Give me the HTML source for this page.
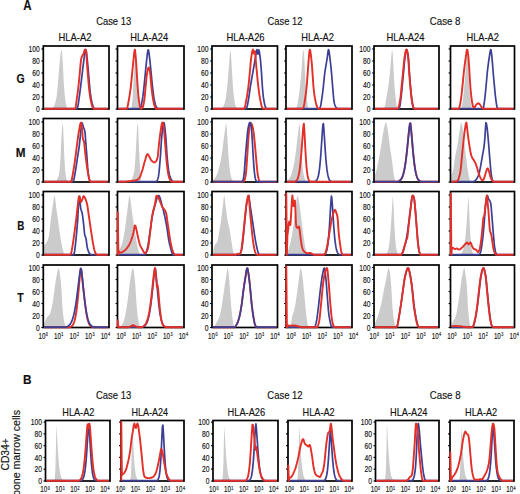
<!DOCTYPE html>
<html><head><meta charset="utf-8"><style>
html,body{margin:0;padding:0;background:#fff;}
svg{display:block;}
text{font-family:"Liberation Sans",sans-serif;fill:#111;stroke:#111;stroke-width:0.15px;}
</style></head><body>
<svg width="520" height="494" viewBox="0 0 520 494">
<rect width="520" height="494" fill="#fff"/>
<path d="M44.20,109.00 L44.20,109.00 L44.70,109.00 L45.20,109.00 L45.70,109.00 L46.20,109.00 L46.70,109.00 L47.20,109.00 L47.70,109.00 L48.20,109.00 L48.70,109.00 L49.20,109.00 L49.70,109.00 L50.20,109.00 L50.70,109.00 L51.20,109.00 L51.70,109.00 L52.20,109.00 L52.70,108.78 L53.20,108.03 L53.70,107.06 L54.20,105.91 L54.70,104.54 L55.20,102.90 L55.70,100.95 L56.20,98.64 L56.70,95.89 L57.20,91.63 L57.70,86.20 L58.20,80.44 L58.70,73.62 L59.20,67.08 L59.70,62.02 L60.20,57.03 L60.70,52.73 L61.20,50.01 L61.70,50.00 L62.20,54.70 L62.70,61.98 L63.20,70.50 L63.70,81.13 L64.20,88.66 L64.70,94.67 L65.20,98.89 L65.70,102.36 L66.20,105.08 L66.70,106.92 L67.20,108.25 L67.70,109.00 L68.20,109.00 L68.70,109.00 L69.20,109.00 L69.70,109.00 L70.20,109.00 L70.70,109.00 L71.20,109.00 L71.70,109.00 L72.20,109.00 L72.70,109.00 L73.20,109.00 L73.70,109.00 L74.20,109.00 L74.70,109.00 L75.20,109.00 L75.70,109.00 L76.20,109.00 L76.70,109.00 L77.20,109.00 L77.70,109.00 L78.20,109.00 L78.70,109.00 L79.20,109.00 L79.70,109.00 L80.20,109.00 L80.70,109.00 L81.20,109.00 L81.70,109.00 L82.20,109.00 L82.70,109.00 L83.20,109.00 L83.70,109.00 L84.20,109.00 L84.70,109.00 L85.20,109.00 L85.70,109.00 L86.20,109.00 L86.70,109.00 L87.20,109.00 L87.70,109.00 L88.20,109.00 L88.70,109.00 L89.20,109.00 L89.70,109.00 L90.20,109.00 L90.70,109.00 L91.20,109.00 L91.70,109.00 L92.20,109.00 L92.70,109.00 L93.20,109.00 L93.70,109.00 L94.20,109.00 L94.70,109.00 L95.20,109.00 L95.70,109.00 L96.20,109.00 L96.70,109.00 L97.20,109.00 L97.70,109.00 L98.20,109.00 L98.70,109.00 L99.20,109.00 L99.70,109.00 L100.20,109.00 L100.70,109.00 L101.20,109.00 L101.70,109.00 L102.20,109.00 L102.70,109.00 L103.20,109.00 L103.70,109.00 L104.20,109.00 L104.70,109.00 L105.20,109.00 L105.70,109.00 L106.20,109.00 L106.70,109.00 L107.20,109.00 L107.70,109.00 L107.70,109.00 Z" fill="#cbcbcb"/>
<rect x="43.3" y="46" width="65.70" height="63.00" fill="none" stroke="#000" stroke-width="1.7"/>
<line x1="41.40" y1="109.00" x2="43.3" y2="109.00" stroke="#000" stroke-width="1.2"/>
<line x1="41.40" y1="97.00" x2="43.3" y2="97.00" stroke="#000" stroke-width="1.2"/>
<line x1="41.40" y1="85.00" x2="43.3" y2="85.00" stroke="#000" stroke-width="1.2"/>
<line x1="41.40" y1="73.00" x2="43.3" y2="73.00" stroke="#000" stroke-width="1.2"/>
<line x1="41.40" y1="61.00" x2="43.3" y2="61.00" stroke="#000" stroke-width="1.2"/>
<line x1="41.40" y1="49.00" x2="43.3" y2="49.00" stroke="#000" stroke-width="1.2"/>
<path d="M44.2,108.7 L44.7,108.7 L45.2,108.7 L45.7,108.7 L46.2,108.7 L46.7,108.7 L47.2,108.7 L47.7,108.7 L48.2,108.7 L48.7,108.7 L49.2,108.7 L49.7,108.7 L50.2,108.7 L50.7,108.7 L51.2,108.7 L51.7,108.7 L52.2,108.7 L52.7,108.7 L53.2,108.7 L53.7,108.7 L54.2,108.7 L54.7,108.7 L55.2,108.7 L55.7,108.7 L56.2,108.7 L56.7,108.7 L57.2,108.7 L57.7,108.7 L58.2,108.7 L58.7,108.7 L59.2,108.7 L59.7,108.7 L60.2,108.7 L60.7,108.7 L61.2,108.7 L61.7,108.7 L62.2,108.7 L62.7,108.7 L63.2,108.7 L63.7,108.7 L64.2,108.7 L64.7,108.7 L65.2,108.7 L65.7,108.7 L66.2,108.7 L66.7,108.7 L67.2,108.7 L67.7,108.7 L68.2,108.7 L68.7,108.7 L69.2,108.7 L69.7,108.7 L70.2,108.7 L70.7,108.7 L71.2,108.7 L71.7,108.7 L72.2,108.7 L72.7,108.7 L73.2,108.7 L73.7,108.7 L74.2,108.7 L74.7,108.7 L75.2,108.7 L75.7,108.7 L76.2,108.7 L76.7,108.7 L77.2,108.1 L77.7,107.1 L78.2,104.6 L78.7,101.2 L79.2,97.5 L79.7,93.9 L80.2,90.1 L80.7,86.1 L81.2,81.9 L81.7,77.8 L82.2,73.6 L82.7,69.3 L83.2,65.1 L83.7,61.2 L84.2,57.5 L84.7,54.2 L85.2,51.4 L85.7,49.5 L86.2,50.9 L86.7,54.4 L87.2,59.1 L87.7,64.0 L88.2,69.3 L88.7,75.6 L89.2,81.6 L89.7,87.1 L90.2,92.1 L90.7,96.0 L91.2,98.9 L91.7,101.4 L92.2,103.4 L92.7,105.2 L93.2,106.6 L93.7,107.9 L94.2,108.7 L94.7,108.7 L95.2,108.7 L95.7,108.7 L96.2,108.7 L96.7,108.7 L97.2,108.7 L97.7,108.7 L98.2,108.7 L98.7,108.7 L99.2,108.7 L99.7,108.7 L100.2,108.7 L100.7,108.7 L101.2,108.7 L101.7,108.7 L102.2,108.7 L102.7,108.7 L103.2,108.7 L103.7,108.7 L104.2,108.7 L104.7,108.7 L105.2,108.7 L105.7,108.7 L106.2,108.7 L106.7,108.7 L107.2,108.7 L107.7,108.7" fill="none" stroke="#3c3f94" stroke-width="1.7" stroke-linejoin="round"/>
<path d="M44.2,108.7 L44.7,108.7 L45.2,108.7 L45.7,108.7 L46.2,108.7 L46.7,108.7 L47.2,108.7 L47.7,108.7 L48.2,108.7 L48.7,108.7 L49.2,108.7 L49.7,108.7 L50.2,108.7 L50.7,108.7 L51.2,108.7 L51.7,108.7 L52.2,108.7 L52.7,108.7 L53.2,108.7 L53.7,108.7 L54.2,108.7 L54.7,108.7 L55.2,108.7 L55.7,108.7 L56.2,108.7 L56.7,108.7 L57.2,108.7 L57.7,108.7 L58.2,108.7 L58.7,108.7 L59.2,108.7 L59.7,108.7 L60.2,108.7 L60.7,108.7 L61.2,108.7 L61.7,108.7 L62.2,108.7 L62.7,108.7 L63.2,108.7 L63.7,108.7 L64.2,108.7 L64.7,108.7 L65.2,108.7 L65.7,108.7 L66.2,108.7 L66.7,108.7 L67.2,108.7 L67.7,108.7 L68.2,108.7 L68.7,108.7 L69.2,108.7 L69.7,108.7 L70.2,108.7 L70.7,108.7 L71.2,108.7 L71.7,108.7 L72.2,108.7 L72.7,108.7 L73.2,108.7 L73.7,108.7 L74.2,108.7 L74.7,108.7 L75.2,108.7 L75.7,107.4 L76.2,103.6 L76.7,99.5 L77.2,95.9 L77.7,92.3 L78.2,88.3 L78.7,84.0 L79.2,79.0 L79.7,73.6 L80.2,68.1 L80.7,62.4 L81.2,59.0 L81.7,56.9 L82.2,55.8 L82.7,55.1 L83.2,54.4 L83.7,53.4 L84.2,51.6 L84.7,49.9 L85.2,49.5 L85.7,49.8 L86.2,51.2 L86.7,58.5 L87.2,66.3 L87.7,72.6 L88.2,78.7 L88.7,84.7 L89.2,90.0 L89.7,93.9 L90.2,97.3 L90.7,100.0 L91.2,102.4 L91.7,104.5 L92.2,106.3 L92.7,107.4 L93.2,108.3 L93.7,108.7 L94.2,108.7 L94.7,108.7 L95.2,108.7 L95.7,108.7 L96.2,108.7 L96.7,108.7 L97.2,108.7 L97.7,108.7 L98.2,108.7 L98.7,108.7 L99.2,108.7 L99.7,108.7 L100.2,108.7 L100.7,108.7 L101.2,108.7 L101.7,108.7 L102.2,108.7 L102.7,108.7 L103.2,108.7 L103.7,108.7 L104.2,108.7 L104.7,108.7 L105.2,108.7 L105.7,108.7 L106.2,108.7 L106.7,108.7 L107.2,108.7 L107.7,108.7" fill="none" stroke="#e22f27" stroke-width="1.9" stroke-linejoin="round"/>
<path d="M118.40,109.00 L118.40,109.00 L118.90,109.00 L119.40,109.00 L119.90,109.00 L120.40,109.00 L120.90,109.00 L121.40,109.00 L121.90,109.00 L122.40,109.00 L122.90,109.00 L123.40,109.00 L123.90,109.00 L124.40,109.00 L124.90,109.00 L125.40,109.00 L125.90,109.00 L126.40,109.00 L126.90,109.00 L127.40,109.00 L127.90,109.00 L128.40,109.00 L128.90,109.00 L129.40,109.00 L129.90,109.00 L130.40,109.00 L130.90,109.00 L131.40,108.13 L131.90,105.25 L132.40,101.07 L132.90,93.36 L133.40,84.60 L133.90,74.62 L134.40,65.71 L134.90,56.96 L135.40,51.48 L135.90,54.52 L136.40,63.64 L136.90,73.34 L137.40,84.45 L137.90,93.04 L138.40,100.09 L138.90,104.56 L139.40,107.71 L139.90,109.00 L140.40,109.00 L140.90,109.00 L141.40,109.00 L141.90,109.00 L142.40,109.00 L142.90,109.00 L143.40,109.00 L143.90,109.00 L144.40,109.00 L144.90,109.00 L145.40,109.00 L145.90,109.00 L146.40,109.00 L146.90,109.00 L147.40,109.00 L147.90,109.00 L148.40,109.00 L148.90,109.00 L149.40,109.00 L149.90,109.00 L150.40,109.00 L150.90,109.00 L151.40,109.00 L151.90,109.00 L152.40,109.00 L152.90,109.00 L153.40,109.00 L153.90,109.00 L154.40,109.00 L154.90,109.00 L155.40,109.00 L155.90,109.00 L156.40,109.00 L156.90,109.00 L157.40,109.00 L157.90,109.00 L158.40,109.00 L158.90,109.00 L159.40,109.00 L159.90,109.00 L160.40,109.00 L160.90,109.00 L161.40,109.00 L161.90,109.00 L162.40,109.00 L162.90,109.00 L163.40,109.00 L163.90,109.00 L164.40,109.00 L164.90,109.00 L165.40,109.00 L165.90,109.00 L166.40,109.00 L166.90,109.00 L167.40,109.00 L167.90,109.00 L168.40,109.00 L168.90,109.00 L169.40,109.00 L169.90,109.00 L170.40,109.00 L170.90,109.00 L171.40,109.00 L171.90,109.00 L172.40,109.00 L172.90,109.00 L173.40,109.00 L173.90,109.00 L174.40,109.00 L174.90,109.00 L175.40,109.00 L175.90,109.00 L176.40,109.00 L176.90,109.00 L177.40,109.00 L177.90,109.00 L178.40,109.00 L178.90,109.00 L179.40,109.00 L179.90,109.00 L180.40,109.00 L180.90,109.00 L181.40,109.00 L181.90,109.00 L182.40,109.00 L182.90,109.00 L182.90,109.00 Z" fill="#cbcbcb"/>
<rect x="117.5" y="46" width="66.50" height="63.00" fill="none" stroke="#000" stroke-width="1.7"/>
<line x1="115.60" y1="109.00" x2="117.5" y2="109.00" stroke="#000" stroke-width="1.2"/>
<line x1="115.60" y1="97.00" x2="117.5" y2="97.00" stroke="#000" stroke-width="1.2"/>
<line x1="115.60" y1="85.00" x2="117.5" y2="85.00" stroke="#000" stroke-width="1.2"/>
<line x1="115.60" y1="73.00" x2="117.5" y2="73.00" stroke="#000" stroke-width="1.2"/>
<line x1="115.60" y1="61.00" x2="117.5" y2="61.00" stroke="#000" stroke-width="1.2"/>
<line x1="115.60" y1="49.00" x2="117.5" y2="49.00" stroke="#000" stroke-width="1.2"/>
<path d="M118.4,108.7 L118.9,108.7 L119.4,108.7 L119.9,108.7 L120.4,108.7 L120.9,108.7 L121.4,108.7 L121.9,108.7 L122.4,108.7 L122.9,108.7 L123.4,108.7 L123.9,108.7 L124.4,108.7 L124.9,108.7 L125.4,108.7 L125.9,108.7 L126.4,108.7 L126.9,108.7 L127.4,108.7 L127.9,108.7 L128.4,108.7 L128.9,108.7 L129.4,108.7 L129.9,108.7 L130.4,108.7 L130.9,108.7 L131.4,108.7 L131.9,108.7 L132.4,108.7 L132.9,108.7 L133.4,108.7 L133.9,108.7 L134.4,108.7 L134.9,108.7 L135.4,108.7 L135.9,108.7 L136.4,108.7 L136.9,108.7 L137.4,108.7 L137.9,108.7 L138.4,108.7 L138.9,108.7 L139.4,108.7 L139.9,108.7 L140.4,108.2 L140.9,106.8 L141.4,104.7 L141.9,102.1 L142.4,99.5 L142.9,96.2 L143.4,92.1 L143.9,87.6 L144.4,82.9 L144.9,77.8 L145.4,72.5 L145.9,67.4 L146.4,62.3 L146.9,57.8 L147.4,53.6 L147.9,50.2 L148.4,49.8 L148.9,52.4 L149.4,56.3 L149.9,60.3 L150.4,65.3 L150.9,70.5 L151.4,75.7 L151.9,81.0 L152.4,85.8 L152.9,90.2 L153.4,94.3 L153.9,97.8 L154.4,100.4 L154.9,102.6 L155.4,104.5 L155.9,106.0 L156.4,107.1 L156.9,107.7 L157.4,108.3 L157.9,108.7 L158.4,108.7 L158.9,108.7 L159.4,108.7 L159.9,108.7 L160.4,108.7 L160.9,108.7 L161.4,108.7 L161.9,108.7 L162.4,108.7 L162.9,108.7 L163.4,108.7 L163.9,108.7 L164.4,108.7 L164.9,108.7 L165.4,108.7 L165.9,108.7 L166.4,108.7 L166.9,108.7 L167.4,108.7 L167.9,108.7 L168.4,108.7 L168.9,108.7 L169.4,108.7 L169.9,108.7 L170.4,108.7 L170.9,108.7 L171.4,108.7 L171.9,108.7 L172.4,108.7 L172.9,108.7 L173.4,108.7 L173.9,108.7 L174.4,108.7 L174.9,108.7 L175.4,108.7 L175.9,108.7 L176.4,108.7 L176.9,108.7 L177.4,108.7 L177.9,108.7 L178.4,108.7 L178.9,108.7 L179.4,108.7 L179.9,108.7 L180.4,108.7 L180.9,108.7 L181.4,108.7 L181.9,108.7 L182.4,108.7 L182.9,108.7" fill="none" stroke="#3c3f94" stroke-width="1.7" stroke-linejoin="round"/>
<path d="M118.4,108.7 L118.9,108.7 L119.4,108.7 L119.9,108.7 L120.4,108.7 L120.9,108.7 L121.4,108.7 L121.9,108.7 L122.4,108.7 L122.9,108.7 L123.4,108.7 L123.9,108.7 L124.4,108.7 L124.9,108.7 L125.4,108.7 L125.9,108.7 L126.4,108.7 L126.9,108.6 L127.4,107.4 L127.9,105.1 L128.4,102.3 L128.9,99.5 L129.4,96.6 L129.9,93.4 L130.4,89.8 L130.9,85.8 L131.4,81.1 L131.9,75.7 L132.4,70.5 L132.9,65.4 L133.4,60.5 L133.9,56.0 L134.4,51.2 L134.9,49.6 L135.4,53.3 L135.9,59.0 L136.4,66.6 L136.9,74.7 L137.4,82.9 L137.9,89.8 L138.4,95.9 L138.9,100.2 L139.4,103.6 L139.9,106.4 L140.4,108.1 L140.9,108.6 L141.4,108.7 L141.9,108.5 L142.4,107.9 L142.9,106.9 L143.4,105.1 L143.9,102.5 L144.4,99.5 L144.9,94.9 L145.4,89.0 L145.9,83.8 L146.4,78.6 L146.9,74.0 L147.4,71.1 L147.9,69.0 L148.4,67.6 L148.9,67.5 L149.4,69.1 L149.9,71.5 L150.4,75.7 L150.9,81.6 L151.4,86.7 L151.9,91.0 L152.4,94.9 L152.9,98.3 L153.4,101.1 L153.9,103.5 L154.4,105.6 L154.9,107.0 L155.4,107.9 L155.9,108.6 L156.4,108.7 L156.9,108.7 L157.4,108.7 L157.9,108.7 L158.4,108.7 L158.9,108.7 L159.4,108.7 L159.9,108.7 L160.4,108.7 L160.9,108.7 L161.4,108.7 L161.9,108.7 L162.4,108.7 L162.9,108.7 L163.4,108.7 L163.9,108.7 L164.4,108.7 L164.9,108.7 L165.4,108.7 L165.9,108.7 L166.4,108.7 L166.9,108.7 L167.4,108.7 L167.9,108.7 L168.4,108.7 L168.9,108.7 L169.4,108.7 L169.9,108.7 L170.4,108.7 L170.9,108.7 L171.4,108.7 L171.9,108.7 L172.4,108.7 L172.9,108.7 L173.4,108.7 L173.9,108.7 L174.4,108.7 L174.9,108.7 L175.4,108.7 L175.9,108.7 L176.4,108.7 L176.9,108.7 L177.4,108.7 L177.9,108.7 L178.4,108.7 L178.9,108.7 L179.4,108.7 L179.9,108.7 L180.4,108.7 L180.9,108.7 L181.4,108.7 L181.9,108.7 L182.4,108.7 L182.9,108.7" fill="none" stroke="#e22f27" stroke-width="1.9" stroke-linejoin="round"/>
<path d="M212.90,109.00 L212.90,109.00 L213.40,109.00 L213.90,109.00 L214.40,109.00 L214.90,109.00 L215.40,109.00 L215.90,108.99 L216.40,108.99 L216.90,108.98 L217.40,108.97 L217.90,108.96 L218.40,108.94 L218.90,108.91 L219.40,108.86 L219.90,108.79 L220.40,108.69 L220.90,108.54 L221.40,108.33 L221.90,108.04 L222.40,107.63 L222.90,107.07 L223.40,106.31 L223.90,105.29 L224.40,103.94 L224.90,102.19 L225.40,99.96 L225.90,97.15 L226.40,93.70 L226.90,89.54 L227.40,84.64 L227.90,79.03 L228.40,72.83 L228.90,66.27 L229.40,59.73 L229.90,53.86 L230.40,49.81 L230.90,53.19 L231.40,61.08 L231.90,69.90 L232.40,78.36 L232.90,85.81 L233.40,91.98 L233.90,96.85 L234.40,100.55 L234.90,103.26 L235.40,105.19 L235.90,106.53 L236.40,107.42 L236.90,108.02 L237.40,108.40 L237.90,108.64 L238.40,108.79 L238.90,108.88 L239.40,108.93 L239.90,108.96 L240.40,108.98 L240.90,108.99 L241.40,108.99 L241.90,109.00 L242.40,109.00 L242.90,109.00 L243.40,109.00 L243.90,109.00 L244.40,109.00 L244.90,109.00 L245.40,109.00 L245.90,109.00 L246.40,109.00 L246.90,109.00 L247.40,109.00 L247.90,109.00 L248.40,109.00 L248.90,109.00 L249.40,109.00 L249.90,109.00 L250.40,109.00 L250.90,109.00 L251.40,109.00 L251.90,109.00 L252.40,109.00 L252.90,109.00 L253.40,109.00 L253.90,109.00 L254.40,109.00 L254.90,109.00 L255.40,109.00 L255.90,109.00 L256.40,109.00 L256.90,109.00 L257.40,109.00 L257.90,109.00 L258.40,109.00 L258.90,109.00 L259.40,109.00 L259.90,109.00 L260.40,109.00 L260.90,109.00 L261.40,109.00 L261.90,109.00 L262.40,109.00 L262.90,109.00 L263.40,109.00 L263.90,109.00 L264.40,109.00 L264.90,109.00 L265.40,109.00 L265.90,109.00 L266.40,109.00 L266.90,109.00 L267.40,109.00 L267.90,109.00 L268.40,109.00 L268.90,109.00 L269.40,109.00 L269.90,109.00 L270.40,109.00 L270.90,109.00 L271.40,109.00 L271.90,109.00 L272.40,109.00 L272.90,109.00 L273.40,109.00 L273.90,109.00 L274.40,109.00 L274.90,109.00 L275.40,109.00 L275.90,109.00 L276.40,109.00 L276.40,109.00 Z" fill="#cbcbcb"/>
<rect x="212" y="46" width="65.50" height="63.00" fill="none" stroke="#000" stroke-width="1.7"/>
<line x1="210.10" y1="109.00" x2="212" y2="109.00" stroke="#000" stroke-width="1.2"/>
<line x1="210.10" y1="97.00" x2="212" y2="97.00" stroke="#000" stroke-width="1.2"/>
<line x1="210.10" y1="85.00" x2="212" y2="85.00" stroke="#000" stroke-width="1.2"/>
<line x1="210.10" y1="73.00" x2="212" y2="73.00" stroke="#000" stroke-width="1.2"/>
<line x1="210.10" y1="61.00" x2="212" y2="61.00" stroke="#000" stroke-width="1.2"/>
<line x1="210.10" y1="49.00" x2="212" y2="49.00" stroke="#000" stroke-width="1.2"/>
<path d="M212.9,108.7 L213.4,108.7 L213.9,108.7 L214.4,108.7 L214.9,108.7 L215.4,108.7 L215.9,108.7 L216.4,108.7 L216.9,108.7 L217.4,108.7 L217.9,108.7 L218.4,108.7 L218.9,108.7 L219.4,108.7 L219.9,108.7 L220.4,108.7 L220.9,108.7 L221.4,108.7 L221.9,108.7 L222.4,108.7 L222.9,108.7 L223.4,108.7 L223.9,108.7 L224.4,108.7 L224.9,108.7 L225.4,108.7 L225.9,108.7 L226.4,108.7 L226.9,108.7 L227.4,108.7 L227.9,108.7 L228.4,108.7 L228.9,108.7 L229.4,108.7 L229.9,108.7 L230.4,108.7 L230.9,108.7 L231.4,108.7 L231.9,108.7 L232.4,108.7 L232.9,108.7 L233.4,108.7 L233.9,108.7 L234.4,108.7 L234.9,108.7 L235.4,108.7 L235.9,108.7 L236.4,108.7 L236.9,108.7 L237.4,108.7 L237.9,108.7 L238.4,108.7 L238.9,108.7 L239.4,108.7 L239.9,108.7 L240.4,108.7 L240.9,108.7 L241.4,108.7 L241.9,108.7 L242.4,108.7 L242.9,108.7 L243.4,108.7 L243.9,108.7 L244.4,108.7 L244.9,108.7 L245.4,108.7 L245.9,108.7 L246.4,108.4 L246.9,107.4 L247.4,105.4 L247.9,102.8 L248.4,100.0 L248.9,97.1 L249.4,93.6 L249.9,89.9 L250.4,86.4 L250.9,83.4 L251.4,80.5 L251.9,77.7 L252.4,74.9 L252.9,72.1 L253.4,69.2 L253.9,66.4 L254.4,63.6 L254.9,60.7 L255.4,57.8 L255.9,54.2 L256.4,50.7 L256.9,49.6 L257.4,52.6 L257.9,54.1 L258.4,50.2 L258.9,49.9 L259.4,52.2 L259.9,55.6 L260.4,59.5 L260.9,65.0 L261.4,71.5 L261.9,79.6 L262.4,87.0 L262.9,92.7 L263.4,97.4 L263.9,100.6 L264.4,103.2 L264.9,105.4 L265.4,107.0 L265.9,108.0 L266.4,108.6 L266.9,108.7 L267.4,108.7 L267.9,108.7 L268.4,108.7 L268.9,108.7 L269.4,108.7 L269.9,108.7 L270.4,108.7 L270.9,108.7 L271.4,108.7 L271.9,108.7 L272.4,108.7 L272.9,108.7 L273.4,108.7 L273.9,108.7 L274.4,108.7 L274.9,108.7 L275.4,108.7 L275.9,108.7 L276.4,108.7" fill="none" stroke="#3c3f94" stroke-width="1.7" stroke-linejoin="round"/>
<path d="M212.9,108.7 L213.4,108.7 L213.9,108.7 L214.4,108.7 L214.9,108.7 L215.4,108.7 L215.9,108.7 L216.4,108.7 L216.9,108.7 L217.4,108.7 L217.9,108.7 L218.4,108.7 L218.9,108.7 L219.4,108.7 L219.9,108.7 L220.4,108.7 L220.9,108.7 L221.4,108.7 L221.9,108.7 L222.4,108.7 L222.9,108.7 L223.4,108.7 L223.9,108.7 L224.4,108.7 L224.9,108.7 L225.4,108.7 L225.9,108.7 L226.4,108.7 L226.9,108.7 L227.4,108.7 L227.9,108.7 L228.4,108.7 L228.9,108.7 L229.4,108.7 L229.9,108.7 L230.4,108.7 L230.9,108.7 L231.4,108.7 L231.9,108.7 L232.4,108.7 L232.9,108.7 L233.4,108.7 L233.9,108.7 L234.4,108.7 L234.9,108.7 L235.4,108.7 L235.9,108.7 L236.4,108.7 L236.9,108.7 L237.4,108.7 L237.9,108.7 L238.4,108.7 L238.9,108.7 L239.4,108.7 L239.9,108.7 L240.4,108.7 L240.9,108.7 L241.4,108.7 L241.9,108.7 L242.4,108.7 L242.9,108.7 L243.4,108.7 L243.9,108.6 L244.4,108.3 L244.9,107.1 L245.4,104.9 L245.9,102.2 L246.4,99.5 L246.9,96.8 L247.4,93.7 L247.9,90.3 L248.4,86.6 L248.9,82.2 L249.4,76.9 L249.9,71.5 L250.4,65.8 L250.9,60.3 L251.4,56.5 L251.9,53.3 L252.4,50.8 L252.9,49.5 L253.4,51.6 L253.9,53.5 L254.4,51.2 L254.9,51.6 L255.4,55.4 L255.9,61.8 L256.4,67.5 L256.9,72.5 L257.4,77.9 L257.9,83.1 L258.4,87.4 L258.9,91.3 L259.4,94.8 L259.9,97.9 L260.4,100.5 L260.9,103.0 L261.4,105.3 L261.9,107.0 L262.4,107.9 L262.9,108.4 L263.4,108.7 L263.9,108.7 L264.4,108.7 L264.9,108.7 L265.4,108.7 L265.9,108.7 L266.4,108.7 L266.9,108.7 L267.4,108.7 L267.9,108.7 L268.4,108.7 L268.9,108.7 L269.4,108.7 L269.9,108.7 L270.4,108.7 L270.9,108.7 L271.4,108.7 L271.9,108.7 L272.4,108.7 L272.9,108.7 L273.4,108.7 L273.9,108.7 L274.4,108.7 L274.9,108.7 L275.4,108.7 L275.9,108.7 L276.4,108.7" fill="none" stroke="#e22f27" stroke-width="1.9" stroke-linejoin="round"/>
<path d="M286.90,109.00 L286.90,109.00 L287.40,109.00 L287.90,109.00 L288.40,109.00 L288.90,109.00 L289.40,109.00 L289.90,109.00 L290.40,109.00 L290.90,109.00 L291.40,109.00 L291.90,109.00 L292.40,109.00 L292.90,109.00 L293.40,109.00 L293.90,109.00 L294.40,109.00 L294.90,109.00 L295.40,108.89 L295.90,108.50 L296.40,107.89 L296.90,107.03 L297.40,105.05 L297.90,102.15 L298.40,98.81 L298.90,95.41 L299.40,91.39 L299.90,86.98 L300.40,82.60 L300.90,78.03 L301.40,72.70 L301.90,65.16 L302.40,58.22 L302.90,52.37 L303.40,49.50 L303.90,52.67 L304.40,59.38 L304.90,70.58 L305.40,79.92 L305.90,87.47 L306.40,93.70 L306.90,98.73 L307.40,103.44 L307.90,106.81 L308.40,107.99 L308.90,108.67 L309.40,108.99 L309.90,109.00 L310.40,109.00 L310.90,109.00 L311.40,109.00 L311.90,109.00 L312.40,109.00 L312.90,109.00 L313.40,109.00 L313.90,109.00 L314.40,109.00 L314.90,109.00 L315.40,109.00 L315.90,109.00 L316.40,109.00 L316.90,109.00 L317.40,109.00 L317.90,109.00 L318.40,109.00 L318.90,109.00 L319.40,109.00 L319.90,109.00 L320.40,109.00 L320.90,109.00 L321.40,109.00 L321.90,109.00 L322.40,109.00 L322.90,109.00 L323.40,109.00 L323.90,109.00 L324.40,109.00 L324.90,109.00 L325.40,109.00 L325.90,109.00 L326.40,109.00 L326.90,109.00 L327.40,109.00 L327.90,109.00 L328.40,109.00 L328.90,109.00 L329.40,109.00 L329.90,109.00 L330.40,109.00 L330.90,109.00 L331.40,109.00 L331.90,109.00 L332.40,109.00 L332.90,109.00 L333.40,109.00 L333.90,109.00 L334.40,109.00 L334.90,109.00 L335.40,109.00 L335.90,109.00 L336.40,109.00 L336.90,109.00 L337.40,109.00 L337.90,109.00 L338.40,109.00 L338.90,109.00 L339.40,109.00 L339.90,109.00 L340.40,109.00 L340.90,109.00 L341.40,109.00 L341.90,109.00 L342.40,109.00 L342.90,109.00 L343.40,109.00 L343.90,109.00 L344.40,109.00 L344.90,109.00 L345.40,109.00 L345.90,109.00 L346.40,109.00 L346.90,109.00 L347.40,109.00 L347.90,109.00 L348.40,109.00 L348.90,109.00 L349.40,109.00 L349.90,109.00 L350.40,109.00 L350.90,109.00 L350.90,109.00 Z" fill="#cbcbcb"/>
<rect x="286" y="46" width="66.00" height="63.00" fill="none" stroke="#000" stroke-width="1.7"/>
<line x1="284.10" y1="109.00" x2="286" y2="109.00" stroke="#000" stroke-width="1.2"/>
<line x1="284.10" y1="97.00" x2="286" y2="97.00" stroke="#000" stroke-width="1.2"/>
<line x1="284.10" y1="85.00" x2="286" y2="85.00" stroke="#000" stroke-width="1.2"/>
<line x1="284.10" y1="73.00" x2="286" y2="73.00" stroke="#000" stroke-width="1.2"/>
<line x1="284.10" y1="61.00" x2="286" y2="61.00" stroke="#000" stroke-width="1.2"/>
<line x1="284.10" y1="49.00" x2="286" y2="49.00" stroke="#000" stroke-width="1.2"/>
<path d="M286.9,108.7 L287.4,108.7 L287.9,108.7 L288.4,108.7 L288.9,108.7 L289.4,108.7 L289.9,108.7 L290.4,108.7 L290.9,108.7 L291.4,108.7 L291.9,108.7 L292.4,108.7 L292.9,108.7 L293.4,108.7 L293.9,108.7 L294.4,108.7 L294.9,108.7 L295.4,108.7 L295.9,108.7 L296.4,108.7 L296.9,108.7 L297.4,108.7 L297.9,108.7 L298.4,108.7 L298.9,108.7 L299.4,108.7 L299.9,108.7 L300.4,108.7 L300.9,108.7 L301.4,108.7 L301.9,108.7 L302.4,108.7 L302.9,108.7 L303.4,108.7 L303.9,108.7 L304.4,108.7 L304.9,108.7 L305.4,108.7 L305.9,108.7 L306.4,108.7 L306.9,108.7 L307.4,108.7 L307.9,108.7 L308.4,108.7 L308.9,108.7 L309.4,108.7 L309.9,108.7 L310.4,108.7 L310.9,108.7 L311.4,108.7 L311.9,108.7 L312.4,108.7 L312.9,108.7 L313.4,108.7 L313.9,108.7 L314.4,108.7 L314.9,108.7 L315.4,108.7 L315.9,108.7 L316.4,108.7 L316.9,108.7 L317.4,108.7 L317.9,108.7 L318.4,108.7 L318.9,108.7 L319.4,108.3 L319.9,107.7 L320.4,106.8 L320.9,104.6 L321.4,101.5 L321.9,98.1 L322.4,94.7 L322.9,90.5 L323.4,86.1 L323.9,81.2 L324.4,76.2 L324.9,72.0 L325.4,68.8 L325.9,65.9 L326.4,62.9 L326.9,59.8 L327.4,56.6 L327.9,52.6 L328.4,49.6 L328.9,50.5 L329.4,53.7 L329.9,57.8 L330.4,61.8 L330.9,66.5 L331.4,71.6 L331.9,77.4 L332.4,83.9 L332.9,89.9 L333.4,96.0 L333.9,101.0 L334.4,103.4 L334.9,105.0 L335.4,106.3 L335.9,107.2 L336.4,107.8 L336.9,108.4 L337.4,108.7 L337.9,108.7 L338.4,108.7 L338.9,108.7 L339.4,108.7 L339.9,108.7 L340.4,108.7 L340.9,108.7 L341.4,108.7 L341.9,108.7 L342.4,108.7 L342.9,108.7 L343.4,108.7 L343.9,108.7 L344.4,108.7 L344.9,108.7 L345.4,108.7 L345.9,108.7 L346.4,108.7 L346.9,108.7 L347.4,108.7 L347.9,108.7 L348.4,108.7 L348.9,108.7 L349.4,108.7 L349.9,108.7 L350.4,108.7 L350.9,108.7" fill="none" stroke="#3c3f94" stroke-width="1.7" stroke-linejoin="round"/>
<path d="M286.9,108.7 L287.4,108.7 L287.9,108.7 L288.4,108.7 L288.9,108.7 L289.4,108.7 L289.9,108.7 L290.4,108.7 L290.9,108.7 L291.4,108.7 L291.9,108.7 L292.4,108.7 L292.9,108.7 L293.4,108.7 L293.9,108.7 L294.4,108.7 L294.9,108.7 L295.4,108.7 L295.9,108.7 L296.4,108.7 L296.9,108.7 L297.4,108.7 L297.9,108.7 L298.4,108.7 L298.9,108.7 L299.4,108.7 L299.9,108.7 L300.4,108.7 L300.9,108.7 L301.4,108.7 L301.9,108.7 L302.4,108.6 L302.9,108.1 L303.4,107.5 L303.9,106.0 L304.4,103.4 L304.9,100.2 L305.4,96.8 L305.9,93.2 L306.4,89.0 L306.9,83.8 L307.4,76.9 L307.9,70.0 L308.4,63.0 L308.9,57.1 L309.4,51.5 L309.9,49.6 L310.4,51.5 L310.9,55.1 L311.4,59.4 L311.9,64.7 L312.4,71.4 L312.9,78.9 L313.4,86.1 L313.9,91.0 L314.4,94.9 L314.9,97.9 L315.4,100.5 L315.9,102.9 L316.4,104.9 L316.9,106.4 L317.4,107.5 L317.9,108.2 L318.4,108.7 L318.9,108.7 L319.4,108.7 L319.9,108.7 L320.4,108.7 L320.9,108.7 L321.4,108.7 L321.9,108.7 L322.4,108.7 L322.9,108.7 L323.4,108.7 L323.9,108.7 L324.4,108.7 L324.9,108.7 L325.4,108.7 L325.9,108.7 L326.4,108.7 L326.9,108.7 L327.4,108.7 L327.9,108.7 L328.4,108.7 L328.9,108.7 L329.4,108.7 L329.9,108.7 L330.4,108.7 L330.9,108.7 L331.4,108.7 L331.9,108.7 L332.4,108.7 L332.9,108.7 L333.4,108.7 L333.9,108.7 L334.4,108.7 L334.9,108.7 L335.4,108.7 L335.9,108.7 L336.4,108.7 L336.9,108.7 L337.4,108.7 L337.9,108.7 L338.4,108.7 L338.9,108.7 L339.4,108.7 L339.9,108.7 L340.4,108.7 L340.9,108.7 L341.4,108.7 L341.9,108.7 L342.4,108.7 L342.9,108.7 L343.4,108.7 L343.9,108.7 L344.4,108.7 L344.9,108.7 L345.4,108.7 L345.9,108.7 L346.4,108.7 L346.9,108.7 L347.4,108.7 L347.9,108.7 L348.4,108.7 L348.9,108.7 L349.4,108.7 L349.9,108.7 L350.4,108.7 L350.9,108.7" fill="none" stroke="#e22f27" stroke-width="1.9" stroke-linejoin="round"/>
<path d="M374.90,109.00 L374.90,109.00 L375.40,109.00 L375.90,109.00 L376.40,109.00 L376.90,109.00 L377.40,109.00 L377.90,109.00 L378.40,109.00 L378.90,109.00 L379.40,109.00 L379.90,109.00 L380.40,109.00 L380.90,109.00 L381.40,109.00 L381.90,109.00 L382.40,109.00 L382.90,109.00 L383.40,108.83 L383.90,108.25 L384.40,107.40 L384.90,105.99 L385.40,103.51 L385.90,100.58 L386.40,97.82 L386.90,95.13 L387.40,92.32 L387.90,89.29 L388.40,85.92 L388.90,82.02 L389.40,77.48 L389.90,72.53 L390.40,67.06 L390.90,61.11 L391.40,55.55 L391.90,50.20 L392.40,50.81 L392.90,56.54 L393.40,65.15 L393.90,75.67 L394.40,85.20 L394.90,91.06 L395.40,95.63 L395.90,99.71 L396.40,103.84 L396.90,106.88 L397.40,108.25 L397.90,108.98 L398.40,109.00 L398.90,109.00 L399.40,109.00 L399.90,109.00 L400.40,109.00 L400.90,109.00 L401.40,109.00 L401.90,109.00 L402.40,109.00 L402.90,109.00 L403.40,109.00 L403.90,109.00 L404.40,109.00 L404.90,109.00 L405.40,109.00 L405.90,109.00 L406.40,109.00 L406.90,109.00 L407.40,109.00 L407.90,109.00 L408.40,109.00 L408.90,109.00 L409.40,109.00 L409.90,109.00 L410.40,109.00 L410.90,109.00 L411.40,109.00 L411.90,109.00 L412.40,109.00 L412.90,109.00 L413.40,109.00 L413.90,109.00 L414.40,109.00 L414.90,109.00 L415.40,109.00 L415.90,109.00 L416.40,109.00 L416.90,109.00 L417.40,109.00 L417.90,109.00 L418.40,109.00 L418.90,109.00 L419.40,109.00 L419.90,109.00 L420.40,109.00 L420.90,109.00 L421.40,109.00 L421.90,109.00 L422.40,109.00 L422.90,109.00 L423.40,109.00 L423.90,109.00 L424.40,109.00 L424.90,109.00 L425.40,109.00 L425.90,109.00 L426.40,109.00 L426.90,109.00 L427.40,109.00 L427.90,109.00 L428.40,109.00 L428.90,109.00 L429.40,109.00 L429.90,109.00 L430.40,109.00 L430.90,109.00 L431.40,109.00 L431.90,109.00 L432.40,109.00 L432.90,109.00 L433.40,109.00 L433.90,109.00 L434.40,109.00 L434.90,109.00 L435.40,109.00 L435.90,109.00 L436.40,109.00 L436.90,109.00 L437.40,109.00 L437.90,109.00 L437.90,109.00 Z" fill="#cbcbcb"/>
<rect x="374" y="46" width="65.00" height="63.00" fill="none" stroke="#000" stroke-width="1.7"/>
<line x1="372.10" y1="109.00" x2="374" y2="109.00" stroke="#000" stroke-width="1.2"/>
<line x1="372.10" y1="97.00" x2="374" y2="97.00" stroke="#000" stroke-width="1.2"/>
<line x1="372.10" y1="85.00" x2="374" y2="85.00" stroke="#000" stroke-width="1.2"/>
<line x1="372.10" y1="73.00" x2="374" y2="73.00" stroke="#000" stroke-width="1.2"/>
<line x1="372.10" y1="61.00" x2="374" y2="61.00" stroke="#000" stroke-width="1.2"/>
<line x1="372.10" y1="49.00" x2="374" y2="49.00" stroke="#000" stroke-width="1.2"/>
<path d="M374.9,108.7 L375.4,108.7 L375.9,108.7 L376.4,108.7 L376.9,108.7 L377.4,108.7 L377.9,108.7 L378.4,108.7 L378.9,108.7 L379.4,108.7 L379.9,108.7 L380.4,108.7 L380.9,108.7 L381.4,108.7 L381.9,108.7 L382.4,108.7 L382.9,108.7 L383.4,108.7 L383.9,108.7 L384.4,108.7 L384.9,108.7 L385.4,108.7 L385.9,108.7 L386.4,108.7 L386.9,108.7 L387.4,108.7 L387.9,108.7 L388.4,108.7 L388.9,108.7 L389.4,108.7 L389.9,108.7 L390.4,108.7 L390.9,108.7 L391.4,108.7 L391.9,108.7 L392.4,108.7 L392.9,108.7 L393.4,108.7 L393.9,108.7 L394.4,108.7 L394.9,108.7 L395.4,108.7 L395.9,108.7 L396.4,108.7 L396.9,108.7 L397.4,108.7 L397.9,108.7 L398.4,108.7 L398.9,108.6 L399.4,108.1 L399.9,105.9 L400.4,102.6 L400.9,98.9 L401.4,94.6 L401.9,89.4 L402.4,84.2 L402.9,79.0 L403.4,73.6 L403.9,68.2 L404.4,62.4 L404.9,57.8 L405.4,54.4 L405.9,51.4 L406.4,49.7 L406.9,49.8 L407.4,51.5 L407.9,54.3 L408.4,57.8 L408.9,64.9 L409.4,72.9 L409.9,79.4 L410.4,85.2 L410.9,90.7 L411.4,95.6 L411.9,99.6 L412.4,103.0 L412.9,105.6 L413.4,107.1 L413.9,108.1 L414.4,108.6 L414.9,108.7 L415.4,108.7 L415.9,108.7 L416.4,108.7 L416.9,108.7 L417.4,108.7 L417.9,108.7 L418.4,108.7 L418.9,108.7 L419.4,108.7 L419.9,108.7 L420.4,108.7 L420.9,108.7 L421.4,108.7 L421.9,108.7 L422.4,108.7 L422.9,108.7 L423.4,108.7 L423.9,108.7 L424.4,108.7 L424.9,108.7 L425.4,108.7 L425.9,108.7 L426.4,108.7 L426.9,108.7 L427.4,108.7 L427.9,108.7 L428.4,108.7 L428.9,108.7 L429.4,108.7 L429.9,108.7 L430.4,108.7 L430.9,108.7 L431.4,108.7 L431.9,108.7 L432.4,108.7 L432.9,108.7 L433.4,108.7 L433.9,108.7 L434.4,108.7 L434.9,108.7 L435.4,108.7 L435.9,108.7 L436.4,108.7 L436.9,108.7 L437.4,108.7 L437.9,108.7" fill="none" stroke="#3c3f94" stroke-width="1.7" stroke-linejoin="round"/>
<path d="M374.9,108.7 L375.4,108.7 L375.9,108.7 L376.4,108.7 L376.9,108.7 L377.4,108.7 L377.9,108.7 L378.4,108.7 L378.9,108.7 L379.4,108.7 L379.9,108.7 L380.4,108.7 L380.9,108.7 L381.4,108.7 L381.9,108.7 L382.4,108.7 L382.9,108.7 L383.4,108.7 L383.9,108.7 L384.4,108.7 L384.9,108.7 L385.4,108.7 L385.9,108.7 L386.4,108.7 L386.9,108.7 L387.4,108.7 L387.9,108.7 L388.4,108.7 L388.9,108.7 L389.4,108.7 L389.9,108.7 L390.4,108.7 L390.9,108.7 L391.4,108.7 L391.9,108.7 L392.4,108.7 L392.9,108.7 L393.4,108.7 L393.9,108.7 L394.4,108.7 L394.9,108.7 L395.4,108.7 L395.9,108.7 L396.4,108.7 L396.9,108.7 L397.4,108.7 L397.9,108.4 L398.4,107.6 L398.9,106.0 L399.4,103.8 L399.9,101.2 L400.4,98.2 L400.9,93.8 L401.4,88.3 L401.9,83.2 L402.4,78.4 L402.9,73.5 L403.4,68.4 L403.9,63.0 L404.4,58.5 L404.9,55.3 L405.4,52.5 L405.9,50.3 L406.4,49.5 L406.9,50.3 L407.4,52.5 L407.9,55.6 L408.4,60.0 L408.9,68.4 L409.4,75.5 L409.9,81.8 L410.4,87.4 L410.9,92.7 L411.4,97.4 L411.9,101.0 L412.4,104.1 L412.9,106.3 L413.4,107.5 L413.9,108.4 L414.4,108.7 L414.9,108.7 L415.4,108.7 L415.9,108.7 L416.4,108.7 L416.9,108.7 L417.4,108.7 L417.9,108.7 L418.4,108.7 L418.9,108.7 L419.4,108.7 L419.9,108.7 L420.4,108.7 L420.9,108.7 L421.4,108.7 L421.9,108.7 L422.4,108.7 L422.9,108.7 L423.4,108.7 L423.9,108.7 L424.4,108.7 L424.9,108.7 L425.4,108.7 L425.9,108.7 L426.4,108.7 L426.9,108.7 L427.4,108.7 L427.9,108.7 L428.4,108.7 L428.9,108.7 L429.4,108.7 L429.9,108.7 L430.4,108.7 L430.9,108.7 L431.4,108.7 L431.9,108.7 L432.4,108.7 L432.9,108.7 L433.4,108.7 L433.9,108.7 L434.4,108.7 L434.9,108.7 L435.4,108.7 L435.9,108.7 L436.4,108.7 L436.9,108.7 L437.4,108.7 L437.9,108.7" fill="none" stroke="#e22f27" stroke-width="1.9" stroke-linejoin="round"/>
<path d="M451.40,109.00 L451.40,109.00 L451.90,109.00 L452.40,109.00 L452.90,109.00 L453.40,109.00 L453.90,109.00 L454.40,109.00 L454.90,109.00 L455.40,109.00 L455.90,109.00 L456.40,109.00 L456.90,109.00 L457.40,109.00 L457.90,109.00 L458.40,109.00 L458.90,109.00 L459.40,109.00 L459.90,109.00 L460.40,109.00 L460.90,109.00 L461.40,107.79 L461.90,105.56 L462.40,102.72 L462.90,99.48 L463.40,95.33 L463.90,90.15 L464.40,84.72 L464.90,79.17 L465.40,72.91 L465.90,64.36 L466.40,56.70 L466.90,51.89 L467.40,52.22 L467.90,56.70 L468.40,66.40 L468.90,79.25 L469.40,88.65 L469.90,94.32 L470.40,98.68 L470.90,102.80 L471.40,106.52 L471.90,108.41 L472.40,108.81 L472.90,108.99 L473.40,109.00 L473.90,109.00 L474.40,109.00 L474.90,109.00 L475.40,109.00 L475.90,109.00 L476.40,109.00 L476.90,109.00 L477.40,109.00 L477.90,109.00 L478.40,109.00 L478.90,109.00 L479.40,109.00 L479.90,109.00 L480.40,109.00 L480.90,109.00 L481.40,109.00 L481.90,109.00 L482.40,109.00 L482.90,109.00 L483.40,109.00 L483.90,109.00 L484.40,109.00 L484.90,109.00 L485.40,109.00 L485.90,109.00 L486.40,109.00 L486.90,109.00 L487.40,109.00 L487.90,109.00 L488.40,109.00 L488.90,109.00 L489.40,109.00 L489.90,109.00 L490.40,109.00 L490.90,109.00 L491.40,109.00 L491.90,109.00 L492.40,109.00 L492.90,109.00 L493.40,109.00 L493.90,109.00 L494.40,109.00 L494.90,109.00 L495.40,109.00 L495.90,109.00 L496.40,109.00 L496.90,109.00 L497.40,109.00 L497.90,109.00 L498.40,109.00 L498.90,109.00 L499.40,109.00 L499.90,109.00 L500.40,109.00 L500.90,109.00 L501.40,109.00 L501.90,109.00 L502.40,109.00 L502.90,109.00 L503.40,109.00 L503.90,109.00 L504.40,109.00 L504.90,109.00 L505.40,109.00 L505.90,109.00 L506.40,109.00 L506.90,109.00 L507.40,109.00 L507.90,109.00 L508.40,109.00 L508.90,109.00 L509.40,109.00 L509.90,109.00 L510.40,109.00 L510.90,109.00 L511.40,109.00 L511.90,109.00 L512.40,109.00 L512.90,109.00 L513.40,109.00 L513.40,109.00 Z" fill="#cbcbcb"/>
<rect x="450.5" y="46" width="64.00" height="63.00" fill="none" stroke="#000" stroke-width="1.7"/>
<line x1="448.60" y1="109.00" x2="450.5" y2="109.00" stroke="#000" stroke-width="1.2"/>
<line x1="448.60" y1="97.00" x2="450.5" y2="97.00" stroke="#000" stroke-width="1.2"/>
<line x1="448.60" y1="85.00" x2="450.5" y2="85.00" stroke="#000" stroke-width="1.2"/>
<line x1="448.60" y1="73.00" x2="450.5" y2="73.00" stroke="#000" stroke-width="1.2"/>
<line x1="448.60" y1="61.00" x2="450.5" y2="61.00" stroke="#000" stroke-width="1.2"/>
<line x1="448.60" y1="49.00" x2="450.5" y2="49.00" stroke="#000" stroke-width="1.2"/>
<path d="M451.4,108.7 L451.9,108.7 L452.4,108.7 L452.9,108.7 L453.4,108.7 L453.9,108.7 L454.4,108.7 L454.9,108.7 L455.4,108.7 L455.9,108.7 L456.4,108.7 L456.9,108.7 L457.4,108.7 L457.9,108.7 L458.4,108.7 L458.9,108.7 L459.4,108.7 L459.9,108.7 L460.4,108.7 L460.9,108.7 L461.4,108.7 L461.9,108.7 L462.4,108.7 L462.9,108.7 L463.4,108.7 L463.9,108.7 L464.4,108.7 L464.9,108.7 L465.4,108.7 L465.9,108.7 L466.4,108.7 L466.9,108.7 L467.4,108.7 L467.9,108.7 L468.4,108.7 L468.9,108.7 L469.4,108.7 L469.9,108.7 L470.4,108.7 L470.9,108.7 L471.4,108.7 L471.9,108.7 L472.4,108.7 L472.9,108.7 L473.4,108.7 L473.9,108.7 L474.4,108.7 L474.9,108.7 L475.4,108.7 L475.9,108.7 L476.4,108.7 L476.9,108.7 L477.4,108.7 L477.9,108.7 L478.4,108.7 L478.9,108.7 L479.4,108.7 L479.9,108.7 L480.4,108.7 L480.9,108.7 L481.4,108.7 L481.9,108.7 L482.4,108.7 L482.9,108.7 L483.4,107.8 L483.9,105.2 L484.4,101.7 L484.9,97.9 L485.4,93.2 L485.9,87.9 L486.4,82.5 L486.9,76.7 L487.4,71.5 L487.9,67.2 L488.4,63.3 L488.9,59.7 L489.4,56.5 L489.9,53.1 L490.4,50.3 L490.9,49.6 L491.4,52.3 L491.9,56.9 L492.4,62.3 L492.9,69.0 L493.4,75.0 L493.9,80.5 L494.4,85.8 L494.9,91.1 L495.4,96.2 L495.9,100.2 L496.4,103.6 L496.9,106.5 L497.4,108.3 L497.9,108.7 L498.4,108.7 L498.9,108.7 L499.4,108.7 L499.9,108.7 L500.4,108.7 L500.9,108.7 L501.4,108.7 L501.9,108.7 L502.4,108.7 L502.9,108.7 L503.4,108.7 L503.9,108.7 L504.4,108.7 L504.9,108.7 L505.4,108.7 L505.9,108.7 L506.4,108.7 L506.9,108.7 L507.4,108.7 L507.9,108.7 L508.4,108.7 L508.9,108.7 L509.4,108.7 L509.9,108.7 L510.4,108.7 L510.9,108.7 L511.4,108.7 L511.9,108.7 L512.4,108.7 L512.9,108.7 L513.4,108.7" fill="none" stroke="#3c3f94" stroke-width="1.7" stroke-linejoin="round"/>
<path d="M451.4,108.7 L451.9,108.7 L452.4,108.7 L452.9,108.7 L453.4,108.7 L453.9,108.7 L454.4,108.7 L454.9,108.7 L455.4,108.7 L455.9,108.7 L456.4,108.7 L456.9,108.7 L457.4,108.7 L457.9,108.7 L458.4,108.7 L458.9,108.6 L459.4,107.5 L459.9,105.3 L460.4,102.5 L460.9,99.5 L461.4,95.9 L461.9,91.5 L462.4,86.7 L462.9,81.8 L463.4,76.4 L463.9,71.5 L464.4,67.3 L464.9,63.4 L465.4,59.9 L465.9,56.4 L466.4,52.5 L466.9,49.8 L467.4,50.0 L467.9,52.8 L468.4,56.9 L468.9,63.1 L469.4,71.5 L469.9,79.9 L470.4,87.0 L470.9,92.6 L471.4,97.3 L471.9,100.8 L472.4,103.8 L472.9,106.2 L473.4,107.1 L473.9,107.4 L474.4,107.5 L474.9,107.0 L475.4,106.0 L475.9,105.1 L476.4,104.6 L476.9,104.1 L477.4,103.7 L477.9,103.5 L478.4,103.3 L478.9,103.4 L479.4,103.8 L479.9,104.5 L480.4,105.3 L480.9,106.0 L481.4,106.7 L481.9,107.5 L482.4,108.2 L482.9,108.7 L483.4,108.7 L483.9,108.7 L484.4,108.7 L484.9,108.7 L485.4,108.7 L485.9,108.7 L486.4,108.7 L486.9,108.7 L487.4,108.7 L487.9,108.7 L488.4,108.7 L488.9,108.7 L489.4,108.7 L489.9,108.7 L490.4,108.7 L490.9,108.7 L491.4,108.7 L491.9,108.7 L492.4,108.7 L492.9,108.7 L493.4,108.7 L493.9,108.7 L494.4,108.7 L494.9,108.7 L495.4,108.7 L495.9,108.7 L496.4,108.7 L496.9,108.7 L497.4,108.7 L497.9,108.7 L498.4,108.7 L498.9,108.7 L499.4,108.7 L499.9,108.7 L500.4,108.7 L500.9,108.7 L501.4,108.7 L501.9,108.7 L502.4,108.7 L502.9,108.7 L503.4,108.7 L503.9,108.7 L504.4,108.7 L504.9,108.7 L505.4,108.7 L505.9,108.7 L506.4,108.7 L506.9,108.7 L507.4,108.7 L507.9,108.7 L508.4,108.7 L508.9,108.7 L509.4,108.7 L509.9,108.7 L510.4,108.7 L510.9,108.7 L511.4,108.7 L511.9,108.7 L512.4,108.7 L512.9,108.7 L513.4,108.7" fill="none" stroke="#e22f27" stroke-width="1.9" stroke-linejoin="round"/>
<path d="M44.20,182.00 L44.20,182.00 L44.70,182.00 L45.20,182.00 L45.70,182.00 L46.20,182.00 L46.70,182.00 L47.20,182.00 L47.70,182.00 L48.20,182.00 L48.70,182.00 L49.20,182.00 L49.70,182.00 L50.20,182.00 L50.70,182.00 L51.20,182.00 L51.70,182.00 L52.20,182.00 L52.70,182.00 L53.20,182.00 L53.70,182.00 L54.20,182.00 L54.70,182.00 L55.20,182.00 L55.70,181.95 L56.20,181.52 L56.70,180.67 L57.20,179.30 L57.70,177.98 L58.20,176.66 L58.70,175.08 L59.20,172.95 L59.70,169.49 L60.20,163.04 L60.70,153.89 L61.20,141.94 L61.70,133.12 L62.20,125.88 L62.70,122.73 L63.20,128.62 L63.70,141.12 L64.20,153.96 L64.70,163.71 L65.20,170.95 L65.70,174.77 L66.20,177.40 L66.70,179.41 L67.20,181.07 L67.70,181.66 L68.20,181.95 L68.70,182.00 L69.20,182.00 L69.70,182.00 L70.20,182.00 L70.70,182.00 L71.20,182.00 L71.70,182.00 L72.20,182.00 L72.70,182.00 L73.20,182.00 L73.70,182.00 L74.20,182.00 L74.70,182.00 L75.20,182.00 L75.70,182.00 L76.20,182.00 L76.70,182.00 L77.20,182.00 L77.70,182.00 L78.20,182.00 L78.70,182.00 L79.20,182.00 L79.70,182.00 L80.20,182.00 L80.70,182.00 L81.20,182.00 L81.70,182.00 L82.20,182.00 L82.70,182.00 L83.20,182.00 L83.70,182.00 L84.20,182.00 L84.70,182.00 L85.20,182.00 L85.70,182.00 L86.20,182.00 L86.70,182.00 L87.20,182.00 L87.70,182.00 L88.20,182.00 L88.70,182.00 L89.20,182.00 L89.70,182.00 L90.20,182.00 L90.70,182.00 L91.20,182.00 L91.70,182.00 L92.20,182.00 L92.70,182.00 L93.20,182.00 L93.70,182.00 L94.20,182.00 L94.70,182.00 L95.20,182.00 L95.70,182.00 L96.20,182.00 L96.70,182.00 L97.20,182.00 L97.70,182.00 L98.20,182.00 L98.70,182.00 L99.20,182.00 L99.70,182.00 L100.20,182.00 L100.70,182.00 L101.20,182.00 L101.70,182.00 L102.20,182.00 L102.70,182.00 L103.20,182.00 L103.70,182.00 L104.20,182.00 L104.70,182.00 L105.20,182.00 L105.70,182.00 L106.20,182.00 L106.70,182.00 L107.20,182.00 L107.70,182.00 L107.70,182.00 Z" fill="#cbcbcb"/>
<rect x="43.3" y="118.5" width="65.70" height="63.50" fill="none" stroke="#000" stroke-width="1.7"/>
<line x1="41.40" y1="182.00" x2="43.3" y2="182.00" stroke="#000" stroke-width="1.2"/>
<line x1="41.40" y1="170.00" x2="43.3" y2="170.00" stroke="#000" stroke-width="1.2"/>
<line x1="41.40" y1="158.00" x2="43.3" y2="158.00" stroke="#000" stroke-width="1.2"/>
<line x1="41.40" y1="146.00" x2="43.3" y2="146.00" stroke="#000" stroke-width="1.2"/>
<line x1="41.40" y1="134.00" x2="43.3" y2="134.00" stroke="#000" stroke-width="1.2"/>
<line x1="41.40" y1="122.00" x2="43.3" y2="122.00" stroke="#000" stroke-width="1.2"/>
<path d="M44.2,181.7 L44.7,181.7 L45.2,181.7 L45.7,181.7 L46.2,181.7 L46.7,181.7 L47.2,181.7 L47.7,181.7 L48.2,181.7 L48.7,181.7 L49.2,181.7 L49.7,181.7 L50.2,181.7 L50.7,181.7 L51.2,181.7 L51.7,181.7 L52.2,181.7 L52.7,181.7 L53.2,181.7 L53.7,181.7 L54.2,181.7 L54.7,181.7 L55.2,181.7 L55.7,181.7 L56.2,181.7 L56.7,181.7 L57.2,181.7 L57.7,181.7 L58.2,181.7 L58.7,181.7 L59.2,181.7 L59.7,181.7 L60.2,181.7 L60.7,181.7 L61.2,181.7 L61.7,181.7 L62.2,181.7 L62.7,181.7 L63.2,181.7 L63.7,181.7 L64.2,181.7 L64.7,181.7 L65.2,181.7 L65.7,181.7 L66.2,181.7 L66.7,181.7 L67.2,181.7 L67.7,181.7 L68.2,181.7 L68.7,181.7 L69.2,181.7 L69.7,181.7 L70.2,181.7 L70.7,181.7 L71.2,181.7 L71.7,181.7 L72.2,181.7 L72.7,181.7 L73.2,181.4 L73.7,180.3 L74.2,178.1 L74.7,175.3 L75.2,172.4 L75.7,169.6 L76.2,166.4 L76.7,163.0 L77.2,159.5 L77.7,156.2 L78.2,153.1 L78.7,149.8 L79.2,146.3 L79.7,142.2 L80.2,137.3 L80.7,132.1 L81.2,127.0 L81.7,122.7 L82.2,123.1 L82.7,124.8 L83.2,126.7 L83.7,127.9 L84.2,129.0 L84.7,130.6 L85.2,133.9 L85.7,141.5 L86.2,147.8 L86.7,153.9 L87.2,161.0 L87.7,167.9 L88.2,172.6 L88.7,176.6 L89.2,179.0 L89.7,180.4 L90.2,181.3 L90.7,181.7 L91.2,181.7 L91.7,181.7 L92.2,181.7 L92.7,181.7 L93.2,181.7 L93.7,181.7 L94.2,181.7 L94.7,181.7 L95.2,181.7 L95.7,181.7 L96.2,181.7 L96.7,181.7 L97.2,181.7 L97.7,181.7 L98.2,181.7 L98.7,181.7 L99.2,181.7 L99.7,181.7 L100.2,181.7 L100.7,181.7 L101.2,181.7 L101.7,181.7 L102.2,181.7 L102.7,181.7 L103.2,181.7 L103.7,181.7 L104.2,181.7 L104.7,181.7 L105.2,181.7 L105.7,181.7 L106.2,181.7 L106.7,181.7 L107.2,181.7 L107.7,181.7" fill="none" stroke="#3c3f94" stroke-width="1.7" stroke-linejoin="round"/>
<path d="M44.2,181.7 L44.7,181.7 L45.2,181.7 L45.7,181.7 L46.2,181.7 L46.7,181.7 L47.2,181.7 L47.7,181.7 L48.2,181.7 L48.7,181.7 L49.2,181.7 L49.7,181.7 L50.2,181.7 L50.7,181.7 L51.2,181.7 L51.7,181.7 L52.2,181.7 L52.7,181.7 L53.2,181.7 L53.7,181.7 L54.2,181.7 L54.7,181.7 L55.2,181.7 L55.7,181.7 L56.2,181.7 L56.7,181.7 L57.2,181.7 L57.7,181.7 L58.2,181.7 L58.7,181.7 L59.2,181.7 L59.7,181.7 L60.2,181.7 L60.7,181.7 L61.2,181.7 L61.7,181.7 L62.2,181.7 L62.7,181.7 L63.2,181.7 L63.7,181.7 L64.2,181.7 L64.7,181.7 L65.2,181.7 L65.7,181.7 L66.2,181.7 L66.7,181.7 L67.2,181.7 L67.7,181.7 L68.2,181.7 L68.7,181.7 L69.2,181.7 L69.7,181.7 L70.2,181.7 L70.7,181.7 L71.2,181.4 L71.7,180.2 L72.2,177.8 L72.7,174.8 L73.2,171.9 L73.7,169.0 L74.2,165.8 L74.7,162.4 L75.2,158.9 L75.7,155.2 L76.2,151.1 L76.7,147.0 L77.2,143.2 L77.7,139.5 L78.2,135.8 L78.7,132.5 L79.2,129.7 L79.7,126.8 L80.2,124.2 L80.7,122.7 L81.2,123.1 L81.7,126.1 L82.2,130.2 L82.7,137.3 L83.2,140.0 L83.7,140.8 L84.2,142.7 L84.7,147.9 L85.2,152.8 L85.7,157.0 L86.2,160.9 L86.7,164.6 L87.2,168.1 L87.7,171.3 L88.2,174.2 L88.7,176.9 L89.2,179.0 L89.7,180.7 L90.2,181.5 L90.7,181.7 L91.2,181.7 L91.7,181.7 L92.2,181.7 L92.7,181.7 L93.2,181.7 L93.7,181.7 L94.2,181.7 L94.7,181.7 L95.2,181.7 L95.7,181.7 L96.2,181.7 L96.7,181.7 L97.2,181.7 L97.7,181.7 L98.2,181.7 L98.7,181.7 L99.2,181.7 L99.7,181.7 L100.2,181.7 L100.7,181.7 L101.2,181.7 L101.7,181.7 L102.2,181.7 L102.7,181.7 L103.2,181.7 L103.7,181.7 L104.2,181.7 L104.7,181.7 L105.2,181.7 L105.7,181.7 L106.2,181.7 L106.7,181.7 L107.2,181.7 L107.7,181.7" fill="none" stroke="#e22f27" stroke-width="1.9" stroke-linejoin="round"/>
<path d="M118.40,182.00 L118.40,182.00 L118.90,182.00 L119.40,182.00 L119.90,182.00 L120.40,182.00 L120.90,182.00 L121.40,182.00 L121.90,182.00 L122.40,182.00 L122.90,182.00 L123.40,182.00 L123.90,182.00 L124.40,182.00 L124.90,182.00 L125.40,182.00 L125.90,182.00 L126.40,182.00 L126.90,182.00 L127.40,182.00 L127.90,182.00 L128.40,182.00 L128.90,182.00 L129.40,182.00 L129.90,182.00 L130.40,182.00 L130.90,181.20 L131.40,180.09 L131.90,178.85 L132.40,177.60 L132.90,176.33 L133.40,174.82 L133.90,172.85 L134.40,169.82 L134.90,164.53 L135.40,158.02 L135.90,149.81 L136.40,140.17 L136.90,130.35 L137.40,123.47 L137.90,124.39 L138.40,132.47 L138.90,146.45 L139.40,156.09 L139.90,166.08 L140.40,175.97 L140.90,180.51 L141.40,181.95 L141.90,182.00 L142.40,182.00 L142.90,182.00 L143.40,182.00 L143.90,182.00 L144.40,182.00 L144.90,182.00 L145.40,182.00 L145.90,182.00 L146.40,182.00 L146.90,182.00 L147.40,182.00 L147.90,182.00 L148.40,182.00 L148.90,182.00 L149.40,182.00 L149.90,182.00 L150.40,182.00 L150.90,182.00 L151.40,182.00 L151.90,182.00 L152.40,182.00 L152.90,182.00 L153.40,182.00 L153.90,182.00 L154.40,182.00 L154.90,182.00 L155.40,182.00 L155.90,182.00 L156.40,182.00 L156.90,182.00 L157.40,182.00 L157.90,182.00 L158.40,182.00 L158.90,182.00 L159.40,182.00 L159.90,182.00 L160.40,182.00 L160.90,182.00 L161.40,182.00 L161.90,182.00 L162.40,182.00 L162.90,182.00 L163.40,182.00 L163.90,182.00 L164.40,182.00 L164.90,182.00 L165.40,182.00 L165.90,182.00 L166.40,182.00 L166.90,182.00 L167.40,182.00 L167.90,182.00 L168.40,182.00 L168.90,182.00 L169.40,182.00 L169.90,182.00 L170.40,182.00 L170.90,182.00 L171.40,182.00 L171.90,182.00 L172.40,182.00 L172.90,182.00 L173.40,182.00 L173.90,182.00 L174.40,182.00 L174.90,182.00 L175.40,182.00 L175.90,182.00 L176.40,182.00 L176.90,182.00 L177.40,182.00 L177.90,182.00 L178.40,182.00 L178.90,182.00 L179.40,182.00 L179.90,182.00 L180.40,182.00 L180.90,182.00 L181.40,182.00 L181.90,182.00 L182.40,182.00 L182.90,182.00 L182.90,182.00 Z" fill="#cbcbcb"/>
<rect x="117.5" y="118.5" width="66.50" height="63.50" fill="none" stroke="#000" stroke-width="1.7"/>
<line x1="115.60" y1="182.00" x2="117.5" y2="182.00" stroke="#000" stroke-width="1.2"/>
<line x1="115.60" y1="170.00" x2="117.5" y2="170.00" stroke="#000" stroke-width="1.2"/>
<line x1="115.60" y1="158.00" x2="117.5" y2="158.00" stroke="#000" stroke-width="1.2"/>
<line x1="115.60" y1="146.00" x2="117.5" y2="146.00" stroke="#000" stroke-width="1.2"/>
<line x1="115.60" y1="134.00" x2="117.5" y2="134.00" stroke="#000" stroke-width="1.2"/>
<line x1="115.60" y1="122.00" x2="117.5" y2="122.00" stroke="#000" stroke-width="1.2"/>
<path d="M118.4,181.7 L118.9,181.7 L119.4,181.7 L119.9,181.7 L120.4,181.7 L120.9,181.7 L121.4,181.7 L121.9,181.7 L122.4,181.7 L122.9,181.7 L123.4,181.7 L123.9,181.7 L124.4,181.7 L124.9,181.7 L125.4,181.7 L125.9,181.7 L126.4,181.7 L126.9,181.7 L127.4,181.7 L127.9,181.7 L128.4,181.7 L128.9,181.7 L129.4,181.7 L129.9,181.7 L130.4,181.7 L130.9,181.7 L131.4,181.7 L131.9,181.7 L132.4,181.7 L132.9,181.7 L133.4,181.7 L133.9,181.7 L134.4,181.7 L134.9,181.7 L135.4,181.7 L135.9,181.7 L136.4,181.7 L136.9,181.7 L137.4,181.7 L137.9,181.7 L138.4,181.7 L138.9,181.7 L139.4,181.7 L139.9,181.7 L140.4,181.7 L140.9,181.7 L141.4,181.7 L141.9,181.7 L142.4,181.7 L142.9,181.7 L143.4,181.7 L143.9,181.7 L144.4,181.7 L144.9,181.7 L145.4,181.7 L145.9,181.7 L146.4,181.7 L146.9,181.7 L147.4,181.7 L147.9,181.7 L148.4,181.7 L148.9,181.7 L149.4,181.7 L149.9,181.7 L150.4,181.7 L150.9,181.7 L151.4,181.7 L151.9,181.7 L152.4,181.7 L152.9,181.7 L153.4,181.7 L153.9,181.7 L154.4,181.7 L154.9,181.7 L155.4,181.7 L155.9,181.7 L156.4,181.7 L156.9,181.1 L157.4,180.0 L157.9,178.5 L158.4,176.7 L158.9,173.4 L159.4,168.5 L159.9,162.6 L160.4,156.6 L160.9,148.8 L161.4,140.8 L161.9,135.2 L162.4,130.3 L162.9,126.1 L163.4,123.3 L163.9,122.6 L164.4,124.4 L164.9,128.2 L165.4,133.1 L165.9,138.2 L166.4,145.7 L166.9,154.0 L167.4,159.9 L167.9,164.8 L168.4,169.1 L168.9,172.5 L169.4,174.7 L169.9,176.4 L170.4,177.8 L170.9,178.9 L171.4,179.8 L171.9,180.5 L172.4,181.0 L172.9,181.5 L173.4,181.7 L173.9,181.7 L174.4,181.7 L174.9,181.7 L175.4,181.7 L175.9,181.7 L176.4,181.7 L176.9,181.7 L177.4,181.7 L177.9,181.7 L178.4,181.7 L178.9,181.7 L179.4,181.7 L179.9,181.7 L180.4,181.7 L180.9,181.7 L181.4,181.7 L181.9,181.7 L182.4,181.7 L182.9,181.7" fill="none" stroke="#3c3f94" stroke-width="1.7" stroke-linejoin="round"/>
<path d="M118.4,181.7 L118.9,181.7 L119.4,181.7 L119.9,181.7 L120.4,181.7 L120.9,181.7 L121.4,181.7 L121.9,181.7 L122.4,181.7 L122.9,181.7 L123.4,181.7 L123.9,181.7 L124.4,181.7 L124.9,181.7 L125.4,181.7 L125.9,181.6 L126.4,181.5 L126.9,181.5 L127.4,181.4 L127.9,181.4 L128.4,181.3 L128.9,181.2 L129.4,181.2 L129.9,181.1 L130.4,181.1 L130.9,181.0 L131.4,180.9 L131.9,180.9 L132.4,180.8 L132.9,180.8 L133.4,180.7 L133.9,180.6 L134.4,180.6 L134.9,180.5 L135.4,180.4 L135.9,180.2 L136.4,180.1 L136.9,179.9 L137.4,179.6 L137.9,179.3 L138.4,179.0 L138.9,178.5 L139.4,177.9 L139.9,177.0 L140.4,175.8 L140.9,174.5 L141.4,173.0 L141.9,171.6 L142.4,170.1 L142.9,168.3 L143.4,166.4 L143.9,164.4 L144.4,162.6 L144.9,160.9 L145.4,159.3 L145.9,157.5 L146.4,155.9 L146.9,154.7 L147.4,154.1 L147.9,154.2 L148.4,154.9 L148.9,155.9 L149.4,156.8 L149.9,157.7 L150.4,158.8 L150.9,159.7 L151.4,160.5 L151.9,160.9 L152.4,161.4 L152.9,161.8 L153.4,162.1 L153.9,162.3 L154.4,162.4 L154.9,162.3 L155.4,161.9 L155.9,161.4 L156.4,160.7 L156.9,159.8 L157.4,158.4 L157.9,155.7 L158.4,150.4 L158.9,144.9 L159.4,140.3 L159.9,136.1 L160.4,132.6 L160.9,129.1 L161.4,125.9 L161.9,123.5 L162.4,122.5 L162.9,123.5 L163.4,126.0 L163.9,129.1 L164.4,134.0 L164.9,140.2 L165.4,146.3 L165.9,152.7 L166.4,159.1 L166.9,164.5 L167.4,168.4 L167.9,171.9 L168.4,174.8 L168.9,176.9 L169.4,178.4 L169.9,179.7 L170.4,180.7 L170.9,181.3 L171.4,181.6 L171.9,181.7 L172.4,181.7 L172.9,181.7 L173.4,181.7 L173.9,181.7 L174.4,181.7 L174.9,181.7 L175.4,181.7 L175.9,181.7 L176.4,181.7 L176.9,181.7 L177.4,181.7 L177.9,181.7 L178.4,181.7 L178.9,181.7 L179.4,181.7 L179.9,181.7 L180.4,181.7 L180.9,181.7 L181.4,181.7 L181.9,181.7 L182.4,181.7 L182.9,181.7" fill="none" stroke="#e22f27" stroke-width="1.9" stroke-linejoin="round"/>
<path d="M212.90,182.00 L212.90,180.02 L213.40,179.64 L213.90,179.19 L214.40,178.67 L214.90,178.06 L215.40,177.35 L215.90,176.53 L216.40,175.59 L216.90,174.51 L217.40,173.27 L217.90,171.87 L218.40,170.28 L218.90,168.49 L219.40,166.48 L219.90,164.25 L220.40,161.78 L220.90,159.07 L221.40,156.12 L221.90,152.92 L222.40,149.50 L222.90,145.88 L223.40,142.09 L223.90,138.20 L224.40,134.30 L224.90,130.48 L225.40,126.94 L225.90,123.97 L226.40,123.14 L226.90,129.93 L227.40,138.44 L227.90,146.87 L228.40,154.48 L228.90,160.96 L229.40,166.26 L229.90,170.45 L230.40,173.68 L230.90,176.10 L231.40,177.88 L231.90,179.16 L232.40,180.07 L232.90,180.71 L233.40,181.15 L233.90,181.44 L234.40,181.64 L234.90,181.77 L235.40,181.85 L235.90,181.91 L236.40,181.94 L236.90,181.96 L237.40,181.98 L237.90,181.99 L238.40,181.99 L238.90,182.00 L239.40,182.00 L239.90,182.00 L240.40,182.00 L240.90,182.00 L241.40,182.00 L241.90,182.00 L242.40,182.00 L242.90,182.00 L243.40,182.00 L243.90,182.00 L244.40,182.00 L244.90,182.00 L245.40,182.00 L245.90,182.00 L246.40,182.00 L246.90,182.00 L247.40,182.00 L247.90,182.00 L248.40,182.00 L248.90,182.00 L249.40,182.00 L249.90,182.00 L250.40,182.00 L250.90,182.00 L251.40,182.00 L251.90,182.00 L252.40,182.00 L252.90,182.00 L253.40,182.00 L253.90,182.00 L254.40,182.00 L254.90,182.00 L255.40,182.00 L255.90,182.00 L256.40,182.00 L256.90,182.00 L257.40,182.00 L257.90,182.00 L258.40,182.00 L258.90,182.00 L259.40,182.00 L259.90,182.00 L260.40,182.00 L260.90,182.00 L261.40,182.00 L261.90,182.00 L262.40,182.00 L262.90,182.00 L263.40,182.00 L263.90,182.00 L264.40,182.00 L264.90,182.00 L265.40,182.00 L265.90,182.00 L266.40,182.00 L266.90,182.00 L267.40,182.00 L267.90,182.00 L268.40,182.00 L268.90,182.00 L269.40,182.00 L269.90,182.00 L270.40,182.00 L270.90,182.00 L271.40,182.00 L271.90,182.00 L272.40,182.00 L272.90,182.00 L273.40,182.00 L273.90,182.00 L274.40,182.00 L274.90,182.00 L275.40,182.00 L275.90,182.00 L276.40,182.00 L276.40,182.00 Z" fill="#cbcbcb"/>
<rect x="212" y="118.5" width="65.50" height="63.50" fill="none" stroke="#000" stroke-width="1.7"/>
<line x1="210.10" y1="182.00" x2="212" y2="182.00" stroke="#000" stroke-width="1.2"/>
<line x1="210.10" y1="170.00" x2="212" y2="170.00" stroke="#000" stroke-width="1.2"/>
<line x1="210.10" y1="158.00" x2="212" y2="158.00" stroke="#000" stroke-width="1.2"/>
<line x1="210.10" y1="146.00" x2="212" y2="146.00" stroke="#000" stroke-width="1.2"/>
<line x1="210.10" y1="134.00" x2="212" y2="134.00" stroke="#000" stroke-width="1.2"/>
<line x1="210.10" y1="122.00" x2="212" y2="122.00" stroke="#000" stroke-width="1.2"/>
<path d="M212.9,181.7 L213.4,181.7 L213.9,181.7 L214.4,181.7 L214.9,181.7 L215.4,181.7 L215.9,181.7 L216.4,181.7 L216.9,181.7 L217.4,181.7 L217.9,181.7 L218.4,181.7 L218.9,181.7 L219.4,181.7 L219.9,181.7 L220.4,181.7 L220.9,181.7 L221.4,181.7 L221.9,181.7 L222.4,181.7 L222.9,181.7 L223.4,181.7 L223.9,181.7 L224.4,181.7 L224.9,181.7 L225.4,181.7 L225.9,181.7 L226.4,181.7 L226.9,181.7 L227.4,181.7 L227.9,181.7 L228.4,181.7 L228.9,181.7 L229.4,181.7 L229.9,181.7 L230.4,181.7 L230.9,181.7 L231.4,181.7 L231.9,181.7 L232.4,181.7 L232.9,181.7 L233.4,181.7 L233.9,181.7 L234.4,181.7 L234.9,181.7 L235.4,181.7 L235.9,181.7 L236.4,181.7 L236.9,181.7 L237.4,181.7 L237.9,181.7 L238.4,181.7 L238.9,181.7 L239.4,181.7 L239.9,181.7 L240.4,181.7 L240.9,181.7 L241.4,181.7 L241.9,181.7 L242.4,181.7 L242.9,181.7 L243.4,181.7 L243.9,181.3 L244.4,180.4 L244.9,179.1 L245.4,176.9 L245.9,173.8 L246.4,168.7 L246.9,161.2 L247.4,153.7 L247.9,145.7 L248.4,138.5 L248.9,132.8 L249.4,127.8 L249.9,124.9 L250.4,123.7 L250.9,123.1 L251.4,123.5 L251.9,124.6 L252.4,126.1 L252.9,128.1 L253.4,130.8 L253.9,134.7 L254.4,139.4 L254.9,144.5 L255.4,150.2 L255.9,156.0 L256.4,161.6 L256.9,167.2 L257.4,171.8 L257.9,175.6 L258.4,178.1 L258.9,180.1 L259.4,181.3 L259.9,181.7 L260.4,181.7 L260.9,181.7 L261.4,181.7 L261.9,181.7 L262.4,181.7 L262.9,181.7 L263.4,181.7 L263.9,181.7 L264.4,181.7 L264.9,181.7 L265.4,181.7 L265.9,181.7 L266.4,181.7 L266.9,181.7 L267.4,181.7 L267.9,181.7 L268.4,181.7 L268.9,181.7 L269.4,181.7 L269.9,181.7 L270.4,181.7 L270.9,181.7 L271.4,181.7 L271.9,181.7 L272.4,181.7 L272.9,181.7 L273.4,181.7 L273.9,181.7 L274.4,181.7 L274.9,181.7 L275.4,181.7 L275.9,181.7 L276.4,181.7" fill="none" stroke="#e22f27" stroke-width="1.9" stroke-linejoin="round"/>
<path d="M212.9,181.7 L213.4,181.7 L213.9,181.7 L214.4,181.7 L214.9,181.7 L215.4,181.7 L215.9,181.7 L216.4,181.7 L216.9,181.7 L217.4,181.7 L217.9,181.7 L218.4,181.7 L218.9,181.7 L219.4,181.7 L219.9,181.7 L220.4,181.7 L220.9,181.7 L221.4,181.7 L221.9,181.7 L222.4,181.7 L222.9,181.7 L223.4,181.7 L223.9,181.7 L224.4,181.7 L224.9,181.7 L225.4,181.7 L225.9,181.7 L226.4,181.7 L226.9,181.7 L227.4,181.7 L227.9,181.7 L228.4,181.7 L228.9,181.7 L229.4,181.7 L229.9,181.7 L230.4,181.7 L230.9,181.7 L231.4,181.7 L231.9,181.7 L232.4,181.7 L232.9,181.7 L233.4,181.7 L233.9,181.7 L234.4,181.7 L234.9,181.7 L235.4,181.7 L235.9,181.7 L236.4,181.7 L236.9,181.7 L237.4,181.7 L237.9,181.7 L238.4,181.7 L238.9,181.7 L239.4,181.7 L239.9,181.7 L240.4,181.7 L240.9,181.7 L241.4,181.7 L241.9,181.7 L242.4,181.3 L242.9,180.4 L243.4,178.7 L243.9,175.5 L244.4,171.0 L244.9,164.0 L245.4,156.9 L245.9,150.6 L246.4,144.7 L246.9,139.3 L247.4,134.2 L247.9,129.7 L248.4,126.8 L248.9,124.7 L249.4,123.1 L249.9,122.5 L250.4,123.2 L250.9,125.2 L251.4,127.9 L251.9,134.1 L252.4,141.9 L252.9,151.2 L253.4,159.7 L253.9,166.6 L254.4,172.2 L254.9,176.1 L255.4,178.9 L255.9,180.4 L256.4,181.5 L256.9,181.7 L257.4,181.7 L257.9,181.7 L258.4,181.7 L258.9,181.7 L259.4,181.7 L259.9,181.7 L260.4,181.7 L260.9,181.7 L261.4,181.7 L261.9,181.7 L262.4,181.7 L262.9,181.7 L263.4,181.7 L263.9,181.7 L264.4,181.7 L264.9,181.7 L265.4,181.7 L265.9,181.7 L266.4,181.7 L266.9,181.7 L267.4,181.7 L267.9,181.7 L268.4,181.7 L268.9,181.7 L269.4,181.7 L269.9,181.7 L270.4,181.7 L270.9,181.7 L271.4,181.7 L271.9,181.7 L272.4,181.7 L272.9,181.7 L273.4,181.7 L273.9,181.7 L274.4,181.7 L274.9,181.7 L275.4,181.7 L275.9,181.7 L276.4,181.7" fill="none" stroke="#3c3f94" stroke-width="1.7" stroke-linejoin="round"/>
<path d="M286.90,182.00 L286.90,180.59 L287.40,180.28 L287.90,179.89 L288.40,179.43 L288.90,178.88 L289.40,178.22 L289.90,177.44 L290.40,176.52 L290.90,175.44 L291.40,174.19 L291.90,172.73 L292.40,171.05 L292.90,169.12 L293.40,166.92 L293.90,164.44 L294.40,161.65 L294.90,158.56 L295.40,155.15 L295.90,151.44 L296.40,147.46 L296.90,143.24 L297.40,138.87 L297.90,134.46 L298.40,130.16 L298.90,126.23 L299.40,123.16 L299.90,125.69 L300.40,134.14 L300.90,143.27 L301.40,151.77 L301.90,159.09 L302.40,165.07 L302.90,169.77 L303.40,173.34 L303.90,175.99 L304.40,177.89 L304.90,179.24 L305.40,180.17 L305.90,180.81 L306.40,181.23 L306.90,181.51 L307.40,181.70 L307.90,181.81 L308.40,181.88 L308.90,181.93 L309.40,181.96 L309.90,181.98 L310.40,181.99 L310.90,181.99 L311.40,182.00 L311.90,182.00 L312.40,182.00 L312.90,182.00 L313.40,182.00 L313.90,182.00 L314.40,182.00 L314.90,182.00 L315.40,182.00 L315.90,182.00 L316.40,182.00 L316.90,182.00 L317.40,182.00 L317.90,182.00 L318.40,182.00 L318.90,182.00 L319.40,182.00 L319.90,182.00 L320.40,182.00 L320.90,182.00 L321.40,182.00 L321.90,182.00 L322.40,182.00 L322.90,182.00 L323.40,182.00 L323.90,182.00 L324.40,182.00 L324.90,182.00 L325.40,182.00 L325.90,182.00 L326.40,182.00 L326.90,182.00 L327.40,182.00 L327.90,182.00 L328.40,182.00 L328.90,182.00 L329.40,182.00 L329.90,182.00 L330.40,182.00 L330.90,182.00 L331.40,182.00 L331.90,182.00 L332.40,182.00 L332.90,182.00 L333.40,182.00 L333.90,182.00 L334.40,182.00 L334.90,182.00 L335.40,182.00 L335.90,182.00 L336.40,182.00 L336.90,182.00 L337.40,182.00 L337.90,182.00 L338.40,182.00 L338.90,182.00 L339.40,182.00 L339.90,182.00 L340.40,182.00 L340.90,182.00 L341.40,182.00 L341.90,182.00 L342.40,182.00 L342.90,182.00 L343.40,182.00 L343.90,182.00 L344.40,182.00 L344.90,182.00 L345.40,182.00 L345.90,182.00 L346.40,182.00 L346.90,182.00 L347.40,182.00 L347.90,182.00 L348.40,182.00 L348.90,182.00 L349.40,182.00 L349.90,182.00 L350.40,182.00 L350.90,182.00 L350.90,182.00 Z" fill="#cbcbcb"/>
<rect x="286" y="118.5" width="66.00" height="63.50" fill="none" stroke="#000" stroke-width="1.7"/>
<line x1="284.10" y1="182.00" x2="286" y2="182.00" stroke="#000" stroke-width="1.2"/>
<line x1="284.10" y1="170.00" x2="286" y2="170.00" stroke="#000" stroke-width="1.2"/>
<line x1="284.10" y1="158.00" x2="286" y2="158.00" stroke="#000" stroke-width="1.2"/>
<line x1="284.10" y1="146.00" x2="286" y2="146.00" stroke="#000" stroke-width="1.2"/>
<line x1="284.10" y1="134.00" x2="286" y2="134.00" stroke="#000" stroke-width="1.2"/>
<line x1="284.10" y1="122.00" x2="286" y2="122.00" stroke="#000" stroke-width="1.2"/>
<path d="M286.9,181.7 L287.4,181.7 L287.9,181.7 L288.4,181.7 L288.9,181.7 L289.4,181.7 L289.9,181.7 L290.4,181.7 L290.9,181.7 L291.4,181.7 L291.9,181.7 L292.4,181.7 L292.9,181.7 L293.4,181.7 L293.9,181.7 L294.4,181.7 L294.9,181.7 L295.4,181.7 L295.9,181.7 L296.4,181.7 L296.9,181.7 L297.4,181.7 L297.9,181.7 L298.4,181.7 L298.9,181.7 L299.4,181.7 L299.9,181.7 L300.4,181.7 L300.9,181.7 L301.4,181.7 L301.9,181.7 L302.4,181.7 L302.9,181.7 L303.4,181.7 L303.9,181.7 L304.4,181.7 L304.9,181.7 L305.4,181.7 L305.9,181.7 L306.4,181.7 L306.9,181.7 L307.4,181.7 L307.9,181.7 L308.4,181.7 L308.9,181.7 L309.4,181.7 L309.9,181.7 L310.4,181.7 L310.9,181.7 L311.4,181.7 L311.9,181.7 L312.4,181.7 L312.9,181.7 L313.4,181.7 L313.9,181.7 L314.4,181.7 L314.9,181.6 L315.4,181.4 L315.9,181.1 L316.4,180.6 L316.9,179.9 L317.4,178.9 L317.9,177.5 L318.4,175.5 L318.9,173.0 L319.4,169.6 L319.9,165.2 L320.4,159.9 L320.9,153.5 L321.4,146.3 L321.9,138.5 L322.4,130.8 L322.9,124.5 L323.4,123.6 L323.9,129.6 L324.4,137.2 L324.9,145.1 L325.4,152.6 L325.9,159.2 L326.4,164.7 L326.9,169.2 L327.4,172.7 L327.9,175.4 L328.4,177.4 L328.9,178.8 L329.4,179.9 L329.9,180.6 L330.4,181.1 L330.9,181.4 L331.4,181.6 L331.9,181.7 L332.4,181.7 L332.9,181.7 L333.4,181.7 L333.9,181.7 L334.4,181.7 L334.9,181.7 L335.4,181.7 L335.9,181.7 L336.4,181.7 L336.9,181.7 L337.4,181.7 L337.9,181.7 L338.4,181.7 L338.9,181.7 L339.4,181.7 L339.9,181.7 L340.4,181.7 L340.9,181.7 L341.4,181.7 L341.9,181.7 L342.4,181.7 L342.9,181.7 L343.4,181.7 L343.9,181.7 L344.4,181.7 L344.9,181.7 L345.4,181.7 L345.9,181.7 L346.4,181.7 L346.9,181.7 L347.4,181.7 L347.9,181.7 L348.4,181.7 L348.9,181.7 L349.4,181.7 L349.9,181.7 L350.4,181.7 L350.9,181.7" fill="none" stroke="#3c3f94" stroke-width="1.7" stroke-linejoin="round"/>
<path d="M286.9,181.7 L287.4,181.7 L287.9,181.7 L288.4,181.7 L288.9,181.7 L289.4,181.7 L289.9,181.7 L290.4,181.7 L290.9,181.7 L291.4,181.7 L291.9,181.7 L292.4,181.7 L292.9,181.7 L293.4,181.7 L293.9,181.7 L294.4,181.7 L294.9,181.6 L295.4,181.4 L295.9,181.1 L296.4,180.6 L296.9,180.0 L297.4,179.1 L297.9,177.9 L298.4,176.3 L298.9,174.2 L299.4,171.5 L299.9,168.0 L300.4,163.7 L300.9,158.6 L301.4,152.6 L301.9,145.9 L302.4,138.8 L302.9,131.8 L303.4,125.8 L303.9,123.7 L304.4,130.8 L304.9,140.5 L305.4,150.1 L305.9,158.6 L306.4,165.5 L306.9,170.7 L307.4,174.6 L307.9,177.3 L308.4,179.0 L308.9,180.2 L309.4,180.9 L309.9,181.4 L310.4,181.7 L310.9,181.7 L311.4,181.7 L311.9,181.7 L312.4,181.7 L312.9,181.7 L313.4,181.7 L313.9,181.7 L314.4,181.7 L314.9,181.7 L315.4,181.7 L315.9,181.7 L316.4,181.7 L316.9,181.7 L317.4,181.7 L317.9,181.7 L318.4,181.7 L318.9,181.7 L319.4,181.7 L319.9,181.7 L320.4,181.7 L320.9,181.7 L321.4,181.7 L321.9,181.7 L322.4,181.7 L322.9,181.7 L323.4,181.7 L323.9,181.7 L324.4,181.7 L324.9,181.7 L325.4,181.7 L325.9,181.7 L326.4,181.7 L326.9,181.7 L327.4,181.7 L327.9,181.7 L328.4,181.7 L328.9,181.7 L329.4,181.7 L329.9,181.7 L330.4,181.7 L330.9,181.7 L331.4,181.7 L331.9,181.7 L332.4,181.7 L332.9,181.7 L333.4,181.7 L333.9,181.7 L334.4,181.7 L334.9,181.7 L335.4,181.7 L335.9,181.7 L336.4,181.7 L336.9,181.7 L337.4,181.7 L337.9,181.7 L338.4,181.7 L338.9,181.7 L339.4,181.7 L339.9,181.7 L340.4,181.7 L340.9,181.7 L341.4,181.7 L341.9,181.7 L342.4,181.7 L342.9,181.7 L343.4,181.7 L343.9,181.7 L344.4,181.7 L344.9,181.7 L345.4,181.7 L345.9,181.7 L346.4,181.7 L346.9,181.7 L347.4,181.7 L347.9,181.7 L348.4,181.7 L348.9,181.7 L349.4,181.7 L349.9,181.7 L350.4,181.7 L350.9,181.7" fill="none" stroke="#e22f27" stroke-width="1.9" stroke-linejoin="round"/>
<path d="M374.90,182.00 L374.90,175.17 L375.40,173.81 L375.90,172.23 L376.40,170.47 L376.90,168.44 L377.40,166.03 L377.90,163.47 L378.40,160.92 L378.90,158.29 L379.40,155.59 L379.90,152.81 L380.40,149.95 L380.90,146.98 L381.40,143.96 L381.90,140.95 L382.40,137.86 L382.90,134.61 L383.40,131.51 L383.90,128.89 L384.40,126.68 L384.90,124.52 L385.40,122.96 L385.90,122.53 L386.40,123.55 L386.90,125.56 L387.40,127.97 L387.90,130.76 L388.40,134.45 L388.90,138.40 L389.40,142.34 L389.90,146.50 L390.40,150.37 L390.90,153.49 L391.40,156.33 L391.90,159.81 L392.40,163.90 L392.90,167.91 L393.40,172.06 L393.90,175.55 L394.40,177.72 L394.90,179.42 L395.40,180.63 L395.90,181.43 L396.40,181.95 L396.90,182.00 L397.40,182.00 L397.90,182.00 L398.40,182.00 L398.90,182.00 L399.40,182.00 L399.90,182.00 L400.40,182.00 L400.90,182.00 L401.40,182.00 L401.90,182.00 L402.40,182.00 L402.90,182.00 L403.40,182.00 L403.90,182.00 L404.40,182.00 L404.90,182.00 L405.40,182.00 L405.90,182.00 L406.40,182.00 L406.90,182.00 L407.40,182.00 L407.90,182.00 L408.40,182.00 L408.90,182.00 L409.40,182.00 L409.90,182.00 L410.40,182.00 L410.90,182.00 L411.40,182.00 L411.90,182.00 L412.40,182.00 L412.90,182.00 L413.40,182.00 L413.90,182.00 L414.40,182.00 L414.90,182.00 L415.40,182.00 L415.90,182.00 L416.40,182.00 L416.90,182.00 L417.40,182.00 L417.90,182.00 L418.40,182.00 L418.90,182.00 L419.40,182.00 L419.90,182.00 L420.40,182.00 L420.90,182.00 L421.40,182.00 L421.90,182.00 L422.40,182.00 L422.90,182.00 L423.40,182.00 L423.90,182.00 L424.40,182.00 L424.90,182.00 L425.40,182.00 L425.90,182.00 L426.40,182.00 L426.90,182.00 L427.40,182.00 L427.90,182.00 L428.40,182.00 L428.90,182.00 L429.40,182.00 L429.90,182.00 L430.40,182.00 L430.90,182.00 L431.40,182.00 L431.90,182.00 L432.40,182.00 L432.90,182.00 L433.40,182.00 L433.90,182.00 L434.40,182.00 L434.90,182.00 L435.40,182.00 L435.90,182.00 L436.40,182.00 L436.90,182.00 L437.40,182.00 L437.90,182.00 L437.90,182.00 Z" fill="#cbcbcb"/>
<rect x="374" y="118.5" width="65.00" height="63.50" fill="none" stroke="#000" stroke-width="1.7"/>
<line x1="372.10" y1="182.00" x2="374" y2="182.00" stroke="#000" stroke-width="1.2"/>
<line x1="372.10" y1="170.00" x2="374" y2="170.00" stroke="#000" stroke-width="1.2"/>
<line x1="372.10" y1="158.00" x2="374" y2="158.00" stroke="#000" stroke-width="1.2"/>
<line x1="372.10" y1="146.00" x2="374" y2="146.00" stroke="#000" stroke-width="1.2"/>
<line x1="372.10" y1="134.00" x2="374" y2="134.00" stroke="#000" stroke-width="1.2"/>
<line x1="372.10" y1="122.00" x2="374" y2="122.00" stroke="#000" stroke-width="1.2"/>
<path d="M374.9,181.7 L375.4,181.7 L375.9,181.7 L376.4,181.7 L376.9,181.7 L377.4,181.7 L377.9,181.7 L378.4,181.7 L378.9,181.7 L379.4,181.7 L379.9,181.7 L380.4,181.7 L380.9,181.7 L381.4,181.7 L381.9,181.7 L382.4,181.7 L382.9,181.7 L383.4,181.7 L383.9,181.7 L384.4,181.7 L384.9,181.7 L385.4,181.7 L385.9,181.7 L386.4,181.7 L386.9,181.7 L387.4,181.7 L387.9,181.7 L388.4,181.7 L388.9,181.7 L389.4,181.7 L389.9,181.7 L390.4,181.7 L390.9,181.7 L391.4,181.7 L391.9,181.7 L392.4,181.7 L392.9,181.7 L393.4,181.7 L393.9,181.7 L394.4,181.7 L394.9,181.7 L395.4,181.7 L395.9,181.7 L396.4,181.7 L396.9,181.7 L397.4,181.6 L397.9,181.5 L398.4,181.3 L398.9,181.1 L399.4,180.8 L399.9,180.4 L400.4,180.0 L400.9,179.4 L401.4,178.7 L401.9,177.7 L402.4,176.6 L402.9,175.2 L403.4,173.6 L403.9,171.6 L404.4,169.2 L404.9,166.5 L405.4,163.3 L405.9,159.7 L406.4,155.7 L406.9,151.3 L407.4,146.5 L407.9,141.5 L408.4,136.4 L408.9,131.5 L409.4,127.0 L409.9,123.6 L410.4,123.2 L410.9,127.1 L411.4,132.4 L411.9,138.2 L412.4,144.1 L412.9,149.7 L413.4,155.0 L413.9,159.7 L414.4,163.8 L414.9,167.4 L415.4,170.4 L415.9,172.9 L416.4,174.9 L416.9,176.6 L417.4,177.9 L417.9,178.9 L418.4,179.7 L418.9,180.3 L419.4,180.7 L419.9,181.1 L420.4,181.3 L420.9,181.5 L421.4,181.7 L421.9,181.7 L422.4,181.7 L422.9,181.7 L423.4,181.7 L423.9,181.7 L424.4,181.7 L424.9,181.7 L425.4,181.7 L425.9,181.7 L426.4,181.7 L426.9,181.7 L427.4,181.7 L427.9,181.7 L428.4,181.7 L428.9,181.7 L429.4,181.7 L429.9,181.7 L430.4,181.7 L430.9,181.7 L431.4,181.7 L431.9,181.7 L432.4,181.7 L432.9,181.7 L433.4,181.7 L433.9,181.7 L434.4,181.7 L434.9,181.7 L435.4,181.7 L435.9,181.7 L436.4,181.7 L436.9,181.7 L437.4,181.7 L437.9,181.7" fill="none" stroke="#e22f27" stroke-width="1.9" stroke-linejoin="round"/>
<path d="M374.9,181.7 L375.4,181.7 L375.9,181.7 L376.4,181.7 L376.9,181.7 L377.4,181.7 L377.9,181.7 L378.4,181.7 L378.9,181.7 L379.4,181.7 L379.9,181.7 L380.4,181.7 L380.9,181.7 L381.4,181.7 L381.9,181.7 L382.4,181.7 L382.9,181.7 L383.4,181.7 L383.9,181.7 L384.4,181.7 L384.9,181.7 L385.4,181.7 L385.9,181.7 L386.4,181.7 L386.9,181.7 L387.4,181.7 L387.9,181.7 L388.4,181.7 L388.9,181.7 L389.4,181.7 L389.9,181.7 L390.4,181.7 L390.9,181.7 L391.4,181.7 L391.9,181.7 L392.4,181.7 L392.9,181.7 L393.4,181.7 L393.9,181.7 L394.4,181.7 L394.9,181.7 L395.4,181.7 L395.9,181.7 L396.4,181.7 L396.9,181.7 L397.4,181.7 L397.9,181.6 L398.4,181.4 L398.9,181.2 L399.4,180.9 L399.9,180.6 L400.4,180.2 L400.9,179.6 L401.4,178.9 L401.9,178.0 L402.4,177.0 L402.9,175.6 L403.4,174.0 L403.9,172.1 L404.4,169.8 L404.9,167.1 L405.4,163.9 L405.9,160.3 L406.4,156.3 L406.9,151.8 L407.4,147.0 L407.9,141.9 L408.4,136.7 L408.9,131.7 L409.4,127.1 L409.9,123.6 L410.4,123.3 L410.9,127.3 L411.4,132.7 L411.9,138.6 L412.4,144.6 L412.9,150.4 L413.4,155.7 L413.9,160.4 L414.4,164.5 L414.9,168.1 L415.4,171.0 L415.9,173.4 L416.4,175.4 L416.9,177.0 L417.4,178.2 L417.9,179.2 L418.4,179.9 L418.9,180.5 L419.4,180.9 L419.9,181.2 L420.4,181.4 L420.9,181.6 L421.4,181.7 L421.9,181.7 L422.4,181.7 L422.9,181.7 L423.4,181.7 L423.9,181.7 L424.4,181.7 L424.9,181.7 L425.4,181.7 L425.9,181.7 L426.4,181.7 L426.9,181.7 L427.4,181.7 L427.9,181.7 L428.4,181.7 L428.9,181.7 L429.4,181.7 L429.9,181.7 L430.4,181.7 L430.9,181.7 L431.4,181.7 L431.9,181.7 L432.4,181.7 L432.9,181.7 L433.4,181.7 L433.9,181.7 L434.4,181.7 L434.9,181.7 L435.4,181.7 L435.9,181.7 L436.4,181.7 L436.9,181.7 L437.4,181.7 L437.9,181.7" fill="none" stroke="#3c3f94" stroke-width="1.7" stroke-linejoin="round"/>
<path d="M451.40,182.00 L451.40,175.18 L451.90,174.11 L452.40,172.77 L452.90,171.25 L453.40,168.65 L453.90,165.06 L454.40,161.21 L454.90,157.84 L455.40,155.12 L455.90,152.62 L456.40,150.22 L456.90,147.78 L457.40,145.17 L457.90,142.23 L458.40,138.93 L458.90,135.50 L459.40,132.16 L459.90,128.98 L460.40,125.35 L460.90,122.79 L461.40,122.84 L461.90,124.61 L462.40,127.31 L462.90,130.29 L463.40,133.95 L463.90,138.55 L464.40,143.18 L464.90,147.36 L465.40,151.45 L465.90,155.47 L466.40,159.44 L466.90,163.49 L467.40,167.43 L467.90,170.96 L468.40,174.04 L468.90,176.79 L469.40,178.75 L469.90,180.27 L470.40,181.37 L470.90,181.82 L471.40,181.99 L471.90,182.00 L472.40,182.00 L472.90,182.00 L473.40,182.00 L473.90,182.00 L474.40,182.00 L474.90,182.00 L475.40,182.00 L475.90,182.00 L476.40,182.00 L476.90,182.00 L477.40,182.00 L477.90,182.00 L478.40,182.00 L478.90,182.00 L479.40,182.00 L479.90,182.00 L480.40,182.00 L480.90,182.00 L481.40,182.00 L481.90,182.00 L482.40,182.00 L482.90,182.00 L483.40,182.00 L483.90,182.00 L484.40,182.00 L484.90,182.00 L485.40,182.00 L485.90,182.00 L486.40,182.00 L486.90,182.00 L487.40,182.00 L487.90,182.00 L488.40,182.00 L488.90,182.00 L489.40,182.00 L489.90,182.00 L490.40,182.00 L490.90,182.00 L491.40,182.00 L491.90,182.00 L492.40,182.00 L492.90,182.00 L493.40,182.00 L493.90,182.00 L494.40,182.00 L494.90,182.00 L495.40,182.00 L495.90,182.00 L496.40,182.00 L496.90,182.00 L497.40,182.00 L497.90,182.00 L498.40,182.00 L498.90,182.00 L499.40,182.00 L499.90,182.00 L500.40,182.00 L500.90,182.00 L501.40,182.00 L501.90,182.00 L502.40,182.00 L502.90,182.00 L503.40,182.00 L503.90,182.00 L504.40,182.00 L504.90,182.00 L505.40,182.00 L505.90,182.00 L506.40,182.00 L506.90,182.00 L507.40,182.00 L507.90,182.00 L508.40,182.00 L508.90,182.00 L509.40,182.00 L509.90,182.00 L510.40,182.00 L510.90,182.00 L511.40,182.00 L511.90,182.00 L512.40,182.00 L512.90,182.00 L513.40,182.00 L513.40,182.00 Z" fill="#cbcbcb"/>
<rect x="450.5" y="118.5" width="64.00" height="63.50" fill="none" stroke="#000" stroke-width="1.7"/>
<line x1="448.60" y1="182.00" x2="450.5" y2="182.00" stroke="#000" stroke-width="1.2"/>
<line x1="448.60" y1="170.00" x2="450.5" y2="170.00" stroke="#000" stroke-width="1.2"/>
<line x1="448.60" y1="158.00" x2="450.5" y2="158.00" stroke="#000" stroke-width="1.2"/>
<line x1="448.60" y1="146.00" x2="450.5" y2="146.00" stroke="#000" stroke-width="1.2"/>
<line x1="448.60" y1="134.00" x2="450.5" y2="134.00" stroke="#000" stroke-width="1.2"/>
<line x1="448.60" y1="122.00" x2="450.5" y2="122.00" stroke="#000" stroke-width="1.2"/>
<path d="M451.4,181.7 L451.9,181.7 L452.4,181.7 L452.9,181.7 L453.4,181.7 L453.9,181.7 L454.4,181.7 L454.9,181.7 L455.4,181.7 L455.9,181.7 L456.4,181.7 L456.9,181.7 L457.4,181.7 L457.9,181.7 L458.4,181.7 L458.9,181.7 L459.4,181.7 L459.9,181.7 L460.4,181.7 L460.9,181.7 L461.4,181.7 L461.9,181.7 L462.4,181.7 L462.9,181.7 L463.4,181.7 L463.9,181.7 L464.4,181.7 L464.9,181.7 L465.4,181.7 L465.9,181.7 L466.4,181.7 L466.9,181.7 L467.4,181.7 L467.9,181.7 L468.4,181.7 L468.9,181.7 L469.4,181.7 L469.9,181.7 L470.4,181.7 L470.9,181.7 L471.4,181.7 L471.9,181.7 L472.4,181.7 L472.9,181.7 L473.4,181.7 L473.9,181.6 L474.4,181.3 L474.9,180.9 L475.4,180.5 L475.9,179.9 L476.4,179.3 L476.9,178.6 L477.4,177.7 L477.9,176.7 L478.4,175.4 L478.9,174.0 L479.4,172.2 L479.9,169.9 L480.4,167.4 L480.9,164.7 L481.4,161.9 L481.9,158.8 L482.4,155.8 L482.9,153.1 L483.4,150.5 L483.9,147.3 L484.4,143.1 L484.9,137.9 L485.4,129.2 L485.9,122.7 L486.4,123.5 L486.9,126.6 L487.4,130.4 L487.9,135.5 L488.4,141.5 L488.9,147.5 L489.4,153.9 L489.9,160.0 L490.4,165.9 L490.9,171.5 L491.4,175.5 L491.9,178.2 L492.4,180.0 L492.9,180.9 L493.4,181.6 L493.9,181.7 L494.4,181.7 L494.9,181.7 L495.4,181.7 L495.9,181.7 L496.4,181.7 L496.9,181.7 L497.4,181.7 L497.9,181.7 L498.4,181.7 L498.9,181.7 L499.4,181.7 L499.9,181.7 L500.4,181.7 L500.9,181.7 L501.4,181.7 L501.9,181.7 L502.4,181.7 L502.9,181.7 L503.4,181.7 L503.9,181.7 L504.4,181.7 L504.9,181.7 L505.4,181.7 L505.9,181.7 L506.4,181.7 L506.9,181.7 L507.4,181.7 L507.9,181.7 L508.4,181.7 L508.9,181.7 L509.4,181.7 L509.9,181.7 L510.4,181.7 L510.9,181.7 L511.4,181.7 L511.9,181.7 L512.4,181.7 L512.9,181.7 L513.4,181.7" fill="none" stroke="#3c3f94" stroke-width="1.7" stroke-linejoin="round"/>
<path d="M451.4,181.7 L451.9,181.7 L452.4,181.7 L452.9,181.7 L453.4,181.7 L453.9,181.7 L454.4,181.7 L454.9,181.6 L455.4,181.6 L455.9,181.5 L456.4,181.4 L456.9,181.3 L457.4,181.0 L457.9,180.4 L458.4,179.1 L458.9,177.6 L459.4,175.9 L459.9,174.1 L460.4,171.6 L460.9,167.5 L461.4,162.1 L461.9,156.9 L462.4,151.8 L462.9,146.9 L463.4,142.2 L463.9,137.5 L464.4,133.2 L464.9,129.6 L465.4,126.2 L465.9,123.4 L466.4,122.6 L466.9,125.6 L467.4,130.7 L467.9,135.1 L468.4,138.8 L468.9,142.3 L469.4,145.6 L469.9,148.7 L470.4,151.6 L470.9,154.1 L471.4,155.8 L471.9,157.0 L472.4,158.0 L472.9,158.9 L473.4,159.6 L473.9,160.4 L474.4,161.3 L474.9,162.2 L475.4,163.2 L475.9,164.3 L476.4,165.6 L476.9,167.3 L477.4,169.1 L477.9,170.9 L478.4,172.5 L478.9,174.0 L479.4,175.4 L479.9,176.6 L480.4,177.6 L480.9,178.6 L481.4,179.5 L481.9,180.0 L482.4,180.2 L482.9,180.0 L483.4,179.7 L483.9,178.9 L484.4,177.4 L484.9,175.7 L485.4,174.0 L485.9,172.2 L486.4,170.7 L486.9,169.3 L487.4,168.4 L487.9,168.5 L488.4,169.6 L488.9,171.0 L489.4,172.7 L489.9,175.0 L490.4,177.0 L490.9,178.2 L491.4,179.3 L491.9,180.1 L492.4,180.7 L492.9,181.1 L493.4,181.4 L493.9,181.7 L494.4,181.7 L494.9,181.7 L495.4,181.7 L495.9,181.7 L496.4,181.7 L496.9,181.7 L497.4,181.7 L497.9,181.7 L498.4,181.7 L498.9,181.7 L499.4,181.7 L499.9,181.7 L500.4,181.7 L500.9,181.7 L501.4,181.7 L501.9,181.7 L502.4,181.7 L502.9,181.7 L503.4,181.7 L503.9,181.7 L504.4,181.7 L504.9,181.7 L505.4,181.7 L505.9,181.7 L506.4,181.7 L506.9,181.7 L507.4,181.7 L507.9,181.7 L508.4,181.7 L508.9,181.7 L509.4,181.7 L509.9,181.7 L510.4,181.7 L510.9,181.7 L511.4,181.7 L511.9,181.7 L512.4,181.7 L512.9,181.7 L513.4,181.7" fill="none" stroke="#e22f27" stroke-width="1.9" stroke-linejoin="round"/>
<path d="M44.20,255.00 L44.20,245.20 L44.70,244.74 L45.20,244.17 L45.70,243.52 L46.20,242.81 L46.70,242.03 L47.20,241.13 L47.70,240.04 L48.20,238.69 L48.70,236.92 L49.20,233.76 L49.70,229.50 L50.20,224.76 L50.70,220.13 L51.20,216.21 L51.70,212.76 L52.20,209.48 L52.70,206.30 L53.20,203.05 L53.70,199.17 L54.20,196.13 L54.70,195.77 L55.20,198.41 L55.70,202.74 L56.20,207.40 L56.70,211.17 L57.20,214.59 L57.70,217.98 L58.20,221.39 L58.70,224.89 L59.20,228.59 L59.70,232.31 L60.20,235.83 L60.70,238.94 L61.20,241.75 L61.70,244.33 L62.20,246.72 L62.70,249.05 L63.20,251.08 L63.70,252.55 L64.20,253.74 L64.70,254.65 L65.20,255.00 L65.70,255.00 L66.20,255.00 L66.70,255.00 L67.20,255.00 L67.70,255.00 L68.20,255.00 L68.70,255.00 L69.20,255.00 L69.70,255.00 L70.20,255.00 L70.70,255.00 L71.20,255.00 L71.70,255.00 L72.20,255.00 L72.70,255.00 L73.20,255.00 L73.70,255.00 L74.20,255.00 L74.70,255.00 L75.20,255.00 L75.70,255.00 L76.20,255.00 L76.70,255.00 L77.20,255.00 L77.70,255.00 L78.20,255.00 L78.70,255.00 L79.20,255.00 L79.70,255.00 L80.20,255.00 L80.70,255.00 L81.20,255.00 L81.70,255.00 L82.20,255.00 L82.70,255.00 L83.20,255.00 L83.70,255.00 L84.20,255.00 L84.70,255.00 L85.20,255.00 L85.70,255.00 L86.20,255.00 L86.70,255.00 L87.20,255.00 L87.70,255.00 L88.20,255.00 L88.70,255.00 L89.20,255.00 L89.70,255.00 L90.20,255.00 L90.70,255.00 L91.20,255.00 L91.70,255.00 L92.20,255.00 L92.70,255.00 L93.20,255.00 L93.70,255.00 L94.20,255.00 L94.70,255.00 L95.20,255.00 L95.70,255.00 L96.20,255.00 L96.70,255.00 L97.20,255.00 L97.70,255.00 L98.20,255.00 L98.70,255.00 L99.20,255.00 L99.70,255.00 L100.20,255.00 L100.70,255.00 L101.20,255.00 L101.70,255.00 L102.20,255.00 L102.70,255.00 L103.20,255.00 L103.70,255.00 L104.20,255.00 L104.70,255.00 L105.20,255.00 L105.70,255.00 L106.20,255.00 L106.70,255.00 L107.20,255.00 L107.70,255.00 L107.70,255.00 Z" fill="#cbcbcb"/>
<rect x="43.3" y="191.5" width="65.70" height="63.50" fill="none" stroke="#000" stroke-width="1.7"/>
<line x1="41.40" y1="255.00" x2="43.3" y2="255.00" stroke="#000" stroke-width="1.2"/>
<line x1="41.40" y1="243.00" x2="43.3" y2="243.00" stroke="#000" stroke-width="1.2"/>
<line x1="41.40" y1="231.00" x2="43.3" y2="231.00" stroke="#000" stroke-width="1.2"/>
<line x1="41.40" y1="219.00" x2="43.3" y2="219.00" stroke="#000" stroke-width="1.2"/>
<line x1="41.40" y1="207.00" x2="43.3" y2="207.00" stroke="#000" stroke-width="1.2"/>
<line x1="41.40" y1="195.00" x2="43.3" y2="195.00" stroke="#000" stroke-width="1.2"/>
<path d="M44.2,254.7 L44.7,254.7 L45.2,254.7 L45.7,254.7 L46.2,254.7 L46.7,254.7 L47.2,254.7 L47.7,254.7 L48.2,254.7 L48.7,254.7 L49.2,254.7 L49.7,254.7 L50.2,254.7 L50.7,254.7 L51.2,254.7 L51.7,254.7 L52.2,254.7 L52.7,254.7 L53.2,254.7 L53.7,254.7 L54.2,254.7 L54.7,254.7 L55.2,254.7 L55.7,254.7 L56.2,254.7 L56.7,254.7 L57.2,254.7 L57.7,254.7 L58.2,254.7 L58.7,254.7 L59.2,254.7 L59.7,254.7 L60.2,254.7 L60.7,254.7 L61.2,254.7 L61.7,254.7 L62.2,254.7 L62.7,254.7 L63.2,254.7 L63.7,254.7 L64.2,254.7 L64.7,254.7 L65.2,254.7 L65.7,254.7 L66.2,254.7 L66.7,254.7 L67.2,254.7 L67.7,254.7 L68.2,254.7 L68.7,254.7 L69.2,254.7 L69.7,254.7 L70.2,254.7 L70.7,254.7 L71.2,254.7 L71.7,254.7 L72.2,254.7 L72.7,254.7 L73.2,254.7 L73.7,254.7 L74.2,253.3 L74.7,250.9 L75.2,246.7 L75.7,242.1 L76.2,237.1 L76.7,231.7 L77.2,226.2 L77.7,220.0 L78.2,210.1 L78.7,201.4 L79.2,196.5 L79.7,196.4 L80.2,203.4 L80.7,208.5 L81.2,210.3 L81.7,211.6 L82.2,213.3 L82.7,216.5 L83.2,220.6 L83.7,225.0 L84.2,230.5 L84.7,234.8 L85.2,236.4 L85.7,237.5 L86.2,239.7 L86.7,244.0 L87.2,247.0 L87.7,249.0 L88.2,250.7 L88.7,252.0 L89.2,253.0 L89.7,253.7 L90.2,254.2 L90.7,254.6 L91.2,254.7 L91.7,254.7 L92.2,254.7 L92.7,254.7 L93.2,254.7 L93.7,254.7 L94.2,254.7 L94.7,254.7 L95.2,254.7 L95.7,254.7 L96.2,254.7 L96.7,254.7 L97.2,254.7 L97.7,254.7 L98.2,254.7 L98.7,254.7 L99.2,254.7 L99.7,254.7 L100.2,254.7 L100.7,254.7 L101.2,254.7 L101.7,254.7 L102.2,254.7 L102.7,254.7 L103.2,254.7 L103.7,254.7 L104.2,254.7 L104.7,254.7 L105.2,254.7 L105.7,254.7 L106.2,254.7 L106.7,254.7 L107.2,254.7 L107.7,254.7" fill="none" stroke="#3c3f94" stroke-width="1.7" stroke-linejoin="round"/>
<path d="M44.2,254.7 L44.7,254.7 L45.2,254.7 L45.7,254.7 L46.2,254.7 L46.7,254.7 L47.2,254.7 L47.7,254.7 L48.2,254.7 L48.7,254.7 L49.2,254.7 L49.7,254.7 L50.2,254.7 L50.7,254.7 L51.2,254.7 L51.7,254.7 L52.2,254.7 L52.7,254.7 L53.2,254.7 L53.7,254.7 L54.2,254.7 L54.7,254.7 L55.2,254.7 L55.7,254.7 L56.2,254.7 L56.7,254.7 L57.2,254.7 L57.7,254.7 L58.2,254.7 L58.7,254.7 L59.2,254.7 L59.7,254.7 L60.2,254.7 L60.7,254.7 L61.2,254.7 L61.7,254.7 L62.2,254.7 L62.7,254.7 L63.2,254.7 L63.7,254.7 L64.2,254.7 L64.7,254.7 L65.2,254.7 L65.7,254.7 L66.2,254.7 L66.7,254.7 L67.2,254.7 L67.7,254.7 L68.2,254.7 L68.7,254.7 L69.2,254.7 L69.7,254.7 L70.2,254.7 L70.7,254.4 L71.2,253.2 L71.7,250.9 L72.2,247.9 L72.7,244.9 L73.2,241.7 L73.7,238.2 L74.2,234.4 L74.7,230.6 L75.2,226.9 L75.7,223.3 L76.2,219.4 L76.7,215.1 L77.2,210.2 L77.7,205.4 L78.2,201.5 L78.7,197.8 L79.2,196.1 L79.7,197.5 L80.2,200.2 L80.7,202.0 L81.2,201.7 L81.7,200.8 L82.2,199.7 L82.7,198.2 L83.2,196.6 L83.7,196.1 L84.2,196.6 L84.7,197.5 L85.2,198.5 L85.7,199.6 L86.2,201.0 L86.7,202.7 L87.2,204.7 L87.7,207.7 L88.2,211.2 L88.7,214.8 L89.2,218.3 L89.7,221.7 L90.2,225.2 L90.7,228.6 L91.2,231.9 L91.7,235.2 L92.2,238.5 L92.7,241.6 L93.2,244.4 L93.7,246.9 L94.2,249.2 L94.7,251.1 L95.2,252.5 L95.7,253.6 L96.2,254.4 L96.7,254.7 L97.2,254.7 L97.7,254.7 L98.2,254.7 L98.7,254.7 L99.2,254.7 L99.7,254.7 L100.2,254.7 L100.7,254.7 L101.2,254.7 L101.7,254.7 L102.2,254.7 L102.7,254.7 L103.2,254.7 L103.7,254.7 L104.2,254.7 L104.7,254.7 L105.2,254.7 L105.7,254.7 L106.2,254.7 L106.7,254.7 L107.2,254.7 L107.7,254.7" fill="none" stroke="#e22f27" stroke-width="1.9" stroke-linejoin="round"/>
<path d="M118.40,255.00 L118.40,255.00 L118.90,249.99 L119.40,249.45 L119.90,248.72 L120.40,247.84 L120.90,246.87 L121.40,245.74 L121.90,244.28 L122.40,242.53 L122.90,240.54 L123.40,238.23 L123.90,235.39 L124.40,232.21 L124.90,228.89 L125.40,225.43 L125.90,221.66 L126.40,217.79 L126.90,214.06 L127.40,210.25 L127.90,205.91 L128.40,201.65 L128.90,198.10 L129.40,195.90 L129.90,195.88 L130.40,199.24 L130.90,203.67 L131.40,207.35 L131.90,211.14 L132.40,214.94 L132.90,218.60 L133.40,222.04 L133.90,225.37 L134.40,228.61 L134.90,231.77 L135.40,234.91 L135.90,238.07 L136.40,241.09 L136.90,243.80 L137.40,246.21 L137.90,248.49 L138.40,250.48 L138.90,252.03 L139.40,253.22 L139.90,254.22 L140.40,254.91 L140.90,255.00 L141.40,255.00 L141.90,255.00 L142.40,255.00 L142.90,255.00 L143.40,255.00 L143.90,255.00 L144.40,255.00 L144.90,255.00 L145.40,255.00 L145.90,255.00 L146.40,255.00 L146.90,255.00 L147.40,255.00 L147.90,255.00 L148.40,255.00 L148.90,255.00 L149.40,255.00 L149.90,255.00 L150.40,255.00 L150.90,255.00 L151.40,255.00 L151.90,255.00 L152.40,255.00 L152.90,255.00 L153.40,255.00 L153.90,255.00 L154.40,255.00 L154.90,255.00 L155.40,255.00 L155.90,255.00 L156.40,255.00 L156.90,255.00 L157.40,255.00 L157.90,255.00 L158.40,255.00 L158.90,255.00 L159.40,255.00 L159.90,255.00 L160.40,255.00 L160.90,255.00 L161.40,255.00 L161.90,255.00 L162.40,255.00 L162.90,255.00 L163.40,255.00 L163.90,255.00 L164.40,255.00 L164.90,255.00 L165.40,255.00 L165.90,255.00 L166.40,255.00 L166.90,255.00 L167.40,255.00 L167.90,255.00 L168.40,255.00 L168.90,255.00 L169.40,255.00 L169.90,255.00 L170.40,255.00 L170.90,255.00 L171.40,255.00 L171.90,255.00 L172.40,255.00 L172.90,255.00 L173.40,255.00 L173.90,255.00 L174.40,255.00 L174.90,255.00 L175.40,255.00 L175.90,255.00 L176.40,255.00 L176.90,255.00 L177.40,255.00 L177.90,255.00 L178.40,255.00 L178.90,255.00 L179.40,255.00 L179.90,255.00 L180.40,255.00 L180.90,255.00 L181.40,255.00 L181.90,255.00 L182.40,255.00 L182.90,255.00 L182.90,255.00 Z" fill="#cbcbcb"/>
<rect x="117.5" y="191.5" width="66.50" height="63.50" fill="none" stroke="#000" stroke-width="1.7"/>
<line x1="115.60" y1="255.00" x2="117.5" y2="255.00" stroke="#000" stroke-width="1.2"/>
<line x1="115.60" y1="243.00" x2="117.5" y2="243.00" stroke="#000" stroke-width="1.2"/>
<line x1="115.60" y1="231.00" x2="117.5" y2="231.00" stroke="#000" stroke-width="1.2"/>
<line x1="115.60" y1="219.00" x2="117.5" y2="219.00" stroke="#000" stroke-width="1.2"/>
<line x1="115.60" y1="207.00" x2="117.5" y2="207.00" stroke="#000" stroke-width="1.2"/>
<line x1="115.60" y1="195.00" x2="117.5" y2="195.00" stroke="#000" stroke-width="1.2"/>
<path d="M118.4,254.7 L118.9,254.7 L119.4,254.7 L119.9,254.7 L120.4,254.7 L120.9,254.7 L121.4,254.7 L121.9,254.7 L122.4,254.7 L122.9,254.7 L123.4,254.7 L123.9,254.7 L124.4,254.7 L124.9,254.7 L125.4,254.7 L125.9,254.7 L126.4,254.7 L126.9,254.7 L127.4,254.7 L127.9,254.7 L128.4,254.7 L128.9,254.7 L129.4,254.7 L129.9,254.7 L130.4,254.7 L130.9,254.7 L131.4,254.7 L131.9,254.7 L132.4,254.7 L132.9,254.7 L133.4,254.7 L133.9,254.7 L134.4,254.7 L134.9,254.7 L135.4,254.7 L135.9,254.7 L136.4,254.7 L136.9,254.7 L137.4,254.7 L137.9,254.7 L138.4,254.7 L138.9,254.7 L139.4,254.7 L139.9,254.7 L140.4,254.7 L140.9,254.7 L141.4,254.7 L141.9,254.7 L142.4,254.7 L142.9,254.7 L143.4,254.7 L143.9,254.7 L144.4,254.7 L144.9,254.7 L145.4,254.3 L145.9,253.2 L146.4,251.7 L146.9,250.1 L147.4,248.2 L147.9,246.0 L148.4,243.0 L148.9,239.6 L149.4,236.1 L149.9,232.8 L150.4,229.2 L150.9,225.5 L151.4,221.9 L151.9,218.6 L152.4,215.7 L152.9,213.3 L153.4,211.1 L153.9,209.0 L154.4,207.1 L154.9,205.4 L155.4,203.8 L155.9,202.0 L156.4,200.3 L156.9,198.6 L157.4,197.2 L157.9,196.1 L158.4,195.6 L158.9,195.6 L159.4,196.4 L159.9,197.6 L160.4,199.3 L160.9,201.1 L161.4,203.0 L161.9,204.9 L162.4,206.7 L162.9,208.5 L163.4,210.4 L163.9,212.5 L164.4,214.7 L164.9,216.9 L165.4,219.3 L165.9,222.0 L166.4,224.7 L166.9,227.6 L167.4,230.8 L167.9,234.4 L168.4,237.8 L168.9,240.8 L169.4,243.2 L169.9,245.2 L170.4,247.1 L170.9,248.9 L171.4,250.8 L171.9,252.9 L172.4,254.3 L172.9,254.7 L173.4,254.7 L173.9,254.7 L174.4,254.7 L174.9,254.7 L175.4,254.7 L175.9,254.7 L176.4,254.7 L176.9,254.7 L177.4,254.7 L177.9,254.7 L178.4,254.7 L178.9,254.7 L179.4,254.7 L179.9,254.7 L180.4,254.7 L180.9,254.7 L181.4,254.7 L181.9,254.7 L182.4,254.7 L182.9,254.7" fill="none" stroke="#3c3f94" stroke-width="1.7" stroke-linejoin="round"/>
<path d="M117.8,254.7 L117.8,212.2 L118.4,254.7 L118.9,251.2 L119.4,252.1 L119.9,252.6 L120.4,252.6 L120.9,252.5 L121.4,252.3 L121.9,252.1 L122.4,251.9 L122.9,251.6 L123.4,251.3 L123.9,251.0 L124.4,250.7 L124.9,250.3 L125.4,249.9 L125.9,249.4 L126.4,248.8 L126.9,248.2 L127.4,247.5 L127.9,246.8 L128.4,246.0 L128.9,245.2 L129.4,244.3 L129.9,243.3 L130.4,242.2 L130.9,241.0 L131.4,239.6 L131.9,238.1 L132.4,236.5 L132.9,234.7 L133.4,232.8 L133.9,230.4 L134.4,227.5 L134.9,225.5 L135.4,225.6 L135.9,227.4 L136.4,229.6 L136.9,231.8 L137.4,234.3 L137.9,236.7 L138.4,238.9 L138.9,241.0 L139.4,243.0 L139.9,244.6 L140.4,245.8 L140.9,246.9 L141.4,247.8 L141.9,248.6 L142.4,249.5 L142.9,250.4 L143.4,251.4 L143.9,252.4 L144.4,253.0 L144.9,253.2 L145.4,253.0 L145.9,252.6 L146.4,252.0 L146.9,251.3 L147.4,250.1 L147.9,248.4 L148.4,246.2 L148.9,242.9 L149.4,238.7 L149.9,234.4 L150.4,230.2 L150.9,225.8 L151.4,221.5 L151.9,217.6 L152.4,214.6 L152.9,212.3 L153.4,210.2 L153.9,208.3 L154.4,206.4 L154.9,204.3 L155.4,201.5 L155.9,198.1 L156.4,195.8 L156.9,195.6 L157.4,196.1 L157.9,196.9 L158.4,197.7 L158.9,198.6 L159.4,199.8 L159.9,201.1 L160.4,202.4 L160.9,203.6 L161.4,205.0 L161.9,206.2 L162.4,207.2 L162.9,208.0 L163.4,208.5 L163.9,209.0 L164.4,209.6 L164.9,210.4 L165.4,211.3 L165.9,212.5 L166.4,214.2 L166.9,217.6 L167.4,221.6 L167.9,225.0 L168.4,228.4 L168.9,231.7 L169.4,235.1 L169.9,238.4 L170.4,241.4 L170.9,243.9 L171.4,246.2 L171.9,248.3 L172.4,250.0 L172.9,251.3 L173.4,252.6 L173.9,253.6 L174.4,254.3 L174.9,254.6 L175.4,254.7 L175.9,254.7 L176.4,254.7 L176.9,254.7 L177.4,254.7 L177.9,254.7 L178.4,254.7 L178.9,254.7 L179.4,254.7 L179.9,254.7 L180.4,254.7 L180.9,254.7 L181.4,254.7 L181.9,254.7 L182.4,254.7 L182.9,254.7" fill="none" stroke="#e22f27" stroke-width="1.9" stroke-linejoin="round"/>
<path d="M212.90,255.00 L212.90,255.00 L213.40,249.75 L213.90,247.83 L214.40,246.18 L214.90,244.87 L215.40,243.99 L215.90,243.44 L216.40,243.03 L216.90,242.52 L217.40,241.69 L217.90,239.82 L218.40,237.00 L218.90,233.76 L219.40,230.60 L219.90,227.59 L220.40,224.45 L220.90,221.13 L221.40,217.64 L221.90,213.84 L222.40,209.71 L222.90,205.62 L223.40,200.78 L223.90,196.45 L224.40,195.87 L224.90,199.22 L225.40,203.93 L225.90,208.05 L226.40,212.36 L226.90,216.27 L227.40,219.24 L227.90,221.74 L228.40,223.99 L228.90,226.17 L229.40,228.50 L229.90,231.18 L230.40,234.28 L230.90,237.64 L231.40,241.04 L231.90,244.29 L232.40,247.64 L232.90,250.75 L233.40,252.65 L233.90,254.04 L234.40,254.89 L234.90,255.00 L235.40,255.00 L235.90,255.00 L236.40,255.00 L236.90,255.00 L237.40,255.00 L237.90,255.00 L238.40,255.00 L238.90,255.00 L239.40,255.00 L239.90,255.00 L240.40,255.00 L240.90,255.00 L241.40,255.00 L241.90,255.00 L242.40,255.00 L242.90,255.00 L243.40,255.00 L243.90,255.00 L244.40,255.00 L244.90,255.00 L245.40,255.00 L245.90,255.00 L246.40,255.00 L246.90,255.00 L247.40,255.00 L247.90,255.00 L248.40,255.00 L248.90,255.00 L249.40,255.00 L249.90,255.00 L250.40,255.00 L250.90,255.00 L251.40,255.00 L251.90,255.00 L252.40,255.00 L252.90,255.00 L253.40,255.00 L253.90,255.00 L254.40,255.00 L254.90,255.00 L255.40,255.00 L255.90,255.00 L256.40,255.00 L256.90,255.00 L257.40,255.00 L257.90,255.00 L258.40,255.00 L258.90,255.00 L259.40,255.00 L259.90,255.00 L260.40,255.00 L260.90,255.00 L261.40,255.00 L261.90,255.00 L262.40,255.00 L262.90,255.00 L263.40,255.00 L263.90,255.00 L264.40,255.00 L264.90,255.00 L265.40,255.00 L265.90,255.00 L266.40,255.00 L266.90,255.00 L267.40,255.00 L267.90,255.00 L268.40,255.00 L268.90,255.00 L269.40,255.00 L269.90,255.00 L270.40,255.00 L270.90,255.00 L271.40,255.00 L271.90,255.00 L272.40,255.00 L272.90,255.00 L273.40,255.00 L273.90,255.00 L274.40,255.00 L274.90,255.00 L275.40,255.00 L275.90,255.00 L276.40,255.00 L276.40,255.00 Z" fill="#cbcbcb"/>
<rect x="212" y="191.5" width="65.50" height="63.50" fill="none" stroke="#000" stroke-width="1.7"/>
<line x1="210.10" y1="255.00" x2="212" y2="255.00" stroke="#000" stroke-width="1.2"/>
<line x1="210.10" y1="243.00" x2="212" y2="243.00" stroke="#000" stroke-width="1.2"/>
<line x1="210.10" y1="231.00" x2="212" y2="231.00" stroke="#000" stroke-width="1.2"/>
<line x1="210.10" y1="219.00" x2="212" y2="219.00" stroke="#000" stroke-width="1.2"/>
<line x1="210.10" y1="207.00" x2="212" y2="207.00" stroke="#000" stroke-width="1.2"/>
<line x1="210.10" y1="195.00" x2="212" y2="195.00" stroke="#000" stroke-width="1.2"/>
<path d="M212.9,254.7 L213.4,254.7 L213.9,254.7 L214.4,254.7 L214.9,254.7 L215.4,254.7 L215.9,254.7 L216.4,254.7 L216.9,254.7 L217.4,254.7 L217.9,254.7 L218.4,254.7 L218.9,254.7 L219.4,254.7 L219.9,254.7 L220.4,254.7 L220.9,254.7 L221.4,254.7 L221.9,254.7 L222.4,254.7 L222.9,254.7 L223.4,254.7 L223.9,254.7 L224.4,254.7 L224.9,254.7 L225.4,254.7 L225.9,254.7 L226.4,254.7 L226.9,254.7 L227.4,254.7 L227.9,254.7 L228.4,254.7 L228.9,254.7 L229.4,254.7 L229.9,254.7 L230.4,254.7 L230.9,254.7 L231.4,254.7 L231.9,254.7 L232.4,254.7 L232.9,254.7 L233.4,254.7 L233.9,254.7 L234.4,254.7 L234.9,254.7 L235.4,254.7 L235.9,254.7 L236.4,254.7 L236.9,254.7 L237.4,254.7 L237.9,254.7 L238.4,254.7 L238.9,254.7 L239.4,254.4 L239.9,253.9 L240.4,253.2 L240.9,252.0 L241.4,250.4 L241.9,248.3 L242.4,245.2 L242.9,240.4 L243.4,235.2 L243.9,230.2 L244.4,224.9 L244.9,219.6 L245.4,214.8 L245.9,210.0 L246.4,205.5 L246.9,202.0 L247.4,199.5 L247.9,197.4 L248.4,195.9 L248.9,195.7 L249.4,199.8 L249.9,204.0 L250.4,207.3 L250.9,210.5 L251.4,213.7 L251.9,216.9 L252.4,220.3 L252.9,223.7 L253.4,227.1 L253.9,230.6 L254.4,234.1 L254.9,237.2 L255.4,240.1 L255.9,242.9 L256.4,245.4 L256.9,247.7 L257.4,249.9 L257.9,251.8 L258.4,253.1 L258.9,254.2 L259.4,254.7 L259.9,254.7 L260.4,254.7 L260.9,254.7 L261.4,254.7 L261.9,254.7 L262.4,254.7 L262.9,254.7 L263.4,254.7 L263.9,254.7 L264.4,254.7 L264.9,254.7 L265.4,254.7 L265.9,254.7 L266.4,254.7 L266.9,254.7 L267.4,254.7 L267.9,254.7 L268.4,254.7 L268.9,254.7 L269.4,254.7 L269.9,254.7 L270.4,254.7 L270.9,254.7 L271.4,254.7 L271.9,254.7 L272.4,254.7 L272.9,254.7 L273.4,254.7 L273.9,254.7 L274.4,254.7 L274.9,254.7 L275.4,254.7 L275.9,254.7 L276.4,254.7" fill="none" stroke="#3c3f94" stroke-width="1.7" stroke-linejoin="round"/>
<path d="M212.9,254.7 L213.4,254.7 L213.9,254.7 L214.4,254.7 L214.9,254.7 L215.4,254.7 L215.9,254.7 L216.4,254.7 L216.9,254.7 L217.4,254.7 L217.9,254.7 L218.4,254.7 L218.9,254.7 L219.4,254.7 L219.9,254.7 L220.4,254.7 L220.9,254.7 L221.4,254.7 L221.9,254.7 L222.4,254.7 L222.9,254.7 L223.4,254.7 L223.9,254.7 L224.4,254.7 L224.9,254.7 L225.4,254.7 L225.9,254.7 L226.4,254.7 L226.9,254.7 L227.4,254.7 L227.9,254.7 L228.4,254.7 L228.9,254.7 L229.4,254.7 L229.9,254.7 L230.4,254.7 L230.9,254.7 L231.4,254.7 L231.9,254.7 L232.4,254.7 L232.9,254.7 L233.4,254.7 L233.9,254.7 L234.4,254.7 L234.9,254.7 L235.4,254.7 L235.9,254.7 L236.4,254.6 L236.9,254.2 L237.4,253.9 L237.9,253.8 L238.4,253.9 L238.9,254.2 L239.4,254.4 L239.9,254.1 L240.4,253.1 L240.9,251.7 L241.4,249.7 L241.9,246.2 L242.4,242.1 L242.9,237.7 L243.4,233.2 L243.9,228.1 L244.4,222.8 L244.9,217.8 L245.4,213.2 L245.9,208.6 L246.4,204.5 L246.9,201.5 L247.4,198.8 L247.9,196.6 L248.4,195.5 L248.9,197.4 L249.4,203.3 L249.9,209.8 L250.4,215.8 L250.9,221.2 L251.4,226.1 L251.9,231.2 L252.4,236.0 L252.9,240.1 L253.4,243.7 L253.9,246.8 L254.4,249.1 L254.9,251.2 L255.4,252.6 L255.9,253.7 L256.4,254.5 L256.9,254.7 L257.4,254.7 L257.9,254.7 L258.4,254.7 L258.9,254.7 L259.4,254.7 L259.9,254.7 L260.4,254.7 L260.9,254.7 L261.4,254.7 L261.9,254.7 L262.4,254.7 L262.9,254.7 L263.4,254.7 L263.9,254.7 L264.4,254.7 L264.9,254.7 L265.4,254.7 L265.9,254.7 L266.4,254.7 L266.9,254.7 L267.4,254.7 L267.9,254.7 L268.4,254.7 L268.9,254.7 L269.4,254.7 L269.9,254.7 L270.4,254.7 L270.9,254.7 L271.4,254.7 L271.9,254.7 L272.4,254.7 L272.9,254.7 L273.4,254.7 L273.9,254.7 L274.4,254.7 L274.9,254.7 L275.4,254.7 L275.9,254.7 L276.4,254.7" fill="none" stroke="#e22f27" stroke-width="1.9" stroke-linejoin="round"/>
<path d="M286.90,255.00 L286.90,255.00 L287.40,251.46 L287.90,250.53 L288.40,249.41 L288.90,248.13 L289.40,246.66 L289.90,244.88 L290.40,242.83 L290.90,240.59 L291.40,238.11 L291.90,235.26 L292.40,232.15 L292.90,228.89 L293.40,225.45 L293.90,221.72 L294.40,217.87 L294.90,214.08 L295.40,210.07 L295.90,205.39 L296.40,200.85 L296.90,197.29 L297.40,195.56 L297.90,196.14 L298.40,198.25 L298.90,200.93 L299.40,203.81 L299.90,207.44 L300.40,211.48 L300.90,215.54 L301.40,219.50 L301.90,223.61 L302.40,227.72 L302.90,231.64 L303.40,235.37 L303.90,239.05 L304.40,242.50 L304.90,245.53 L305.40,248.18 L305.90,250.57 L306.40,252.37 L306.90,253.52 L307.40,254.45 L307.90,254.97 L308.40,255.00 L308.90,255.00 L309.40,255.00 L309.90,255.00 L310.40,255.00 L310.90,255.00 L311.40,255.00 L311.90,255.00 L312.40,255.00 L312.90,255.00 L313.40,255.00 L313.90,255.00 L314.40,255.00 L314.90,255.00 L315.40,255.00 L315.90,255.00 L316.40,255.00 L316.90,255.00 L317.40,255.00 L317.90,255.00 L318.40,255.00 L318.90,255.00 L319.40,255.00 L319.90,255.00 L320.40,255.00 L320.90,255.00 L321.40,255.00 L321.90,255.00 L322.40,255.00 L322.90,255.00 L323.40,255.00 L323.90,255.00 L324.40,255.00 L324.90,255.00 L325.40,255.00 L325.90,255.00 L326.40,255.00 L326.90,255.00 L327.40,255.00 L327.90,255.00 L328.40,255.00 L328.90,255.00 L329.40,255.00 L329.90,255.00 L330.40,255.00 L330.90,255.00 L331.40,255.00 L331.90,255.00 L332.40,255.00 L332.90,255.00 L333.40,255.00 L333.90,255.00 L334.40,255.00 L334.90,255.00 L335.40,255.00 L335.90,255.00 L336.40,255.00 L336.90,255.00 L337.40,255.00 L337.90,255.00 L338.40,255.00 L338.90,255.00 L339.40,255.00 L339.90,255.00 L340.40,255.00 L340.90,255.00 L341.40,255.00 L341.90,255.00 L342.40,255.00 L342.90,255.00 L343.40,255.00 L343.90,255.00 L344.40,255.00 L344.90,255.00 L345.40,255.00 L345.90,255.00 L346.40,255.00 L346.90,255.00 L347.40,255.00 L347.90,255.00 L348.40,255.00 L348.90,255.00 L349.40,255.00 L349.90,255.00 L350.40,255.00 L350.90,255.00 L350.90,255.00 Z" fill="#cbcbcb"/>
<rect x="286" y="191.5" width="66.00" height="63.50" fill="none" stroke="#000" stroke-width="1.7"/>
<line x1="284.10" y1="255.00" x2="286" y2="255.00" stroke="#000" stroke-width="1.2"/>
<line x1="284.10" y1="243.00" x2="286" y2="243.00" stroke="#000" stroke-width="1.2"/>
<line x1="284.10" y1="231.00" x2="286" y2="231.00" stroke="#000" stroke-width="1.2"/>
<line x1="284.10" y1="219.00" x2="286" y2="219.00" stroke="#000" stroke-width="1.2"/>
<line x1="284.10" y1="207.00" x2="286" y2="207.00" stroke="#000" stroke-width="1.2"/>
<line x1="284.10" y1="195.00" x2="286" y2="195.00" stroke="#000" stroke-width="1.2"/>
<path d="M286.9,254.7 L287.4,254.7 L287.9,254.7 L288.4,254.7 L288.9,254.7 L289.4,254.7 L289.9,254.7 L290.4,254.7 L290.9,254.7 L291.4,254.7 L291.9,254.7 L292.4,254.7 L292.9,254.7 L293.4,254.7 L293.9,254.7 L294.4,254.7 L294.9,254.7 L295.4,254.7 L295.9,254.7 L296.4,254.7 L296.9,254.7 L297.4,254.7 L297.9,254.7 L298.4,254.7 L298.9,254.7 L299.4,254.7 L299.9,254.7 L300.4,254.7 L300.9,254.7 L301.4,254.7 L301.9,254.7 L302.4,254.7 L302.9,254.7 L303.4,254.7 L303.9,254.7 L304.4,254.7 L304.9,254.7 L305.4,254.7 L305.9,254.7 L306.4,254.7 L306.9,254.7 L307.4,254.7 L307.9,254.7 L308.4,254.7 L308.9,254.7 L309.4,254.7 L309.9,254.7 L310.4,254.7 L310.9,254.7 L311.4,254.7 L311.9,254.7 L312.4,254.7 L312.9,254.7 L313.4,254.7 L313.9,254.7 L314.4,254.7 L314.9,254.7 L315.4,254.7 L315.9,254.7 L316.4,254.7 L316.9,254.7 L317.4,254.7 L317.9,254.7 L318.4,254.7 L318.9,254.7 L319.4,254.7 L319.9,254.7 L320.4,254.7 L320.9,254.7 L321.4,254.7 L321.9,254.7 L322.4,254.7 L322.9,254.7 L323.4,254.7 L323.9,254.7 L324.4,254.4 L324.9,254.1 L325.4,253.6 L325.9,252.8 L326.4,251.6 L326.9,249.8 L327.4,247.4 L327.9,244.0 L328.4,239.6 L328.9,233.9 L329.4,227.0 L329.9,218.9 L330.4,210.3 L330.9,202.0 L331.4,196.0 L331.9,198.7 L332.4,205.5 L332.9,213.4 L333.4,221.2 L333.9,228.3 L334.4,234.5 L334.9,239.6 L335.4,243.7 L335.9,246.9 L336.4,249.3 L336.9,251.0 L337.4,252.3 L337.9,253.2 L338.4,253.8 L338.9,254.2 L339.4,254.5 L339.9,254.7 L340.4,254.7 L340.9,254.7 L341.4,254.7 L341.9,254.7 L342.4,254.7 L342.9,254.7 L343.4,254.7 L343.9,254.7 L344.4,254.7 L344.9,254.7 L345.4,254.7 L345.9,254.7 L346.4,254.7 L346.9,254.7 L347.4,254.7 L347.9,254.7 L348.4,254.7 L348.9,254.7 L349.4,254.7 L349.9,254.7 L350.4,254.7 L350.9,254.7" fill="none" stroke="#3c3f94" stroke-width="1.7" stroke-linejoin="round"/>
<path d="M286.3,254.7 L286.3,193.7 L286.9,254.7 L287.4,235.6 L287.9,232.0 L288.4,227.2 L288.9,222.2 L289.4,221.4 L289.9,224.0 L290.4,225.0 L290.9,217.7 L291.4,208.9 L291.9,200.2 L292.4,195.5 L292.9,200.1 L293.4,206.0 L293.9,204.9 L294.4,201.6 L294.9,200.6 L295.4,210.3 L295.9,223.0 L296.4,226.8 L296.9,227.4 L297.4,227.8 L297.9,228.1 L298.4,227.9 L298.9,226.5 L299.4,228.0 L299.9,232.4 L300.4,236.7 L300.9,240.4 L301.4,243.7 L301.9,246.4 L302.4,248.5 L302.9,249.7 L303.4,250.7 L303.9,251.3 L304.4,251.8 L304.9,252.1 L305.4,252.4 L305.9,252.6 L306.4,252.8 L306.9,253.0 L307.4,253.1 L307.9,253.2 L308.4,253.2 L308.9,253.1 L309.4,253.0 L309.9,252.9 L310.4,253.0 L310.9,253.2 L311.4,253.5 L311.9,253.8 L312.4,254.0 L312.9,254.3 L313.4,254.5 L313.9,254.7 L314.4,254.7 L314.9,254.7 L315.4,254.7 L315.9,254.7 L316.4,254.7 L316.9,254.7 L317.4,254.7 L317.9,254.7 L318.4,254.7 L318.9,254.7 L319.4,254.7 L319.9,254.7 L320.4,254.7 L320.9,254.7 L321.4,254.7 L321.9,254.7 L322.4,254.7 L322.9,254.7 L323.4,254.7 L323.9,254.7 L324.4,254.4 L324.9,253.9 L325.4,253.1 L325.9,251.4 L326.4,249.4 L326.9,247.3 L327.4,244.7 L327.9,241.8 L328.4,238.9 L328.9,236.0 L329.4,233.0 L329.9,229.9 L330.4,227.0 L330.9,224.2 L331.4,221.4 L331.9,218.9 L332.4,216.7 L332.9,214.8 L333.4,213.0 L333.9,211.4 L334.4,210.2 L334.9,209.8 L335.4,210.3 L335.9,211.6 L336.4,213.1 L336.9,214.5 L337.4,216.4 L337.9,221.0 L338.4,228.9 L338.9,235.1 L339.4,239.0 L339.9,242.7 L340.4,246.5 L340.9,249.6 L341.4,252.0 L341.9,253.6 L342.4,254.3 L342.9,254.7 L343.4,254.7 L343.9,254.7 L344.4,254.7 L344.9,254.7 L345.4,254.7 L345.9,254.7 L346.4,254.7 L346.9,254.7 L347.4,254.7 L347.9,254.7 L348.4,254.7 L348.9,254.7 L349.4,254.7 L349.9,254.7 L350.4,254.7 L350.9,254.7" fill="none" stroke="#e22f27" stroke-width="1.9" stroke-linejoin="round"/>
<path d="M374.90,255.00 L374.90,255.00 L375.40,255.00 L375.90,255.00 L376.40,255.00 L376.90,255.00 L377.40,255.00 L377.90,255.00 L378.40,255.00 L378.90,255.00 L379.40,255.00 L379.90,255.00 L380.40,254.99 L380.90,254.99 L381.40,254.99 L381.90,254.98 L382.40,254.96 L382.90,254.94 L383.40,254.90 L383.90,254.84 L384.40,254.75 L384.90,254.60 L385.40,254.39 L385.90,254.07 L386.40,253.60 L386.90,252.92 L387.40,251.94 L387.90,250.57 L388.40,248.67 L388.90,246.10 L389.40,242.70 L389.90,238.29 L390.40,232.76 L390.90,226.04 L391.40,218.23 L391.90,209.71 L392.40,201.34 L392.90,195.50 L393.40,203.86 L393.90,215.11 L394.40,225.61 L394.90,234.28 L395.40,240.93 L395.90,245.75 L396.40,249.09 L396.90,251.32 L397.40,252.77 L397.90,253.68 L398.40,254.23 L398.90,254.56 L399.40,254.76 L399.90,254.87 L400.40,254.93 L400.90,254.96 L401.40,254.98 L401.90,254.99 L402.40,254.99 L402.90,255.00 L403.40,255.00 L403.90,255.00 L404.40,255.00 L404.90,255.00 L405.40,255.00 L405.90,255.00 L406.40,255.00 L406.90,255.00 L407.40,255.00 L407.90,255.00 L408.40,255.00 L408.90,255.00 L409.40,255.00 L409.90,255.00 L410.40,255.00 L410.90,255.00 L411.40,255.00 L411.90,255.00 L412.40,255.00 L412.90,255.00 L413.40,255.00 L413.90,255.00 L414.40,255.00 L414.90,255.00 L415.40,255.00 L415.90,255.00 L416.40,255.00 L416.90,255.00 L417.40,255.00 L417.90,255.00 L418.40,255.00 L418.90,255.00 L419.40,255.00 L419.90,255.00 L420.40,255.00 L420.90,255.00 L421.40,255.00 L421.90,255.00 L422.40,255.00 L422.90,255.00 L423.40,255.00 L423.90,255.00 L424.40,255.00 L424.90,255.00 L425.40,255.00 L425.90,255.00 L426.40,255.00 L426.90,255.00 L427.40,255.00 L427.90,255.00 L428.40,255.00 L428.90,255.00 L429.40,255.00 L429.90,255.00 L430.40,255.00 L430.90,255.00 L431.40,255.00 L431.90,255.00 L432.40,255.00 L432.90,255.00 L433.40,255.00 L433.90,255.00 L434.40,255.00 L434.90,255.00 L435.40,255.00 L435.90,255.00 L436.40,255.00 L436.90,255.00 L437.40,255.00 L437.90,255.00 L437.90,255.00 Z" fill="#cbcbcb"/>
<rect x="374" y="191.5" width="65.00" height="63.50" fill="none" stroke="#000" stroke-width="1.7"/>
<line x1="372.10" y1="255.00" x2="374" y2="255.00" stroke="#000" stroke-width="1.2"/>
<line x1="372.10" y1="243.00" x2="374" y2="243.00" stroke="#000" stroke-width="1.2"/>
<line x1="372.10" y1="231.00" x2="374" y2="231.00" stroke="#000" stroke-width="1.2"/>
<line x1="372.10" y1="219.00" x2="374" y2="219.00" stroke="#000" stroke-width="1.2"/>
<line x1="372.10" y1="207.00" x2="374" y2="207.00" stroke="#000" stroke-width="1.2"/>
<line x1="372.10" y1="195.00" x2="374" y2="195.00" stroke="#000" stroke-width="1.2"/>
<path d="M374.9,254.7 L375.4,254.7 L375.9,254.7 L376.4,254.7 L376.9,254.7 L377.4,254.7 L377.9,254.7 L378.4,254.7 L378.9,254.7 L379.4,254.7 L379.9,254.7 L380.4,254.7 L380.9,254.7 L381.4,254.7 L381.9,254.7 L382.4,254.7 L382.9,254.7 L383.4,254.7 L383.9,254.7 L384.4,254.7 L384.9,254.7 L385.4,254.7 L385.9,254.7 L386.4,254.7 L386.9,254.7 L387.4,254.7 L387.9,254.7 L388.4,254.7 L388.9,254.7 L389.4,254.7 L389.9,254.7 L390.4,254.7 L390.9,254.7 L391.4,254.7 L391.9,254.7 L392.4,254.7 L392.9,254.7 L393.4,254.7 L393.9,254.7 L394.4,254.7 L394.9,254.7 L395.4,254.7 L395.9,254.7 L396.4,254.7 L396.9,254.7 L397.4,254.7 L397.9,254.7 L398.4,254.7 L398.9,254.7 L399.4,254.7 L399.9,254.7 L400.4,254.7 L400.9,254.7 L401.4,254.7 L401.9,254.1 L402.4,253.3 L402.9,252.2 L403.4,250.9 L403.9,249.0 L404.4,247.0 L404.9,245.3 L405.4,243.5 L405.9,241.5 L406.4,238.9 L406.9,236.0 L407.4,232.9 L407.9,229.4 L408.4,225.6 L408.9,221.7 L409.4,217.5 L409.9,213.2 L410.4,209.3 L410.9,205.5 L411.4,201.4 L411.9,197.8 L412.4,195.7 L412.9,195.6 L413.4,196.2 L413.9,197.3 L414.4,200.2 L414.9,205.4 L415.4,210.9 L415.9,217.1 L416.4,223.8 L416.9,230.2 L417.4,236.7 L417.9,242.5 L418.4,246.6 L418.9,249.9 L419.4,252.3 L419.9,253.8 L420.4,254.7 L420.9,254.7 L421.4,254.7 L421.9,254.7 L422.4,254.7 L422.9,254.7 L423.4,254.7 L423.9,254.7 L424.4,254.7 L424.9,254.7 L425.4,254.7 L425.9,254.7 L426.4,254.7 L426.9,254.7 L427.4,254.7 L427.9,254.7 L428.4,254.7 L428.9,254.7 L429.4,254.7 L429.9,254.7 L430.4,254.7 L430.9,254.7 L431.4,254.7 L431.9,254.7 L432.4,254.7 L432.9,254.7 L433.4,254.7 L433.9,254.7 L434.4,254.7 L434.9,254.7 L435.4,254.7 L435.9,254.7 L436.4,254.7 L436.9,254.7 L437.4,254.7 L437.9,254.7" fill="none" stroke="#3c3f94" stroke-width="1.7" stroke-linejoin="round"/>
<path d="M374.9,254.7 L375.4,254.7 L375.9,254.7 L376.4,254.7 L376.9,254.7 L377.4,254.7 L377.9,254.7 L378.4,254.7 L378.9,254.7 L379.4,254.7 L379.9,254.7 L380.4,254.7 L380.9,254.7 L381.4,254.7 L381.9,254.7 L382.4,254.7 L382.9,254.7 L383.4,254.7 L383.9,254.7 L384.4,254.7 L384.9,254.7 L385.4,254.7 L385.9,254.7 L386.4,254.7 L386.9,254.7 L387.4,254.7 L387.9,254.7 L388.4,254.7 L388.9,254.7 L389.4,254.7 L389.9,254.7 L390.4,254.7 L390.9,254.7 L391.4,254.7 L391.9,254.7 L392.4,254.7 L392.9,254.7 L393.4,254.7 L393.9,254.7 L394.4,254.7 L394.9,254.7 L395.4,254.7 L395.9,254.7 L396.4,254.7 L396.9,254.7 L397.4,254.7 L397.9,254.7 L398.4,254.7 L398.9,254.7 L399.4,254.7 L399.9,254.7 L400.4,254.7 L400.9,254.7 L401.4,254.5 L401.9,253.7 L402.4,252.8 L402.9,251.7 L403.4,250.1 L403.9,248.3 L404.4,246.6 L404.9,244.8 L405.4,243.0 L405.9,241.3 L406.4,239.9 L406.9,238.9 L407.4,237.3 L407.9,232.9 L408.4,227.6 L408.9,223.2 L409.4,218.8 L409.9,214.5 L410.4,210.5 L410.9,206.4 L411.4,201.9 L411.9,198.0 L412.4,195.7 L412.9,195.6 L413.4,196.2 L413.9,197.3 L414.4,200.2 L414.9,205.4 L415.4,210.9 L415.9,217.1 L416.4,223.8 L416.9,230.2 L417.4,236.7 L417.9,242.5 L418.4,246.6 L418.9,249.9 L419.4,252.3 L419.9,253.8 L420.4,254.7 L420.9,254.7 L421.4,254.7 L421.9,254.7 L422.4,254.7 L422.9,254.7 L423.4,254.7 L423.9,254.7 L424.4,254.7 L424.9,254.7 L425.4,254.7 L425.9,254.7 L426.4,254.7 L426.9,254.7 L427.4,254.7 L427.9,254.7 L428.4,254.7 L428.9,254.7 L429.4,254.7 L429.9,254.7 L430.4,254.7 L430.9,254.7 L431.4,254.7 L431.9,254.7 L432.4,254.7 L432.9,254.7 L433.4,254.7 L433.9,254.7 L434.4,254.7 L434.9,254.7 L435.4,254.7 L435.9,254.7 L436.4,254.7 L436.9,254.7 L437.4,254.7 L437.9,254.7" fill="none" stroke="#e22f27" stroke-width="1.9" stroke-linejoin="round"/>
<path d="M451.40,255.00 L451.40,255.00 L451.90,255.00 L452.40,255.00 L452.90,255.00 L453.40,255.00 L453.90,254.99 L454.40,254.99 L454.90,254.98 L455.40,254.98 L455.90,254.96 L456.40,254.95 L456.90,254.92 L457.40,254.89 L457.90,254.84 L458.40,254.77 L458.90,254.68 L459.40,254.54 L459.90,254.35 L460.40,254.09 L460.90,253.73 L461.40,253.24 L461.90,252.58 L462.40,251.69 L462.90,250.52 L463.40,248.97 L463.90,246.97 L464.40,244.39 L464.90,241.13 L465.40,237.06 L465.90,232.07 L466.40,226.11 L466.90,219.18 L467.40,211.44 L467.90,203.36 L468.40,196.32 L468.90,204.03 L469.40,216.83 L469.90,227.95 L470.40,236.58 L470.90,242.85 L471.40,247.20 L471.90,250.11 L472.40,252.00 L472.90,253.19 L473.40,253.93 L473.90,254.38 L474.40,254.64 L474.90,254.80 L475.40,254.89 L475.90,254.94 L476.40,254.97 L476.90,254.98 L477.40,254.99 L477.90,254.99 L478.40,255.00 L478.90,255.00 L479.40,255.00 L479.90,255.00 L480.40,255.00 L480.90,255.00 L481.40,255.00 L481.90,255.00 L482.40,255.00 L482.90,255.00 L483.40,255.00 L483.90,255.00 L484.40,255.00 L484.90,255.00 L485.40,255.00 L485.90,255.00 L486.40,255.00 L486.90,255.00 L487.40,255.00 L487.90,255.00 L488.40,255.00 L488.90,255.00 L489.40,255.00 L489.90,255.00 L490.40,255.00 L490.90,255.00 L491.40,255.00 L491.90,255.00 L492.40,255.00 L492.90,255.00 L493.40,255.00 L493.90,255.00 L494.40,255.00 L494.90,255.00 L495.40,255.00 L495.90,255.00 L496.40,255.00 L496.90,255.00 L497.40,255.00 L497.90,255.00 L498.40,255.00 L498.90,255.00 L499.40,255.00 L499.90,255.00 L500.40,255.00 L500.90,255.00 L501.40,255.00 L501.90,255.00 L502.40,255.00 L502.90,255.00 L503.40,255.00 L503.90,255.00 L504.40,255.00 L504.90,255.00 L505.40,255.00 L505.90,255.00 L506.40,255.00 L506.90,255.00 L507.40,255.00 L507.90,255.00 L508.40,255.00 L508.90,255.00 L509.40,255.00 L509.90,255.00 L510.40,255.00 L510.90,255.00 L511.40,255.00 L511.90,255.00 L512.40,255.00 L512.90,255.00 L513.40,255.00 L513.40,255.00 Z" fill="#cbcbcb"/>
<rect x="450.5" y="191.5" width="64.00" height="63.50" fill="none" stroke="#000" stroke-width="1.7"/>
<line x1="448.60" y1="255.00" x2="450.5" y2="255.00" stroke="#000" stroke-width="1.2"/>
<line x1="448.60" y1="243.00" x2="450.5" y2="243.00" stroke="#000" stroke-width="1.2"/>
<line x1="448.60" y1="231.00" x2="450.5" y2="231.00" stroke="#000" stroke-width="1.2"/>
<line x1="448.60" y1="219.00" x2="450.5" y2="219.00" stroke="#000" stroke-width="1.2"/>
<line x1="448.60" y1="207.00" x2="450.5" y2="207.00" stroke="#000" stroke-width="1.2"/>
<line x1="448.60" y1="195.00" x2="450.5" y2="195.00" stroke="#000" stroke-width="1.2"/>
<path d="M451.4,254.7 L451.9,254.7 L452.4,254.7 L452.9,254.7 L453.4,254.7 L453.9,254.7 L454.4,254.7 L454.9,254.7 L455.4,254.7 L455.9,254.7 L456.4,254.7 L456.9,254.7 L457.4,254.7 L457.9,254.7 L458.4,254.7 L458.9,254.7 L459.4,254.7 L459.9,254.7 L460.4,254.7 L460.9,254.7 L461.4,254.7 L461.9,254.7 L462.4,254.7 L462.9,254.7 L463.4,254.7 L463.9,254.7 L464.4,254.7 L464.9,254.7 L465.4,254.7 L465.9,254.7 L466.4,254.7 L466.9,254.7 L467.4,254.7 L467.9,254.7 L468.4,254.7 L468.9,254.7 L469.4,254.7 L469.9,254.7 L470.4,254.7 L470.9,254.7 L471.4,254.7 L471.9,254.7 L472.4,254.7 L472.9,254.7 L473.4,254.7 L473.9,254.7 L474.4,254.7 L474.9,254.7 L475.4,254.7 L475.9,254.7 L476.4,254.7 L476.9,254.7 L477.4,254.7 L477.9,254.7 L478.4,254.7 L478.9,254.7 L479.4,254.2 L479.9,253.6 L480.4,252.8 L480.9,250.9 L481.4,248.1 L481.9,244.7 L482.4,241.2 L482.9,236.9 L483.4,231.8 L483.9,226.3 L484.4,220.3 L484.9,213.2 L485.4,206.5 L485.9,201.9 L486.4,198.4 L486.9,196.0 L487.4,195.6 L487.9,196.9 L488.4,198.6 L488.9,199.6 L489.4,200.3 L489.9,201.0 L490.4,202.1 L490.9,204.3 L491.4,209.5 L491.9,215.8 L492.4,221.9 L492.9,228.6 L493.4,234.8 L493.9,240.4 L494.4,245.5 L494.9,249.0 L495.4,251.4 L495.9,253.2 L496.4,254.1 L496.9,254.7 L497.4,254.7 L497.9,254.7 L498.4,254.7 L498.9,254.7 L499.4,254.7 L499.9,254.7 L500.4,254.7 L500.9,254.7 L501.4,254.7 L501.9,254.7 L502.4,254.7 L502.9,254.7 L503.4,254.7 L503.9,254.7 L504.4,254.7 L504.9,254.7 L505.4,254.7 L505.9,254.7 L506.4,254.7 L506.9,254.7 L507.4,254.7 L507.9,254.7 L508.4,254.7 L508.9,254.7 L509.4,254.7 L509.9,254.7 L510.4,254.7 L510.9,254.7 L511.4,254.7 L511.9,254.7 L512.4,254.7 L512.9,254.7 L513.4,254.7" fill="none" stroke="#3c3f94" stroke-width="1.7" stroke-linejoin="round"/>
<path d="M450.8,254.7 L450.8,193.7 L451.4,254.7 L451.9,248.5 L452.4,248.1 L452.9,247.9 L453.4,248.0 L453.9,248.4 L454.4,248.8 L454.9,249.0 L455.4,249.0 L455.9,248.8 L456.4,248.6 L456.9,248.5 L457.4,248.6 L457.9,249.0 L458.4,249.4 L458.9,249.6 L459.4,249.6 L459.9,249.3 L460.4,248.9 L460.9,248.5 L461.4,248.2 L461.9,247.7 L462.4,247.3 L462.9,246.8 L463.4,246.2 L463.9,245.6 L464.4,245.0 L464.9,244.4 L465.4,243.8 L465.9,243.3 L466.4,242.8 L466.9,242.5 L467.4,242.8 L467.9,243.7 L468.4,244.3 L468.9,244.1 L469.4,243.5 L469.9,242.9 L470.4,242.5 L470.9,243.0 L471.4,244.4 L471.9,245.9 L472.4,246.8 L472.9,247.7 L473.4,248.5 L473.9,249.0 L474.4,249.2 L474.9,249.3 L475.4,249.4 L475.9,249.6 L476.4,250.0 L476.9,250.8 L477.4,251.6 L477.9,252.0 L478.4,251.8 L478.9,251.2 L479.4,250.2 L479.9,248.5 L480.4,245.4 L480.9,241.9 L481.4,238.0 L481.9,233.4 L482.4,228.3 L482.9,221.8 L483.4,217.7 L483.9,216.5 L484.4,215.1 L484.9,211.5 L485.4,206.3 L485.9,201.9 L486.4,197.7 L486.9,195.5 L487.4,199.3 L487.9,205.6 L488.4,210.6 L488.9,217.0 L489.4,225.1 L489.9,230.6 L490.4,232.4 L490.9,233.5 L491.4,235.2 L491.9,238.5 L492.4,242.3 L492.9,245.5 L493.4,248.4 L493.9,250.7 L494.4,252.3 L494.9,253.3 L495.4,254.1 L495.9,254.6 L496.4,254.7 L496.9,254.7 L497.4,254.7 L497.9,254.7 L498.4,254.7 L498.9,254.7 L499.4,254.7 L499.9,254.7 L500.4,254.7 L500.9,254.7 L501.4,254.7 L501.9,254.7 L502.4,254.7 L502.9,254.7 L503.4,254.7 L503.9,254.7 L504.4,254.7 L504.9,254.7 L505.4,254.7 L505.9,254.7 L506.4,254.7 L506.9,254.7 L507.4,254.7 L507.9,254.7 L508.4,254.7 L508.9,254.7 L509.4,254.7 L509.9,254.7 L510.4,254.7 L510.9,254.7 L511.4,254.7 L511.9,254.7 L512.4,254.7 L512.9,254.7 L513.4,254.7" fill="none" stroke="#e22f27" stroke-width="1.9" stroke-linejoin="round"/>
<path d="M44.20,327.50 L44.20,323.90 L44.70,322.39 L45.20,320.99 L45.70,319.73 L46.20,318.62 L46.70,317.70 L47.20,316.98 L47.70,316.46 L48.20,316.04 L48.70,315.62 L49.20,315.11 L49.70,314.41 L50.20,313.32 L50.70,311.76 L51.20,309.83 L51.70,307.62 L52.20,305.21 L52.70,302.60 L53.20,299.26 L53.70,295.44 L54.20,291.57 L54.70,288.04 L55.20,284.48 L55.70,281.00 L56.20,277.85 L56.70,275.26 L57.20,272.76 L57.70,270.42 L58.20,268.68 L58.70,268.00 L59.20,269.44 L59.70,272.76 L60.20,276.45 L60.70,280.48 L61.20,285.61 L61.70,293.07 L62.20,303.70 L62.70,310.12 L63.20,315.07 L63.70,318.72 L64.20,321.64 L64.70,323.86 L65.20,325.40 L65.70,326.64 L66.20,327.42 L66.70,327.50 L67.20,327.50 L67.70,327.50 L68.20,327.50 L68.70,327.50 L69.20,327.50 L69.70,327.50 L70.20,327.50 L70.70,327.50 L71.20,327.50 L71.70,327.50 L72.20,327.50 L72.70,327.50 L73.20,327.50 L73.70,327.50 L74.20,327.50 L74.70,327.50 L75.20,327.50 L75.70,327.50 L76.20,327.50 L76.70,327.50 L77.20,327.50 L77.70,327.50 L78.20,327.50 L78.70,327.50 L79.20,327.50 L79.70,327.50 L80.20,327.50 L80.70,327.50 L81.20,327.50 L81.70,327.50 L82.20,327.50 L82.70,327.50 L83.20,327.50 L83.70,327.50 L84.20,327.50 L84.70,327.50 L85.20,327.50 L85.70,327.50 L86.20,327.50 L86.70,327.50 L87.20,327.50 L87.70,327.50 L88.20,327.50 L88.70,327.50 L89.20,327.50 L89.70,327.50 L90.20,327.50 L90.70,327.50 L91.20,327.50 L91.70,327.50 L92.20,327.50 L92.70,327.50 L93.20,327.50 L93.70,327.50 L94.20,327.50 L94.70,327.50 L95.20,327.50 L95.70,327.50 L96.20,327.50 L96.70,327.50 L97.20,327.50 L97.70,327.50 L98.20,327.50 L98.70,327.50 L99.20,327.50 L99.70,327.50 L100.20,327.50 L100.70,327.50 L101.20,327.50 L101.70,327.50 L102.20,327.50 L102.70,327.50 L103.20,327.50 L103.70,327.50 L104.20,327.50 L104.70,327.50 L105.20,327.50 L105.70,327.50 L106.20,327.50 L106.70,327.50 L107.20,327.50 L107.70,327.50 L107.70,327.50 Z" fill="#cbcbcb"/>
<rect x="43.3" y="265" width="65.70" height="62.50" fill="none" stroke="#000" stroke-width="1.7"/>
<line x1="41.40" y1="327.50" x2="43.3" y2="327.50" stroke="#000" stroke-width="1.2"/>
<line x1="41.40" y1="315.50" x2="43.3" y2="315.50" stroke="#000" stroke-width="1.2"/>
<line x1="41.40" y1="303.50" x2="43.3" y2="303.50" stroke="#000" stroke-width="1.2"/>
<line x1="41.40" y1="291.50" x2="43.3" y2="291.50" stroke="#000" stroke-width="1.2"/>
<line x1="41.40" y1="279.50" x2="43.3" y2="279.50" stroke="#000" stroke-width="1.2"/>
<line x1="41.40" y1="267.50" x2="43.3" y2="267.50" stroke="#000" stroke-width="1.2"/>
<path d="M44.2,327.2 L44.7,327.2 L45.2,327.2 L45.7,327.2 L46.2,327.2 L46.7,327.2 L47.2,327.2 L47.7,327.2 L48.2,327.2 L48.7,327.2 L49.2,327.2 L49.7,327.2 L50.2,327.2 L50.7,327.2 L51.2,327.2 L51.7,327.2 L52.2,327.2 L52.7,327.2 L53.2,327.2 L53.7,327.2 L54.2,327.2 L54.7,327.2 L55.2,327.2 L55.7,327.2 L56.2,327.2 L56.7,327.2 L57.2,327.2 L57.7,327.2 L58.2,327.2 L58.7,327.2 L59.2,327.2 L59.7,327.2 L60.2,327.2 L60.7,327.2 L61.2,327.2 L61.7,327.2 L62.2,327.2 L62.7,327.2 L63.2,327.2 L63.7,327.2 L64.2,327.2 L64.7,327.2 L65.2,327.2 L65.7,327.2 L66.2,327.2 L66.7,327.2 L67.2,327.2 L67.7,327.2 L68.2,327.2 L68.7,327.2 L69.2,327.2 L69.7,327.1 L70.2,327.0 L70.7,326.8 L71.2,326.5 L71.7,326.2 L72.2,325.7 L72.7,325.0 L73.2,324.2 L73.7,323.2 L74.2,321.8 L74.7,320.2 L75.2,318.1 L75.7,315.6 L76.2,312.6 L76.7,309.0 L77.2,304.9 L77.7,300.1 L78.2,294.9 L78.7,289.3 L79.2,283.5 L79.7,277.7 L80.2,272.5 L80.7,268.7 L81.2,269.2 L81.7,273.0 L82.2,277.8 L82.7,283.2 L83.2,288.1 L83.7,292.1 L84.2,296.4 L84.7,300.8 L85.2,305.0 L85.7,308.8 L86.2,312.2 L86.7,315.2 L87.2,317.7 L87.7,319.8 L88.2,321.5 L88.7,322.9 L89.2,324.0 L89.7,324.9 L90.2,325.6 L90.7,326.1 L91.2,326.4 L91.7,326.7 L92.2,326.9 L92.7,327.1 L93.2,327.2 L93.7,327.2 L94.2,327.2 L94.7,327.2 L95.2,327.2 L95.7,327.2 L96.2,327.2 L96.7,327.2 L97.2,327.2 L97.7,327.2 L98.2,327.2 L98.7,327.2 L99.2,327.2 L99.7,327.2 L100.2,327.2 L100.7,327.2 L101.2,327.2 L101.7,327.2 L102.2,327.2 L102.7,327.2 L103.2,327.2 L103.7,327.2 L104.2,327.2 L104.7,327.2 L105.2,327.2 L105.7,327.2 L106.2,327.2 L106.7,327.2 L107.2,327.2 L107.7,327.2" fill="none" stroke="#e22f27" stroke-width="1.9" stroke-linejoin="round"/>
<path d="M44.2,327.2 L44.7,327.2 L45.2,327.2 L45.7,327.2 L46.2,327.2 L46.7,327.2 L47.2,327.2 L47.7,327.2 L48.2,327.2 L48.7,327.2 L49.2,327.2 L49.7,327.2 L50.2,327.2 L50.7,327.2 L51.2,327.2 L51.7,327.2 L52.2,327.2 L52.7,327.2 L53.2,327.2 L53.7,327.2 L54.2,327.2 L54.7,327.2 L55.2,327.2 L55.7,327.2 L56.2,327.2 L56.7,327.2 L57.2,327.2 L57.7,327.2 L58.2,327.2 L58.7,327.2 L59.2,327.2 L59.7,327.2 L60.2,327.2 L60.7,327.2 L61.2,327.2 L61.7,327.2 L62.2,327.2 L62.7,327.2 L63.2,327.2 L63.7,327.2 L64.2,327.2 L64.7,327.2 L65.2,327.1 L65.7,327.0 L66.2,326.9 L66.7,326.7 L67.2,326.5 L67.7,326.3 L68.2,326.0 L68.7,325.7 L69.2,325.2 L69.7,324.7 L70.2,324.1 L70.7,323.3 L71.2,322.4 L71.7,321.4 L72.2,320.2 L72.7,318.7 L73.2,317.1 L73.7,315.2 L74.2,313.0 L74.7,310.6 L75.2,307.9 L75.7,304.9 L76.2,301.6 L76.7,298.0 L77.2,294.2 L77.7,290.2 L78.2,286.1 L78.7,281.9 L79.2,277.8 L79.7,274.0 L80.2,270.8 L80.7,268.4 L81.2,269.0 L81.7,272.3 L82.2,276.6 L82.7,281.4 L83.2,286.4 L83.7,291.3 L84.2,295.9 L84.7,300.3 L85.2,304.3 L85.7,307.9 L86.2,311.1 L86.7,313.9 L87.2,316.3 L87.7,318.4 L88.2,320.1 L88.7,321.6 L89.2,322.8 L89.7,323.7 L90.2,324.5 L90.7,325.2 L91.2,325.7 L91.7,326.1 L92.2,326.4 L92.7,326.7 L93.2,326.9 L93.7,327.0 L94.2,327.1 L94.7,327.2 L95.2,327.2 L95.7,327.2 L96.2,327.2 L96.7,327.2 L97.2,327.2 L97.7,327.2 L98.2,327.2 L98.7,327.2 L99.2,327.2 L99.7,327.2 L100.2,327.2 L100.7,327.2 L101.2,327.2 L101.7,327.2 L102.2,327.2 L102.7,327.2 L103.2,327.2 L103.7,327.2 L104.2,327.2 L104.7,327.2 L105.2,327.2 L105.7,327.2 L106.2,327.2 L106.7,327.2 L107.2,327.2 L107.7,327.2" fill="none" stroke="#3c3f94" stroke-width="1.7" stroke-linejoin="round"/>
<path d="M118.40,327.50 L118.40,327.50 L118.90,327.50 L119.40,327.50 L119.90,327.50 L120.40,327.50 L120.90,326.88 L121.40,326.04 L121.90,325.12 L122.40,324.16 L122.90,323.15 L123.40,322.01 L123.90,320.66 L124.40,318.93 L124.90,316.69 L125.40,314.11 L125.90,311.36 L126.40,308.53 L126.90,305.48 L127.40,302.20 L127.90,298.73 L128.40,295.01 L128.90,290.61 L129.40,286.01 L129.90,281.87 L130.40,278.74 L130.90,275.78 L131.40,272.97 L131.90,270.56 L132.40,268.83 L132.90,268.02 L133.40,268.81 L133.90,271.69 L134.40,275.96 L134.90,280.89 L135.40,286.56 L135.90,294.64 L136.40,302.44 L136.90,308.25 L137.40,313.30 L137.90,317.38 L138.40,320.70 L138.90,323.39 L139.40,325.13 L139.90,326.49 L140.40,327.35 L140.90,327.50 L141.40,327.50 L141.90,327.50 L142.40,327.50 L142.90,327.50 L143.40,327.50 L143.90,327.50 L144.40,327.50 L144.90,327.50 L145.40,327.50 L145.90,327.50 L146.40,327.50 L146.90,327.50 L147.40,327.50 L147.90,327.50 L148.40,327.50 L148.90,327.50 L149.40,327.50 L149.90,327.50 L150.40,327.50 L150.90,327.50 L151.40,327.50 L151.90,327.50 L152.40,327.50 L152.90,327.50 L153.40,327.50 L153.90,327.50 L154.40,327.50 L154.90,327.50 L155.40,327.50 L155.90,327.50 L156.40,327.50 L156.90,327.50 L157.40,327.50 L157.90,327.50 L158.40,327.50 L158.90,327.50 L159.40,327.50 L159.90,327.50 L160.40,327.50 L160.90,327.50 L161.40,327.50 L161.90,327.50 L162.40,327.50 L162.90,327.50 L163.40,327.50 L163.90,327.50 L164.40,327.50 L164.90,327.50 L165.40,327.50 L165.90,327.50 L166.40,327.50 L166.90,327.50 L167.40,327.50 L167.90,327.50 L168.40,327.50 L168.90,327.50 L169.40,327.50 L169.90,327.50 L170.40,327.50 L170.90,327.50 L171.40,327.50 L171.90,327.50 L172.40,327.50 L172.90,327.50 L173.40,327.50 L173.90,327.50 L174.40,327.50 L174.90,327.50 L175.40,327.50 L175.90,327.50 L176.40,327.50 L176.90,327.50 L177.40,327.50 L177.90,327.50 L178.40,327.50 L178.90,327.50 L179.40,327.50 L179.90,327.50 L180.40,327.50 L180.90,327.50 L181.40,327.50 L181.90,327.50 L182.40,327.50 L182.90,327.50 L182.90,327.50 Z" fill="#cbcbcb"/>
<rect x="117.5" y="265" width="66.50" height="62.50" fill="none" stroke="#000" stroke-width="1.7"/>
<line x1="115.60" y1="327.50" x2="117.5" y2="327.50" stroke="#000" stroke-width="1.2"/>
<line x1="115.60" y1="315.50" x2="117.5" y2="315.50" stroke="#000" stroke-width="1.2"/>
<line x1="115.60" y1="303.50" x2="117.5" y2="303.50" stroke="#000" stroke-width="1.2"/>
<line x1="115.60" y1="291.50" x2="117.5" y2="291.50" stroke="#000" stroke-width="1.2"/>
<line x1="115.60" y1="279.50" x2="117.5" y2="279.50" stroke="#000" stroke-width="1.2"/>
<line x1="115.60" y1="267.50" x2="117.5" y2="267.50" stroke="#000" stroke-width="1.2"/>
<path d="M118.4,327.2 L118.9,327.2 L119.4,327.2 L119.9,327.2 L120.4,327.2 L120.9,327.2 L121.4,327.2 L121.9,327.2 L122.4,327.2 L122.9,327.2 L123.4,327.2 L123.9,327.2 L124.4,327.2 L124.9,327.2 L125.4,327.2 L125.9,327.2 L126.4,327.2 L126.9,327.2 L127.4,327.2 L127.9,327.2 L128.4,327.2 L128.9,327.2 L129.4,327.2 L129.9,327.2 L130.4,327.2 L130.9,327.2 L131.4,327.2 L131.9,327.2 L132.4,327.2 L132.9,327.2 L133.4,327.2 L133.9,327.2 L134.4,327.2 L134.9,327.2 L135.4,327.2 L135.9,327.2 L136.4,327.2 L136.9,327.2 L137.4,327.2 L137.9,327.2 L138.4,327.2 L138.9,327.2 L139.4,327.2 L139.9,327.2 L140.4,327.2 L140.9,327.2 L141.4,327.2 L141.9,327.1 L142.4,327.0 L142.9,326.8 L143.4,326.6 L143.9,326.4 L144.4,326.0 L144.9,325.6 L145.4,325.1 L145.9,324.4 L146.4,323.6 L146.9,322.6 L147.4,321.4 L147.9,319.9 L148.4,318.2 L148.9,316.1 L149.4,313.7 L149.9,310.8 L150.4,307.6 L150.9,304.0 L151.4,300.0 L151.9,295.7 L152.4,291.0 L152.9,286.2 L153.4,281.3 L153.9,276.5 L154.4,272.3 L154.9,269.0 L155.4,268.7 L155.9,272.6 L156.4,277.9 L156.9,283.7 L157.4,289.6 L157.9,295.2 L158.4,300.5 L158.9,305.2 L159.4,309.3 L159.9,312.9 L160.4,315.9 L160.9,318.4 L161.4,320.4 L161.9,322.1 L162.4,323.4 L162.9,324.4 L163.4,325.2 L163.9,325.8 L164.4,326.2 L164.9,326.6 L165.4,326.8 L165.9,327.0 L166.4,327.2 L166.9,327.2 L167.4,327.2 L167.9,327.2 L168.4,327.2 L168.9,327.2 L169.4,327.2 L169.9,327.2 L170.4,327.2 L170.9,327.2 L171.4,327.2 L171.9,327.2 L172.4,327.2 L172.9,327.2 L173.4,327.2 L173.9,327.2 L174.4,327.2 L174.9,327.2 L175.4,327.2 L175.9,327.2 L176.4,327.2 L176.9,327.2 L177.4,327.2 L177.9,327.2 L178.4,327.2 L178.9,327.2 L179.4,327.2 L179.9,327.2 L180.4,327.2 L180.9,327.2 L181.4,327.2 L181.9,327.2 L182.4,327.2 L182.9,327.2" fill="none" stroke="#3c3f94" stroke-width="1.7" stroke-linejoin="round"/>
<path d="M117.8,327.2 L117.8,320.4 L118.4,327.2 L118.9,327.2 L119.4,327.2 L119.9,327.2 L120.4,327.2 L120.9,327.2 L121.4,327.2 L121.9,327.2 L122.4,327.2 L122.9,327.2 L123.4,327.2 L123.9,327.2 L124.4,327.2 L124.9,327.2 L125.4,327.2 L125.9,327.2 L126.4,327.2 L126.9,327.2 L127.4,327.2 L127.9,327.2 L128.4,327.1 L128.9,326.9 L129.4,326.8 L129.9,326.6 L130.4,326.3 L130.9,326.1 L131.4,325.8 L131.9,325.6 L132.4,325.3 L132.9,325.1 L133.4,325.2 L133.9,325.4 L134.4,325.7 L134.9,326.0 L135.4,326.2 L135.9,326.5 L136.4,326.7 L136.9,326.9 L137.4,327.0 L137.9,327.1 L138.4,327.2 L138.9,327.2 L139.4,327.2 L139.9,327.2 L140.4,327.2 L140.9,327.2 L141.4,327.1 L141.9,327.0 L142.4,326.8 L142.9,326.6 L143.4,326.3 L143.9,326.0 L144.4,325.5 L144.9,325.0 L145.4,324.3 L145.9,323.5 L146.4,322.5 L146.9,321.4 L147.4,319.9 L147.9,318.2 L148.4,316.2 L148.9,313.9 L149.4,311.2 L149.9,308.1 L150.4,304.7 L150.9,300.8 L151.4,296.6 L151.9,292.2 L152.4,287.5 L152.9,282.7 L153.4,278.0 L153.9,273.7 L154.4,270.1 L154.9,268.0 L155.4,270.8 L155.9,275.7 L156.4,281.3 L156.9,286.9 L157.4,284.8 L157.9,287.0 L158.4,292.2 L158.9,298.0 L159.4,303.8 L159.9,309.0 L160.4,313.4 L160.9,317.1 L161.4,320.0 L161.9,322.2 L162.4,323.8 L162.9,324.9 L163.4,325.6 L163.9,326.1 L164.4,326.5 L164.9,326.7 L165.4,327.0 L165.9,327.1 L166.4,327.2 L166.9,327.2 L167.4,327.2 L167.9,327.2 L168.4,327.2 L168.9,327.2 L169.4,327.2 L169.9,327.2 L170.4,327.2 L170.9,327.2 L171.4,327.2 L171.9,327.2 L172.4,327.2 L172.9,327.2 L173.4,327.2 L173.9,327.2 L174.4,327.2 L174.9,327.2 L175.4,327.2 L175.9,327.2 L176.4,327.2 L176.9,327.2 L177.4,327.2 L177.9,327.2 L178.4,327.2 L178.9,327.2 L179.4,327.2 L179.9,327.2 L180.4,327.2 L180.9,327.2 L181.4,327.2 L181.9,327.2 L182.4,327.2 L182.9,327.2" fill="none" stroke="#e22f27" stroke-width="1.9" stroke-linejoin="round"/>
<path d="M212.90,327.50 L212.90,327.50 L213.40,327.17 L213.90,326.68 L214.40,326.10 L214.90,325.44 L215.40,324.63 L215.90,323.70 L216.40,322.72 L216.90,321.74 L217.40,320.83 L217.90,319.97 L218.40,319.07 L218.90,318.04 L219.40,316.79 L219.90,315.11 L220.40,312.96 L220.90,310.45 L221.40,307.71 L221.90,304.86 L222.40,301.84 L222.90,298.42 L223.40,294.82 L223.90,291.29 L224.40,287.91 L224.90,284.52 L225.40,281.22 L225.90,278.11 L226.40,274.91 L226.90,271.45 L227.40,268.80 L227.90,268.09 L228.40,270.73 L228.90,275.49 L229.40,281.30 L229.90,289.14 L230.40,296.37 L230.90,303.12 L231.40,308.60 L231.90,313.38 L232.40,317.61 L232.90,321.59 L233.40,324.35 L233.90,326.25 L234.40,327.40 L234.90,327.50 L235.40,327.50 L235.90,327.50 L236.40,327.50 L236.90,327.50 L237.40,327.50 L237.90,327.50 L238.40,327.50 L238.90,327.50 L239.40,327.50 L239.90,327.50 L240.40,327.50 L240.90,327.50 L241.40,327.50 L241.90,327.50 L242.40,327.50 L242.90,327.50 L243.40,327.50 L243.90,327.50 L244.40,327.50 L244.90,327.50 L245.40,327.50 L245.90,327.50 L246.40,327.50 L246.90,327.50 L247.40,327.50 L247.90,327.50 L248.40,327.50 L248.90,327.50 L249.40,327.50 L249.90,327.50 L250.40,327.50 L250.90,327.50 L251.40,327.50 L251.90,327.50 L252.40,327.50 L252.90,327.50 L253.40,327.50 L253.90,327.50 L254.40,327.50 L254.90,327.50 L255.40,327.50 L255.90,327.50 L256.40,327.50 L256.90,327.50 L257.40,327.50 L257.90,327.50 L258.40,327.50 L258.90,327.50 L259.40,327.50 L259.90,327.50 L260.40,327.50 L260.90,327.50 L261.40,327.50 L261.90,327.50 L262.40,327.50 L262.90,327.50 L263.40,327.50 L263.90,327.50 L264.40,327.50 L264.90,327.50 L265.40,327.50 L265.90,327.50 L266.40,327.50 L266.90,327.50 L267.40,327.50 L267.90,327.50 L268.40,327.50 L268.90,327.50 L269.40,327.50 L269.90,327.50 L270.40,327.50 L270.90,327.50 L271.40,327.50 L271.90,327.50 L272.40,327.50 L272.90,327.50 L273.40,327.50 L273.90,327.50 L274.40,327.50 L274.90,327.50 L275.40,327.50 L275.90,327.50 L276.40,327.50 L276.40,327.50 Z" fill="#cbcbcb"/>
<rect x="212" y="265" width="65.50" height="62.50" fill="none" stroke="#000" stroke-width="1.7"/>
<line x1="210.10" y1="327.50" x2="212" y2="327.50" stroke="#000" stroke-width="1.2"/>
<line x1="210.10" y1="315.50" x2="212" y2="315.50" stroke="#000" stroke-width="1.2"/>
<line x1="210.10" y1="303.50" x2="212" y2="303.50" stroke="#000" stroke-width="1.2"/>
<line x1="210.10" y1="291.50" x2="212" y2="291.50" stroke="#000" stroke-width="1.2"/>
<line x1="210.10" y1="279.50" x2="212" y2="279.50" stroke="#000" stroke-width="1.2"/>
<line x1="210.10" y1="267.50" x2="212" y2="267.50" stroke="#000" stroke-width="1.2"/>
<path d="M212.9,327.2 L213.4,327.2 L213.9,327.2 L214.4,327.2 L214.9,327.2 L215.4,327.2 L215.9,327.2 L216.4,327.2 L216.9,327.2 L217.4,327.2 L217.9,327.2 L218.4,327.2 L218.9,327.2 L219.4,327.2 L219.9,327.2 L220.4,327.2 L220.9,327.2 L221.4,327.2 L221.9,327.2 L222.4,327.2 L222.9,327.2 L223.4,327.2 L223.9,327.2 L224.4,327.2 L224.9,327.2 L225.4,327.2 L225.9,327.2 L226.4,327.2 L226.9,327.2 L227.4,327.2 L227.9,327.2 L228.4,327.2 L228.9,327.2 L229.4,327.2 L229.9,327.2 L230.4,327.2 L230.9,327.2 L231.4,327.2 L231.9,327.2 L232.4,327.2 L232.9,327.2 L233.4,327.2 L233.9,327.2 L234.4,327.2 L234.9,326.8 L235.4,326.3 L235.9,325.7 L236.4,324.9 L236.9,324.0 L237.4,323.0 L237.9,321.8 L238.4,320.3 L238.9,318.7 L239.4,316.8 L239.9,314.6 L240.4,312.1 L240.9,309.3 L241.4,306.2 L241.9,302.9 L242.4,298.9 L242.9,294.6 L243.4,290.6 L243.9,287.1 L244.4,283.7 L244.9,280.5 L245.4,277.5 L245.9,274.2 L246.4,270.8 L246.9,268.5 L247.4,268.2 L247.9,270.1 L248.4,273.2 L248.9,276.8 L249.4,280.7 L249.9,285.5 L250.4,290.6 L250.9,296.0 L251.4,301.4 L251.9,306.0 L252.4,310.0 L252.9,313.6 L253.4,316.8 L253.9,319.7 L254.4,322.4 L254.9,324.2 L255.4,325.7 L255.9,326.7 L256.4,327.1 L256.9,327.2 L257.4,327.2 L257.9,327.2 L258.4,327.2 L258.9,327.2 L259.4,327.2 L259.9,327.2 L260.4,327.2 L260.9,327.2 L261.4,327.2 L261.9,327.2 L262.4,327.2 L262.9,327.2 L263.4,327.2 L263.9,327.2 L264.4,327.2 L264.9,327.2 L265.4,327.2 L265.9,327.2 L266.4,327.2 L266.9,327.2 L267.4,327.2 L267.9,327.2 L268.4,327.2 L268.9,327.2 L269.4,327.2 L269.9,327.2 L270.4,327.2 L270.9,327.2 L271.4,327.2 L271.9,327.2 L272.4,327.2 L272.9,327.2 L273.4,327.2 L273.9,327.2 L274.4,327.2 L274.9,327.2 L275.4,327.2 L275.9,327.2 L276.4,327.2" fill="none" stroke="#e22f27" stroke-width="1.9" stroke-linejoin="round"/>
<path d="M212.9,327.2 L213.4,327.2 L213.9,327.2 L214.4,327.2 L214.9,327.2 L215.4,327.2 L215.9,327.2 L216.4,327.2 L216.9,327.2 L217.4,327.2 L217.9,327.2 L218.4,327.2 L218.9,327.2 L219.4,327.2 L219.9,327.2 L220.4,327.2 L220.9,327.2 L221.4,327.2 L221.9,327.2 L222.4,327.2 L222.9,327.2 L223.4,327.2 L223.9,327.2 L224.4,327.2 L224.9,327.2 L225.4,327.2 L225.9,327.2 L226.4,327.2 L226.9,327.2 L227.4,327.2 L227.9,327.2 L228.4,327.2 L228.9,327.2 L229.4,327.2 L229.9,327.2 L230.4,327.2 L230.9,327.2 L231.4,327.2 L231.9,327.2 L232.4,327.2 L232.9,327.2 L233.4,327.2 L233.9,327.2 L234.4,327.2 L234.9,326.8 L235.4,326.3 L235.9,325.7 L236.4,324.9 L236.9,324.0 L237.4,323.0 L237.9,321.8 L238.4,320.3 L238.9,318.7 L239.4,316.8 L239.9,314.6 L240.4,312.1 L240.9,309.3 L241.4,306.2 L241.9,302.9 L242.4,298.9 L242.9,294.6 L243.4,290.6 L243.9,287.1 L244.4,283.7 L244.9,280.5 L245.4,277.5 L245.9,274.2 L246.4,270.8 L246.9,268.5 L247.4,268.2 L247.9,270.1 L248.4,273.2 L248.9,276.8 L249.4,280.7 L249.9,285.5 L250.4,290.6 L250.9,296.0 L251.4,301.4 L251.9,306.0 L252.4,310.0 L252.9,313.6 L253.4,316.8 L253.9,319.7 L254.4,322.4 L254.9,324.2 L255.4,325.7 L255.9,326.7 L256.4,327.1 L256.9,327.2 L257.4,327.2 L257.9,327.2 L258.4,327.2 L258.9,327.2 L259.4,327.2 L259.9,327.2 L260.4,327.2 L260.9,327.2 L261.4,327.2 L261.9,327.2 L262.4,327.2 L262.9,327.2 L263.4,327.2 L263.9,327.2 L264.4,327.2 L264.9,327.2 L265.4,327.2 L265.9,327.2 L266.4,327.2 L266.9,327.2 L267.4,327.2 L267.9,327.2 L268.4,327.2 L268.9,327.2 L269.4,327.2 L269.9,327.2 L270.4,327.2 L270.9,327.2 L271.4,327.2 L271.9,327.2 L272.4,327.2 L272.9,327.2 L273.4,327.2 L273.9,327.2 L274.4,327.2 L274.9,327.2 L275.4,327.2 L275.9,327.2 L276.4,327.2" fill="none" stroke="#3c3f94" stroke-width="1.7" stroke-linejoin="round"/>
<path d="M286.90,327.50 L286.90,327.50 L287.40,327.50 L287.90,327.50 L288.40,327.50 L288.90,327.50 L289.40,327.31 L289.90,326.61 L290.40,325.59 L290.90,323.98 L291.40,320.92 L291.90,317.85 L292.40,315.83 L292.90,314.19 L293.40,312.67 L293.90,311.00 L294.40,309.02 L294.90,306.78 L295.40,304.25 L295.90,301.26 L296.40,297.75 L296.90,293.97 L297.40,290.16 L297.90,286.35 L298.40,282.35 L298.90,278.49 L299.40,275.07 L299.90,271.45 L300.40,268.59 L300.90,268.17 L301.40,269.79 L301.90,272.56 L302.40,275.74 L302.90,279.88 L303.40,285.18 L303.90,290.42 L304.40,295.47 L304.90,300.60 L305.40,305.86 L305.90,311.56 L306.40,316.58 L306.90,320.29 L307.40,323.27 L307.90,325.18 L308.40,326.61 L308.90,327.44 L309.40,327.50 L309.90,327.50 L310.40,327.50 L310.90,327.50 L311.40,327.50 L311.90,327.50 L312.40,327.50 L312.90,327.50 L313.40,327.50 L313.90,327.50 L314.40,327.50 L314.90,327.50 L315.40,327.50 L315.90,327.50 L316.40,327.50 L316.90,327.50 L317.40,327.50 L317.90,327.50 L318.40,327.50 L318.90,327.50 L319.40,327.50 L319.90,327.50 L320.40,327.50 L320.90,327.50 L321.40,327.50 L321.90,327.50 L322.40,327.50 L322.90,327.50 L323.40,327.50 L323.90,327.50 L324.40,327.50 L324.90,327.50 L325.40,327.50 L325.90,327.50 L326.40,327.50 L326.90,327.50 L327.40,327.50 L327.90,327.50 L328.40,327.50 L328.90,327.50 L329.40,327.50 L329.90,327.50 L330.40,327.50 L330.90,327.50 L331.40,327.50 L331.90,327.50 L332.40,327.50 L332.90,327.50 L333.40,327.50 L333.90,327.50 L334.40,327.50 L334.90,327.50 L335.40,327.50 L335.90,327.50 L336.40,327.50 L336.90,327.50 L337.40,327.50 L337.90,327.50 L338.40,327.50 L338.90,327.50 L339.40,327.50 L339.90,327.50 L340.40,327.50 L340.90,327.50 L341.40,327.50 L341.90,327.50 L342.40,327.50 L342.90,327.50 L343.40,327.50 L343.90,327.50 L344.40,327.50 L344.90,327.50 L345.40,327.50 L345.90,327.50 L346.40,327.50 L346.90,327.50 L347.40,327.50 L347.90,327.50 L348.40,327.50 L348.90,327.50 L349.40,327.50 L349.90,327.50 L350.40,327.50 L350.90,327.50 L350.90,327.50 Z" fill="#cbcbcb"/>
<rect x="286" y="265" width="66.00" height="62.50" fill="none" stroke="#000" stroke-width="1.7"/>
<line x1="284.10" y1="327.50" x2="286" y2="327.50" stroke="#000" stroke-width="1.2"/>
<line x1="284.10" y1="315.50" x2="286" y2="315.50" stroke="#000" stroke-width="1.2"/>
<line x1="284.10" y1="303.50" x2="286" y2="303.50" stroke="#000" stroke-width="1.2"/>
<line x1="284.10" y1="291.50" x2="286" y2="291.50" stroke="#000" stroke-width="1.2"/>
<line x1="284.10" y1="279.50" x2="286" y2="279.50" stroke="#000" stroke-width="1.2"/>
<line x1="284.10" y1="267.50" x2="286" y2="267.50" stroke="#000" stroke-width="1.2"/>
<path d="M286.9,327.2 L287.4,327.2 L287.9,327.2 L288.4,327.2 L288.9,327.2 L289.4,327.2 L289.9,327.2 L290.4,327.2 L290.9,327.2 L291.4,327.2 L291.9,327.2 L292.4,327.2 L292.9,327.2 L293.4,327.2 L293.9,327.2 L294.4,327.2 L294.9,327.2 L295.4,327.2 L295.9,327.2 L296.4,327.2 L296.9,327.2 L297.4,327.2 L297.9,327.2 L298.4,327.2 L298.9,327.2 L299.4,327.2 L299.9,327.2 L300.4,327.2 L300.9,327.2 L301.4,327.2 L301.9,327.2 L302.4,327.2 L302.9,327.2 L303.4,327.2 L303.9,327.2 L304.4,327.2 L304.9,327.2 L305.4,327.2 L305.9,327.2 L306.4,327.2 L306.9,327.2 L307.4,327.2 L307.9,327.2 L308.4,327.2 L308.9,327.2 L309.4,327.2 L309.9,327.2 L310.4,327.2 L310.9,327.2 L311.4,327.2 L311.9,327.2 L312.4,327.2 L312.9,327.2 L313.4,327.2 L313.9,327.2 L314.4,327.2 L314.9,326.9 L315.4,325.6 L315.9,323.9 L316.4,321.8 L316.9,318.9 L317.4,315.2 L317.9,311.1 L318.4,307.1 L318.9,302.8 L319.4,298.2 L319.9,293.6 L320.4,289.4 L320.9,285.4 L321.4,281.6 L321.9,278.0 L322.4,275.0 L322.9,272.6 L323.4,270.2 L323.9,268.5 L324.4,268.1 L324.9,270.1 L325.4,274.1 L325.9,278.7 L326.4,284.3 L326.9,291.2 L327.4,297.8 L327.9,304.4 L328.4,310.4 L328.9,314.7 L329.4,317.9 L329.9,320.6 L330.4,322.7 L330.9,324.7 L331.4,326.2 L331.9,327.0 L332.4,327.2 L332.9,327.2 L333.4,327.2 L333.9,327.2 L334.4,327.2 L334.9,327.2 L335.4,327.2 L335.9,327.2 L336.4,327.2 L336.9,327.2 L337.4,327.2 L337.9,327.2 L338.4,327.2 L338.9,327.2 L339.4,327.2 L339.9,327.2 L340.4,327.2 L340.9,327.2 L341.4,327.2 L341.9,327.2 L342.4,327.2 L342.9,327.2 L343.4,327.2 L343.9,327.2 L344.4,327.2 L344.9,327.2 L345.4,327.2 L345.9,327.2 L346.4,327.2 L346.9,327.2 L347.4,327.2 L347.9,327.2 L348.4,327.2 L348.9,327.2 L349.4,327.2 L349.9,327.2 L350.4,327.2 L350.9,327.2" fill="none" stroke="#3c3f94" stroke-width="1.7" stroke-linejoin="round"/>
<path d="M286.3,327.2 L286.3,266.2 L286.9,327.2 L287.4,325.2 L287.9,325.4 L288.4,325.5 L288.9,325.6 L289.4,325.7 L289.9,325.7 L290.4,325.7 L290.9,325.7 L291.4,325.6 L291.9,325.6 L292.4,325.5 L292.9,325.5 L293.4,325.4 L293.9,325.4 L294.4,325.4 L294.9,325.5 L295.4,325.6 L295.9,325.7 L296.4,325.9 L296.9,326.0 L297.4,326.2 L297.9,326.3 L298.4,326.4 L298.9,326.5 L299.4,326.7 L299.9,326.8 L300.4,326.9 L300.9,327.0 L301.4,327.1 L301.9,327.2 L302.4,327.2 L302.9,327.2 L303.4,327.2 L303.9,327.2 L304.4,327.2 L304.9,327.2 L305.4,327.2 L305.9,327.2 L306.4,327.2 L306.9,327.2 L307.4,327.2 L307.9,327.2 L308.4,327.2 L308.9,327.2 L309.4,327.2 L309.9,327.2 L310.4,327.2 L310.9,327.2 L311.4,327.2 L311.9,327.2 L312.4,327.2 L312.9,327.2 L313.4,327.2 L313.9,327.2 L314.4,327.2 L314.9,327.2 L315.4,327.2 L315.9,327.2 L316.4,327.2 L316.9,327.2 L317.4,327.0 L317.9,325.9 L318.4,324.5 L318.9,322.5 L319.4,319.8 L319.9,315.8 L320.4,310.8 L320.9,305.7 L321.4,300.7 L321.9,295.4 L322.4,290.0 L322.9,285.3 L323.4,281.4 L323.9,278.0 L324.4,275.0 L324.9,272.6 L325.4,271.0 L325.9,269.6 L326.4,268.5 L326.9,268.0 L327.4,269.3 L327.9,273.8 L328.4,279.5 L328.9,285.1 L329.4,291.6 L329.9,298.3 L330.4,304.4 L330.9,310.4 L331.4,315.4 L331.9,319.0 L332.4,321.9 L332.9,323.9 L333.4,325.4 L333.9,326.5 L334.4,327.1 L334.9,327.2 L335.4,327.2 L335.9,327.2 L336.4,327.2 L336.9,327.2 L337.4,327.2 L337.9,327.2 L338.4,327.2 L338.9,327.2 L339.4,327.2 L339.9,327.2 L340.4,327.2 L340.9,327.2 L341.4,327.2 L341.9,327.2 L342.4,327.2 L342.9,327.2 L343.4,327.2 L343.9,327.2 L344.4,327.2 L344.9,327.2 L345.4,327.2 L345.9,327.2 L346.4,327.2 L346.9,327.2 L347.4,327.2 L347.9,327.2 L348.4,327.2 L348.9,327.2 L349.4,327.2 L349.9,327.2 L350.4,327.2 L350.9,327.2" fill="none" stroke="#e22f27" stroke-width="1.9" stroke-linejoin="round"/>
<path d="M374.90,327.50 L374.90,323.65 L375.40,322.50 L375.90,321.28 L376.40,319.98 L376.90,318.61 L377.40,317.19 L377.90,315.72 L378.40,314.18 L378.90,312.58 L379.40,310.89 L379.90,309.12 L380.40,307.26 L380.90,305.30 L381.40,303.14 L381.90,300.70 L382.40,298.07 L382.90,295.36 L383.40,292.67 L383.90,290.11 L384.40,287.61 L384.90,285.11 L385.40,282.64 L385.90,280.19 L386.40,277.77 L386.90,275.29 L387.40,272.29 L387.90,269.52 L388.40,268.05 L388.90,268.50 L389.40,270.30 L389.90,273.04 L390.40,276.33 L390.90,281.64 L391.40,289.08 L391.90,297.98 L392.40,306.15 L392.90,311.84 L393.40,316.41 L393.90,319.74 L394.40,322.28 L394.90,324.24 L395.40,325.62 L395.90,326.71 L396.40,327.42 L396.90,327.50 L397.40,327.50 L397.90,327.50 L398.40,327.50 L398.90,327.50 L399.40,327.50 L399.90,327.50 L400.40,327.50 L400.90,327.50 L401.40,327.50 L401.90,327.50 L402.40,327.50 L402.90,327.50 L403.40,327.50 L403.90,327.50 L404.40,327.50 L404.90,327.50 L405.40,327.50 L405.90,327.50 L406.40,327.50 L406.90,327.50 L407.40,327.50 L407.90,327.50 L408.40,327.50 L408.90,327.50 L409.40,327.50 L409.90,327.50 L410.40,327.50 L410.90,327.50 L411.40,327.50 L411.90,327.50 L412.40,327.50 L412.90,327.50 L413.40,327.50 L413.90,327.50 L414.40,327.50 L414.90,327.50 L415.40,327.50 L415.90,327.50 L416.40,327.50 L416.90,327.50 L417.40,327.50 L417.90,327.50 L418.40,327.50 L418.90,327.50 L419.40,327.50 L419.90,327.50 L420.40,327.50 L420.90,327.50 L421.40,327.50 L421.90,327.50 L422.40,327.50 L422.90,327.50 L423.40,327.50 L423.90,327.50 L424.40,327.50 L424.90,327.50 L425.40,327.50 L425.90,327.50 L426.40,327.50 L426.90,327.50 L427.40,327.50 L427.90,327.50 L428.40,327.50 L428.90,327.50 L429.40,327.50 L429.90,327.50 L430.40,327.50 L430.90,327.50 L431.40,327.50 L431.90,327.50 L432.40,327.50 L432.90,327.50 L433.40,327.50 L433.90,327.50 L434.40,327.50 L434.90,327.50 L435.40,327.50 L435.90,327.50 L436.40,327.50 L436.90,327.50 L437.40,327.50 L437.90,327.50 L437.90,327.50 Z" fill="#cbcbcb"/>
<rect x="374" y="265" width="65.00" height="62.50" fill="none" stroke="#000" stroke-width="1.7"/>
<line x1="372.10" y1="327.50" x2="374" y2="327.50" stroke="#000" stroke-width="1.2"/>
<line x1="372.10" y1="315.50" x2="374" y2="315.50" stroke="#000" stroke-width="1.2"/>
<line x1="372.10" y1="303.50" x2="374" y2="303.50" stroke="#000" stroke-width="1.2"/>
<line x1="372.10" y1="291.50" x2="374" y2="291.50" stroke="#000" stroke-width="1.2"/>
<line x1="372.10" y1="279.50" x2="374" y2="279.50" stroke="#000" stroke-width="1.2"/>
<line x1="372.10" y1="267.50" x2="374" y2="267.50" stroke="#000" stroke-width="1.2"/>
<path d="M374.9,327.2 L375.4,327.2 L375.9,327.2 L376.4,327.2 L376.9,327.2 L377.4,327.2 L377.9,327.2 L378.4,327.2 L378.9,327.2 L379.4,327.2 L379.9,327.2 L380.4,327.2 L380.9,327.2 L381.4,327.2 L381.9,327.2 L382.4,327.2 L382.9,327.2 L383.4,327.2 L383.9,327.2 L384.4,327.2 L384.9,327.2 L385.4,327.2 L385.9,327.2 L386.4,327.2 L386.9,327.2 L387.4,327.2 L387.9,327.2 L388.4,327.2 L388.9,327.2 L389.4,327.2 L389.9,327.2 L390.4,327.2 L390.9,327.2 L391.4,327.2 L391.9,327.2 L392.4,327.2 L392.9,327.2 L393.4,327.2 L393.9,327.2 L394.4,327.2 L394.9,327.2 L395.4,327.2 L395.9,327.2 L396.4,327.2 L396.9,326.5 L397.4,325.4 L397.9,323.5 L398.4,320.4 L398.9,317.4 L399.4,314.4 L399.9,311.4 L400.4,308.2 L400.9,304.9 L401.4,301.4 L401.9,297.8 L402.4,294.1 L402.9,290.6 L403.4,287.0 L403.9,283.4 L404.4,280.0 L404.9,277.2 L405.4,275.2 L405.9,273.2 L406.4,271.5 L406.9,269.9 L407.4,268.8 L407.9,268.1 L408.4,268.1 L408.9,269.1 L409.4,271.0 L409.9,273.3 L410.4,275.8 L410.9,278.5 L411.4,281.9 L411.9,285.7 L412.4,289.8 L412.9,294.3 L413.4,299.4 L413.9,304.1 L414.4,307.8 L414.9,311.3 L415.4,314.4 L415.9,317.2 L416.4,319.6 L416.9,322.0 L417.4,324.0 L417.9,325.3 L418.4,326.4 L418.9,327.2 L419.4,327.2 L419.9,327.2 L420.4,327.2 L420.9,327.2 L421.4,327.2 L421.9,327.2 L422.4,327.2 L422.9,327.2 L423.4,327.2 L423.9,327.2 L424.4,327.2 L424.9,327.2 L425.4,327.2 L425.9,327.2 L426.4,327.2 L426.9,327.2 L427.4,327.2 L427.9,327.2 L428.4,327.2 L428.9,327.2 L429.4,327.2 L429.9,327.2 L430.4,327.2 L430.9,327.2 L431.4,327.2 L431.9,327.2 L432.4,327.2 L432.9,327.2 L433.4,327.2 L433.9,327.2 L434.4,327.2 L434.9,327.2 L435.4,327.2 L435.9,327.2 L436.4,327.2 L436.9,327.2 L437.4,327.2 L437.9,327.2" fill="none" stroke="#3c3f94" stroke-width="1.7" stroke-linejoin="round"/>
<path d="M374.9,327.2 L375.4,327.2 L375.9,327.2 L376.4,327.2 L376.9,327.2 L377.4,327.2 L377.9,327.2 L378.4,327.2 L378.9,327.2 L379.4,327.2 L379.9,327.2 L380.4,327.2 L380.9,327.2 L381.4,327.2 L381.9,327.2 L382.4,327.2 L382.9,327.2 L383.4,327.2 L383.9,327.2 L384.4,327.2 L384.9,327.2 L385.4,327.2 L385.9,327.2 L386.4,327.2 L386.9,327.2 L387.4,327.2 L387.9,327.2 L388.4,327.2 L388.9,327.2 L389.4,327.2 L389.9,327.2 L390.4,327.2 L390.9,327.2 L391.4,327.2 L391.9,327.2 L392.4,327.2 L392.9,327.2 L393.4,327.2 L393.9,327.2 L394.4,327.2 L394.9,327.2 L395.4,327.2 L395.9,327.2 L396.4,327.2 L396.9,326.5 L397.4,325.4 L397.9,323.5 L398.4,320.4 L398.9,317.4 L399.4,314.4 L399.9,311.4 L400.4,308.2 L400.9,304.9 L401.4,301.4 L401.9,297.8 L402.4,294.1 L402.9,290.6 L403.4,287.1 L403.9,283.4 L404.4,280.0 L404.9,277.2 L405.4,275.1 L405.9,273.1 L406.4,271.2 L406.9,269.6 L407.4,268.5 L407.9,268.0 L408.4,268.4 L408.9,269.8 L409.4,271.9 L409.9,274.3 L410.4,276.8 L410.9,279.8 L411.4,283.3 L411.9,287.3 L412.4,291.5 L412.9,296.7 L413.4,302.2 L413.9,306.4 L414.4,310.0 L414.9,313.2 L415.4,316.1 L415.9,318.7 L416.4,321.1 L416.9,323.2 L417.4,324.9 L417.9,326.0 L418.4,326.9 L418.9,327.2 L419.4,327.2 L419.9,327.2 L420.4,327.2 L420.9,327.2 L421.4,327.2 L421.9,327.2 L422.4,327.2 L422.9,327.2 L423.4,327.2 L423.9,327.2 L424.4,327.2 L424.9,327.2 L425.4,327.2 L425.9,327.2 L426.4,327.2 L426.9,327.2 L427.4,327.2 L427.9,327.2 L428.4,327.2 L428.9,327.2 L429.4,327.2 L429.9,327.2 L430.4,327.2 L430.9,327.2 L431.4,327.2 L431.9,327.2 L432.4,327.2 L432.9,327.2 L433.4,327.2 L433.9,327.2 L434.4,327.2 L434.9,327.2 L435.4,327.2 L435.9,327.2 L436.4,327.2 L436.9,327.2 L437.4,327.2 L437.9,327.2" fill="none" stroke="#e22f27" stroke-width="1.9" stroke-linejoin="round"/>
<path d="M451.40,327.50 L451.40,325.02 L451.90,324.38 L452.40,323.28 L452.90,321.87 L453.40,320.57 L453.90,319.67 L454.40,318.96 L454.90,318.20 L455.40,317.13 L455.90,315.46 L456.40,313.25 L456.90,310.63 L457.40,307.78 L457.90,304.86 L458.40,301.90 L458.90,298.59 L459.40,295.07 L459.90,291.50 L460.40,288.02 L460.90,284.31 L461.40,280.62 L461.90,277.35 L462.40,274.75 L462.90,272.24 L463.40,269.99 L463.90,268.44 L464.40,268.07 L464.90,270.01 L465.40,273.51 L465.90,277.19 L466.40,281.41 L466.90,286.81 L467.40,295.23 L467.90,305.24 L468.40,312.01 L468.90,317.38 L469.40,322.01 L469.90,325.12 L470.40,326.66 L470.90,327.47 L471.40,327.50 L471.90,327.50 L472.40,327.50 L472.90,327.50 L473.40,327.50 L473.90,327.50 L474.40,327.50 L474.90,327.50 L475.40,327.50 L475.90,327.50 L476.40,327.50 L476.90,327.50 L477.40,327.50 L477.90,327.50 L478.40,327.50 L478.90,327.50 L479.40,327.50 L479.90,327.50 L480.40,327.50 L480.90,327.50 L481.40,327.50 L481.90,327.50 L482.40,327.50 L482.90,327.50 L483.40,327.50 L483.90,327.50 L484.40,327.50 L484.90,327.50 L485.40,327.50 L485.90,327.50 L486.40,327.50 L486.90,327.50 L487.40,327.50 L487.90,327.50 L488.40,327.50 L488.90,327.50 L489.40,327.50 L489.90,327.50 L490.40,327.50 L490.90,327.50 L491.40,327.50 L491.90,327.50 L492.40,327.50 L492.90,327.50 L493.40,327.50 L493.90,327.50 L494.40,327.50 L494.90,327.50 L495.40,327.50 L495.90,327.50 L496.40,327.50 L496.90,327.50 L497.40,327.50 L497.90,327.50 L498.40,327.50 L498.90,327.50 L499.40,327.50 L499.90,327.50 L500.40,327.50 L500.90,327.50 L501.40,327.50 L501.90,327.50 L502.40,327.50 L502.90,327.50 L503.40,327.50 L503.90,327.50 L504.40,327.50 L504.90,327.50 L505.40,327.50 L505.90,327.50 L506.40,327.50 L506.90,327.50 L507.40,327.50 L507.90,327.50 L508.40,327.50 L508.90,327.50 L509.40,327.50 L509.90,327.50 L510.40,327.50 L510.90,327.50 L511.40,327.50 L511.90,327.50 L512.40,327.50 L512.90,327.50 L513.40,327.50 L513.40,327.50 Z" fill="#cbcbcb"/>
<rect x="450.5" y="265" width="64.00" height="62.50" fill="none" stroke="#000" stroke-width="1.7"/>
<line x1="448.60" y1="327.50" x2="450.5" y2="327.50" stroke="#000" stroke-width="1.2"/>
<line x1="448.60" y1="315.50" x2="450.5" y2="315.50" stroke="#000" stroke-width="1.2"/>
<line x1="448.60" y1="303.50" x2="450.5" y2="303.50" stroke="#000" stroke-width="1.2"/>
<line x1="448.60" y1="291.50" x2="450.5" y2="291.50" stroke="#000" stroke-width="1.2"/>
<line x1="448.60" y1="279.50" x2="450.5" y2="279.50" stroke="#000" stroke-width="1.2"/>
<line x1="448.60" y1="267.50" x2="450.5" y2="267.50" stroke="#000" stroke-width="1.2"/>
<path d="M451.4,327.2 L451.9,327.2 L452.4,327.2 L452.9,327.2 L453.4,327.2 L453.9,327.2 L454.4,327.2 L454.9,327.2 L455.4,327.2 L455.9,327.2 L456.4,327.2 L456.9,327.2 L457.4,327.2 L457.9,327.2 L458.4,327.2 L458.9,327.2 L459.4,327.2 L459.9,327.2 L460.4,327.2 L460.9,327.2 L461.4,327.2 L461.9,327.2 L462.4,327.2 L462.9,327.2 L463.4,327.2 L463.9,327.2 L464.4,327.2 L464.9,327.2 L465.4,327.2 L465.9,327.2 L466.4,327.2 L466.9,327.2 L467.4,327.2 L467.9,327.2 L468.4,327.2 L468.9,327.2 L469.4,327.2 L469.9,327.2 L470.4,327.2 L470.9,327.2 L471.4,327.2 L471.9,327.2 L472.4,327.1 L472.9,326.8 L473.4,326.0 L473.9,324.6 L474.4,322.7 L474.9,320.6 L475.4,318.3 L475.9,315.9 L476.4,313.0 L476.9,309.6 L477.4,306.0 L477.9,302.1 L478.4,297.6 L478.9,292.9 L479.4,288.6 L479.9,284.3 L480.4,280.2 L480.9,276.8 L481.4,274.3 L481.9,272.1 L482.4,270.1 L482.9,268.7 L483.4,268.0 L483.9,268.4 L484.4,269.7 L484.9,271.7 L485.4,274.1 L485.9,277.0 L486.4,281.8 L486.9,287.3 L487.4,292.5 L487.9,297.7 L488.4,302.8 L488.9,307.5 L489.4,312.0 L489.9,316.0 L490.4,319.3 L490.9,322.1 L491.4,324.2 L491.9,325.5 L492.4,326.4 L492.9,326.9 L493.4,327.2 L493.9,327.2 L494.4,327.2 L494.9,327.2 L495.4,327.2 L495.9,327.2 L496.4,327.2 L496.9,327.2 L497.4,327.2 L497.9,327.2 L498.4,327.2 L498.9,327.2 L499.4,327.2 L499.9,327.2 L500.4,327.2 L500.9,327.2 L501.4,327.2 L501.9,327.2 L502.4,327.2 L502.9,327.2 L503.4,327.2 L503.9,327.2 L504.4,327.2 L504.9,327.2 L505.4,327.2 L505.9,327.2 L506.4,327.2 L506.9,327.2 L507.4,327.2 L507.9,327.2 L508.4,327.2 L508.9,327.2 L509.4,327.2 L509.9,327.2 L510.4,327.2 L510.9,327.2 L511.4,327.2 L511.9,327.2 L512.4,327.2 L512.9,327.2 L513.4,327.2" fill="none" stroke="#3c3f94" stroke-width="1.7" stroke-linejoin="round"/>
<path d="M451.4,326.3 L451.9,326.2 L452.4,326.1 L452.9,326.1 L453.4,326.1 L453.9,326.0 L454.4,326.0 L454.9,326.0 L455.4,326.0 L455.9,326.0 L456.4,326.0 L456.9,326.1 L457.4,326.1 L457.9,326.1 L458.4,326.2 L458.9,326.2 L459.4,326.3 L459.9,326.3 L460.4,326.3 L460.9,326.4 L461.4,326.4 L461.9,326.5 L462.4,326.6 L462.9,326.6 L463.4,326.7 L463.9,326.8 L464.4,326.8 L464.9,326.9 L465.4,327.0 L465.9,327.0 L466.4,327.1 L466.9,327.1 L467.4,327.2 L467.9,327.2 L468.4,327.2 L468.9,327.2 L469.4,327.2 L469.9,327.2 L470.4,327.2 L470.9,327.2 L471.4,327.2 L471.9,327.2 L472.4,327.0 L472.9,326.6 L473.4,325.5 L473.9,323.9 L474.4,321.9 L474.9,319.7 L475.4,317.4 L475.9,314.8 L476.4,311.7 L476.9,308.2 L477.4,304.5 L477.9,300.4 L478.4,295.7 L478.9,291.1 L479.4,286.9 L479.9,282.6 L480.4,278.7 L480.9,275.7 L481.4,273.4 L481.9,271.3 L482.4,269.5 L482.9,268.3 L483.4,268.0 L483.9,268.8 L484.4,270.4 L484.9,272.6 L485.4,275.2 L485.9,278.7 L486.4,284.0 L486.9,289.4 L487.4,294.6 L487.9,299.8 L488.4,304.6 L488.9,309.3 L489.4,313.7 L489.9,317.4 L490.4,320.5 L490.9,323.1 L491.4,324.8 L491.9,325.9 L492.4,326.6 L492.9,327.0 L493.4,327.2 L493.9,327.2 L494.4,327.2 L494.9,327.2 L495.4,327.2 L495.9,327.2 L496.4,327.2 L496.9,327.2 L497.4,327.2 L497.9,327.2 L498.4,327.2 L498.9,327.2 L499.4,327.2 L499.9,327.2 L500.4,327.2 L500.9,327.2 L501.4,327.2 L501.9,327.2 L502.4,327.2 L502.9,327.2 L503.4,327.2 L503.9,327.2 L504.4,327.2 L504.9,327.2 L505.4,327.2 L505.9,327.2 L506.4,327.2 L506.9,327.2 L507.4,327.2 L507.9,327.2 L508.4,327.2 L508.9,327.2 L509.4,327.2 L509.9,327.2 L510.4,327.2 L510.9,327.2 L511.4,327.2 L511.9,327.2 L512.4,327.2 L512.9,327.2 L513.4,327.2" fill="none" stroke="#e22f27" stroke-width="1.9" stroke-linejoin="round"/>
<path d="M46.40,481.00 L46.40,481.00 L46.90,481.00 L47.40,481.00 L47.90,481.00 L48.40,481.00 L48.90,481.00 L49.40,481.00 L49.90,481.00 L50.40,481.00 L50.90,481.00 L51.40,481.00 L51.90,481.00 L52.40,481.00 L52.90,480.99 L53.40,480.96 L53.90,480.80 L54.40,480.14 L54.90,477.58 L55.40,469.26 L55.90,447.95 L56.40,424.48 L56.90,432.81 L57.40,442.01 L57.90,450.45 L58.40,457.63 L58.90,463.48 L59.40,468.09 L59.90,471.63 L60.40,474.30 L60.90,476.26 L61.40,477.69 L61.90,478.71 L62.40,479.43 L62.90,479.94 L63.40,480.29 L63.90,480.52 L64.40,480.69 L64.90,480.79 L65.40,480.87 L65.90,480.91 L66.40,480.94 L66.90,480.96 L67.40,480.98 L67.90,480.99 L68.40,480.99 L68.90,480.99 L69.40,481.00 L69.90,481.00 L70.40,481.00 L70.90,481.00 L71.40,481.00 L71.90,481.00 L72.40,481.00 L72.90,481.00 L73.40,481.00 L73.90,481.00 L74.40,481.00 L74.90,481.00 L75.40,481.00 L75.90,481.00 L76.40,481.00 L76.90,481.00 L77.40,481.00 L77.90,481.00 L78.40,481.00 L78.90,481.00 L79.40,481.00 L79.90,481.00 L80.40,481.00 L80.90,481.00 L81.40,481.00 L81.90,481.00 L82.40,481.00 L82.90,481.00 L83.40,481.00 L83.90,481.00 L84.40,481.00 L84.90,481.00 L85.40,481.00 L85.90,481.00 L86.40,481.00 L86.90,481.00 L87.40,481.00 L87.90,481.00 L88.40,481.00 L88.90,481.00 L89.40,481.00 L89.90,481.00 L90.40,481.00 L90.90,481.00 L91.40,481.00 L91.90,481.00 L92.40,481.00 L92.90,481.00 L93.40,481.00 L93.90,481.00 L94.40,481.00 L94.90,481.00 L95.40,481.00 L95.90,481.00 L96.40,481.00 L96.90,481.00 L97.40,481.00 L97.90,481.00 L98.40,481.00 L98.90,481.00 L99.40,481.00 L99.90,481.00 L100.40,481.00 L100.90,481.00 L101.40,481.00 L101.90,481.00 L102.40,481.00 L102.90,481.00 L103.40,481.00 L103.90,481.00 L104.40,481.00 L104.90,481.00 L105.40,481.00 L105.90,481.00 L106.40,481.00 L106.90,481.00 L107.40,481.00 L107.90,481.00 L108.40,481.00 L108.90,481.00 L108.90,481.00 Z" fill="#cbcbcb"/>
<rect x="45.5" y="420.5" width="64.50" height="60.50" fill="none" stroke="#000" stroke-width="1.7"/>
<line x1="43.60" y1="481.00" x2="45.5" y2="481.00" stroke="#000" stroke-width="1.2"/>
<line x1="43.60" y1="469.22" x2="45.5" y2="469.22" stroke="#000" stroke-width="1.2"/>
<line x1="43.60" y1="457.44" x2="45.5" y2="457.44" stroke="#000" stroke-width="1.2"/>
<line x1="43.60" y1="445.66" x2="45.5" y2="445.66" stroke="#000" stroke-width="1.2"/>
<line x1="43.60" y1="433.88" x2="45.5" y2="433.88" stroke="#000" stroke-width="1.2"/>
<line x1="43.60" y1="422.10" x2="45.5" y2="422.10" stroke="#000" stroke-width="1.2"/>
<path d="M46.4,480.7 L46.9,480.7 L47.4,480.7 L47.9,480.7 L48.4,480.7 L48.9,480.7 L49.4,480.7 L49.9,480.7 L50.4,480.7 L50.9,480.7 L51.4,480.7 L51.9,480.7 L52.4,480.7 L52.9,480.7 L53.4,480.7 L53.9,480.7 L54.4,480.7 L54.9,480.7 L55.4,480.7 L55.9,480.7 L56.4,480.7 L56.9,480.7 L57.4,480.7 L57.9,480.7 L58.4,480.7 L58.9,480.7 L59.4,480.7 L59.9,480.7 L60.4,480.7 L60.9,480.7 L61.4,480.7 L61.9,480.7 L62.4,480.7 L62.9,480.7 L63.4,480.7 L63.9,480.7 L64.4,480.7 L64.9,480.7 L65.4,480.7 L65.9,480.7 L66.4,480.7 L66.9,480.7 L67.4,480.7 L67.9,480.7 L68.4,480.7 L68.9,480.7 L69.4,480.7 L69.9,480.7 L70.4,480.7 L70.9,480.7 L71.4,480.7 L71.9,480.7 L72.4,480.7 L72.9,480.7 L73.4,480.7 L73.9,480.7 L74.4,480.7 L74.9,480.7 L75.4,480.7 L75.9,480.7 L76.4,480.7 L76.9,480.7 L77.4,480.7 L77.9,480.7 L78.4,480.7 L78.9,480.7 L79.4,480.7 L79.9,480.7 L80.4,480.7 L80.9,480.7 L81.4,480.4 L81.9,480.1 L82.4,479.6 L82.9,478.9 L83.4,477.8 L83.9,476.3 L84.4,474.2 L84.9,471.3 L85.4,467.5 L85.9,462.6 L86.4,456.6 L86.9,449.6 L87.4,441.8 L87.9,433.8 L88.4,426.8 L88.9,424.0 L89.4,430.5 L89.9,439.4 L90.4,448.4 L90.9,456.5 L91.4,463.2 L91.9,468.5 L92.4,472.5 L92.9,475.4 L93.4,477.4 L93.9,478.7 L94.4,479.6 L94.9,480.2 L95.4,480.5 L95.9,480.7 L96.4,480.7 L96.9,480.7 L97.4,480.7 L97.9,480.7 L98.4,480.7 L98.9,480.7 L99.4,480.7 L99.9,480.7 L100.4,480.7 L100.9,480.7 L101.4,480.7 L101.9,480.7 L102.4,480.7 L102.9,480.7 L103.4,480.7 L103.9,480.7 L104.4,480.7 L104.9,480.7 L105.4,480.7 L105.9,480.7 L106.4,480.7 L106.9,480.7 L107.4,480.7 L107.9,480.7 L108.4,480.7 L108.9,480.7" fill="none" stroke="#3c3f94" stroke-width="1.7" stroke-linejoin="round"/>
<path d="M46.4,480.7 L46.9,480.7 L47.4,480.7 L47.9,480.7 L48.4,480.7 L48.9,480.7 L49.4,480.7 L49.9,480.7 L50.4,480.7 L50.9,480.7 L51.4,480.7 L51.9,480.7 L52.4,480.7 L52.9,480.7 L53.4,480.7 L53.9,480.7 L54.4,480.7 L54.9,480.7 L55.4,480.7 L55.9,480.7 L56.4,480.7 L56.9,480.7 L57.4,480.7 L57.9,480.7 L58.4,480.7 L58.9,480.7 L59.4,480.7 L59.9,480.7 L60.4,480.7 L60.9,480.7 L61.4,480.7 L61.9,480.7 L62.4,480.7 L62.9,480.7 L63.4,480.7 L63.9,480.7 L64.4,480.7 L64.9,480.7 L65.4,480.7 L65.9,480.7 L66.4,480.7 L66.9,480.7 L67.4,480.7 L67.9,480.7 L68.4,480.7 L68.9,480.7 L69.4,480.7 L69.9,480.7 L70.4,480.7 L70.9,480.7 L71.4,480.7 L71.9,480.7 L72.4,480.7 L72.9,480.7 L73.4,480.7 L73.9,480.7 L74.4,480.7 L74.9,480.7 L75.4,480.7 L75.9,480.7 L76.4,480.7 L76.9,480.7 L77.4,480.7 L77.9,480.7 L78.4,480.7 L78.9,480.6 L79.4,480.3 L79.9,480.0 L80.4,479.6 L80.9,478.9 L81.4,478.0 L81.9,476.8 L82.4,475.1 L82.9,472.9 L83.4,470.1 L83.9,466.6 L84.4,462.2 L84.9,457.0 L85.4,451.0 L85.9,444.4 L86.4,437.4 L86.9,430.7 L87.4,425.2 L87.9,424.2 L88.4,428.2 L88.9,427.6 L89.4,423.8 L89.9,426.4 L90.4,432.6 L90.9,439.9 L91.4,447.2 L91.9,453.9 L92.4,459.8 L92.9,464.8 L93.4,468.9 L93.9,472.1 L94.4,474.6 L94.9,476.5 L95.4,477.8 L95.9,478.8 L96.4,479.5 L96.9,480.0 L97.4,480.3 L97.9,480.5 L98.4,480.6 L98.9,480.7 L99.4,480.7 L99.9,480.7 L100.4,480.7 L100.9,480.7 L101.4,480.7 L101.9,480.7 L102.4,480.7 L102.9,480.7 L103.4,480.7 L103.9,480.7 L104.4,480.7 L104.9,480.7 L105.4,480.7 L105.9,480.7 L106.4,480.7 L106.9,480.7 L107.4,480.7 L107.9,480.7 L108.4,480.7 L108.9,480.7" fill="none" stroke="#e22f27" stroke-width="1.9" stroke-linejoin="round"/>
<path d="M121.90,481.00 L121.90,481.00 L122.40,481.00 L122.90,481.00 L123.40,481.00 L123.90,481.00 L124.40,481.00 L124.90,481.00 L125.40,481.00 L125.90,481.00 L126.40,481.00 L126.90,481.00 L127.40,481.00 L127.90,481.00 L128.40,480.99 L128.90,480.97 L129.40,480.87 L129.90,480.47 L130.40,479.10 L130.90,474.85 L131.40,463.48 L131.90,439.75 L132.40,426.38 L132.90,436.76 L133.40,447.09 L133.90,455.94 L134.40,463.00 L134.90,468.37 L135.40,472.31 L135.90,475.13 L136.40,477.10 L136.90,478.45 L137.40,479.35 L137.90,479.95 L138.40,480.34 L138.90,480.59 L139.40,480.75 L139.90,480.85 L140.40,480.91 L140.90,480.94 L141.40,480.97 L141.90,480.98 L142.40,480.99 L142.90,480.99 L143.40,481.00 L143.90,481.00 L144.40,481.00 L144.90,481.00 L145.40,481.00 L145.90,481.00 L146.40,481.00 L146.90,481.00 L147.40,481.00 L147.90,481.00 L148.40,481.00 L148.90,481.00 L149.40,481.00 L149.90,481.00 L150.40,481.00 L150.90,481.00 L151.40,481.00 L151.90,481.00 L152.40,481.00 L152.90,481.00 L153.40,481.00 L153.90,481.00 L154.40,481.00 L154.90,481.00 L155.40,481.00 L155.90,481.00 L156.40,481.00 L156.90,481.00 L157.40,481.00 L157.90,481.00 L158.40,481.00 L158.90,481.00 L159.40,481.00 L159.90,481.00 L160.40,481.00 L160.90,481.00 L161.40,481.00 L161.90,481.00 L162.40,481.00 L162.90,481.00 L163.40,481.00 L163.90,481.00 L164.40,481.00 L164.90,481.00 L165.40,481.00 L165.90,481.00 L166.40,481.00 L166.90,481.00 L167.40,481.00 L167.90,481.00 L168.40,481.00 L168.90,481.00 L169.40,481.00 L169.90,481.00 L170.40,481.00 L170.90,481.00 L171.40,481.00 L171.90,481.00 L172.40,481.00 L172.90,481.00 L173.40,481.00 L173.90,481.00 L174.40,481.00 L174.90,481.00 L175.40,481.00 L175.90,481.00 L176.40,481.00 L176.90,481.00 L177.40,481.00 L177.90,481.00 L178.40,481.00 L178.90,481.00 L179.40,481.00 L179.90,481.00 L180.40,481.00 L180.90,481.00 L181.40,481.00 L181.90,481.00 L182.40,481.00 L182.90,481.00 L182.90,481.00 Z" fill="#cbcbcb"/>
<rect x="121" y="420.5" width="63.00" height="60.50" fill="none" stroke="#000" stroke-width="1.7"/>
<line x1="119.10" y1="481.00" x2="121" y2="481.00" stroke="#000" stroke-width="1.2"/>
<line x1="119.10" y1="469.22" x2="121" y2="469.22" stroke="#000" stroke-width="1.2"/>
<line x1="119.10" y1="457.44" x2="121" y2="457.44" stroke="#000" stroke-width="1.2"/>
<line x1="119.10" y1="445.66" x2="121" y2="445.66" stroke="#000" stroke-width="1.2"/>
<line x1="119.10" y1="433.88" x2="121" y2="433.88" stroke="#000" stroke-width="1.2"/>
<line x1="119.10" y1="422.10" x2="121" y2="422.10" stroke="#000" stroke-width="1.2"/>
<path d="M121.9,480.7 L122.4,480.7 L122.9,480.7 L123.4,480.7 L123.9,480.7 L124.4,480.7 L124.9,480.7 L125.4,480.7 L125.9,480.7 L126.4,480.7 L126.9,480.7 L127.4,480.7 L127.9,480.7 L128.4,480.7 L128.9,480.7 L129.4,480.7 L129.9,480.7 L130.4,480.7 L130.9,480.7 L131.4,480.7 L131.9,480.7 L132.4,480.7 L132.9,480.7 L133.4,480.7 L133.9,480.7 L134.4,480.7 L134.9,480.7 L135.4,480.7 L135.9,480.7 L136.4,480.7 L136.9,480.7 L137.4,480.7 L137.9,480.7 L138.4,480.7 L138.9,480.7 L139.4,480.7 L139.9,480.7 L140.4,480.7 L140.9,480.7 L141.4,480.7 L141.9,480.7 L142.4,480.7 L142.9,480.7 L143.4,480.7 L143.9,480.7 L144.4,480.7 L144.9,480.7 L145.4,480.7 L145.9,480.7 L146.4,480.7 L146.9,480.7 L147.4,480.7 L147.9,480.7 L148.4,480.7 L148.9,480.7 L149.4,480.7 L149.9,480.7 L150.4,480.7 L150.9,480.7 L151.4,480.7 L151.9,480.7 L152.4,480.7 L152.9,480.7 L153.4,480.7 L153.9,480.7 L154.4,480.7 L154.9,480.7 L155.4,480.7 L155.9,480.7 L156.4,480.7 L156.9,480.7 L157.4,480.4 L157.9,479.9 L158.4,478.9 L158.9,477.3 L159.4,474.8 L159.9,470.9 L160.4,465.3 L160.9,457.6 L161.4,447.9 L161.9,436.9 L162.4,426.9 L162.9,425.0 L163.4,432.9 L163.9,442.4 L164.4,451.6 L164.9,459.6 L165.4,466.0 L165.9,470.9 L166.4,474.4 L166.9,476.8 L167.4,478.4 L167.9,479.4 L168.4,480.1 L168.9,480.5 L169.4,480.7 L169.9,480.7 L170.4,480.7 L170.9,480.7 L171.4,480.7 L171.9,480.7 L172.4,480.7 L172.9,480.7 L173.4,480.7 L173.9,480.7 L174.4,480.7 L174.9,480.7 L175.4,480.7 L175.9,480.7 L176.4,480.7 L176.9,480.7 L177.4,480.7 L177.9,480.7 L178.4,480.7 L178.9,480.7 L179.4,480.7 L179.9,480.7 L180.4,480.7 L180.9,480.7 L181.4,480.7 L181.9,480.7 L182.4,480.7 L182.9,480.7" fill="none" stroke="#3c3f94" stroke-width="1.7" stroke-linejoin="round"/>
<path d="M121.3,480.7 L121.3,421.8 L121.9,475.2 L122.4,474.7 L122.9,474.2 L123.4,473.7 L123.9,473.2 L124.4,472.6 L124.9,471.9 L125.4,471.0 L125.9,469.9 L126.4,468.4 L126.9,466.6 L127.4,464.6 L127.9,462.6 L128.4,460.4 L128.9,458.1 L129.4,455.4 L129.9,452.5 L130.4,449.1 L130.9,444.7 L131.4,440.3 L131.9,436.9 L132.4,433.9 L132.9,431.0 L133.4,427.6 L133.9,424.5 L134.4,423.6 L134.9,425.3 L135.4,427.6 L135.9,427.9 L136.4,426.6 L136.9,424.7 L137.4,423.5 L137.9,424.3 L138.4,427.0 L138.9,430.6 L139.4,434.1 L139.9,438.2 L140.4,442.7 L140.9,447.4 L141.4,452.4 L141.9,457.4 L142.4,462.8 L142.9,468.1 L143.4,471.8 L143.9,474.5 L144.4,476.5 L144.9,477.1 L145.4,477.4 L145.9,477.6 L146.4,477.7 L146.9,477.9 L147.4,478.0 L147.9,478.1 L148.4,478.1 L148.9,478.1 L149.4,478.1 L149.9,478.0 L150.4,477.9 L150.9,477.8 L151.4,477.7 L151.9,477.5 L152.4,477.3 L152.9,477.0 L153.4,476.7 L153.9,476.2 L154.4,475.5 L154.9,474.7 L155.4,473.8 L155.9,472.7 L156.4,471.3 L156.9,469.6 L157.4,467.5 L157.9,465.3 L158.4,462.9 L158.9,460.5 L159.4,457.8 L159.9,455.1 L160.4,452.3 L160.9,449.7 L161.4,448.8 L161.9,450.0 L162.4,452.1 L162.9,454.4 L163.4,457.5 L163.9,460.8 L164.4,463.8 L164.9,466.7 L165.4,469.4 L165.9,471.8 L166.4,473.6 L166.9,475.2 L167.4,476.5 L167.9,477.6 L168.4,478.4 L168.9,479.1 L169.4,479.7 L169.9,480.2 L170.4,480.5 L170.9,480.7 L171.4,480.7 L171.9,480.7 L172.4,480.7 L172.9,480.7 L173.4,480.7 L173.9,480.7 L174.4,480.7 L174.9,480.7 L175.4,480.7 L175.9,480.7 L176.4,480.7 L176.9,480.7 L177.4,480.7 L177.9,480.7 L178.4,480.7 L178.9,480.7 L179.4,480.7 L179.9,480.7 L180.4,480.7 L180.9,480.7 L181.4,480.7 L181.9,480.7 L182.4,480.7 L182.9,480.7" fill="none" stroke="#e22f27" stroke-width="1.9" stroke-linejoin="round"/>
<path d="M213.90,481.00 L213.90,481.00 L214.40,481.00 L214.90,481.00 L215.40,481.00 L215.90,481.00 L216.40,481.00 L216.90,481.00 L217.40,481.00 L217.90,481.00 L218.40,481.00 L218.90,481.00 L219.40,481.00 L219.90,481.00 L220.40,480.99 L220.90,480.97 L221.40,480.87 L221.90,480.47 L222.40,479.10 L222.90,474.85 L223.40,463.48 L223.90,439.75 L224.40,425.98 L224.90,435.08 L225.40,444.45 L225.90,452.80 L226.40,459.77 L226.90,465.33 L227.40,469.64 L227.90,472.89 L228.40,475.29 L228.90,477.03 L229.40,478.27 L229.90,479.15 L230.40,479.75 L230.90,480.17 L231.40,480.45 L231.90,480.64 L232.40,480.77 L232.90,480.85 L233.40,480.90 L233.90,480.94 L234.40,480.96 L234.90,480.98 L235.40,480.99 L235.90,480.99 L236.40,480.99 L236.90,481.00 L237.40,481.00 L237.90,481.00 L238.40,481.00 L238.90,481.00 L239.40,481.00 L239.90,481.00 L240.40,481.00 L240.90,481.00 L241.40,481.00 L241.90,481.00 L242.40,481.00 L242.90,481.00 L243.40,481.00 L243.90,481.00 L244.40,481.00 L244.90,481.00 L245.40,481.00 L245.90,481.00 L246.40,481.00 L246.90,481.00 L247.40,481.00 L247.90,481.00 L248.40,481.00 L248.90,481.00 L249.40,481.00 L249.90,481.00 L250.40,481.00 L250.90,481.00 L251.40,481.00 L251.90,481.00 L252.40,481.00 L252.90,481.00 L253.40,481.00 L253.90,481.00 L254.40,481.00 L254.90,481.00 L255.40,481.00 L255.90,481.00 L256.40,481.00 L256.90,481.00 L257.40,481.00 L257.90,481.00 L258.40,481.00 L258.90,481.00 L259.40,481.00 L259.90,481.00 L260.40,481.00 L260.90,481.00 L261.40,481.00 L261.90,481.00 L262.40,481.00 L262.90,481.00 L263.40,481.00 L263.90,481.00 L264.40,481.00 L264.90,481.00 L265.40,481.00 L265.90,481.00 L266.40,481.00 L266.90,481.00 L267.40,481.00 L267.90,481.00 L268.40,481.00 L268.90,481.00 L269.40,481.00 L269.90,481.00 L270.40,481.00 L270.90,481.00 L271.40,481.00 L271.90,481.00 L272.40,481.00 L272.90,481.00 L273.40,481.00 L273.90,481.00 L274.40,481.00 L274.90,481.00 L275.40,481.00 L275.90,481.00 L276.40,481.00 L276.90,481.00 L276.90,481.00 Z" fill="#cbcbcb"/>
<rect x="213" y="420.5" width="65.00" height="60.50" fill="none" stroke="#000" stroke-width="1.7"/>
<line x1="211.10" y1="481.00" x2="213" y2="481.00" stroke="#000" stroke-width="1.2"/>
<line x1="211.10" y1="469.22" x2="213" y2="469.22" stroke="#000" stroke-width="1.2"/>
<line x1="211.10" y1="457.44" x2="213" y2="457.44" stroke="#000" stroke-width="1.2"/>
<line x1="211.10" y1="445.66" x2="213" y2="445.66" stroke="#000" stroke-width="1.2"/>
<line x1="211.10" y1="433.88" x2="213" y2="433.88" stroke="#000" stroke-width="1.2"/>
<line x1="211.10" y1="422.10" x2="213" y2="422.10" stroke="#000" stroke-width="1.2"/>
<path d="M213.9,480.7 L214.4,480.7 L214.9,480.7 L215.4,480.7 L215.9,480.7 L216.4,480.7 L216.9,480.7 L217.4,480.7 L217.9,480.7 L218.4,480.7 L218.9,480.7 L219.4,480.7 L219.9,480.7 L220.4,480.7 L220.9,480.7 L221.4,480.7 L221.9,480.7 L222.4,480.7 L222.9,480.7 L223.4,480.7 L223.9,480.7 L224.4,480.7 L224.9,480.7 L225.4,480.7 L225.9,480.7 L226.4,480.7 L226.9,480.7 L227.4,480.7 L227.9,480.7 L228.4,480.7 L228.9,480.7 L229.4,480.7 L229.9,480.7 L230.4,480.7 L230.9,480.7 L231.4,480.7 L231.9,480.7 L232.4,480.7 L232.9,480.7 L233.4,480.7 L233.9,480.7 L234.4,480.7 L234.9,480.7 L235.4,480.7 L235.9,480.7 L236.4,480.7 L236.9,480.7 L237.4,480.7 L237.9,480.7 L238.4,480.7 L238.9,480.7 L239.4,480.7 L239.9,480.7 L240.4,480.7 L240.9,480.7 L241.4,480.7 L241.9,480.7 L242.4,480.7 L242.9,480.7 L243.4,480.7 L243.9,480.7 L244.4,480.7 L244.9,480.7 L245.4,480.7 L245.9,480.7 L246.4,480.7 L246.9,480.7 L247.4,480.7 L247.9,480.7 L248.4,480.7 L248.9,480.6 L249.4,480.3 L249.9,479.9 L250.4,479.1 L250.9,478.0 L251.4,476.4 L251.9,474.0 L252.4,470.6 L252.9,466.1 L253.4,460.2 L253.9,452.9 L254.4,444.4 L254.9,435.5 L255.4,427.3 L255.9,423.9 L256.4,428.7 L256.9,435.5 L257.4,442.8 L257.9,450.0 L258.4,456.4 L258.9,462.0 L259.4,466.6 L259.9,470.3 L260.4,473.2 L260.9,475.4 L261.4,477.1 L261.9,478.3 L262.4,479.1 L262.9,479.8 L263.4,480.2 L263.9,480.5 L264.4,480.7 L264.9,480.7 L265.4,480.7 L265.9,480.7 L266.4,480.7 L266.9,480.7 L267.4,480.7 L267.9,480.7 L268.4,480.7 L268.9,480.7 L269.4,480.7 L269.9,480.7 L270.4,480.7 L270.9,480.7 L271.4,480.7 L271.9,480.7 L272.4,480.7 L272.9,480.7 L273.4,480.7 L273.9,480.7 L274.4,480.7 L274.9,480.7 L275.4,480.7 L275.9,480.7 L276.4,480.7 L276.9,480.7" fill="none" stroke="#3c3f94" stroke-width="1.7" stroke-linejoin="round"/>
<path d="M213.9,480.7 L214.4,480.7 L214.9,480.7 L215.4,480.7 L215.9,480.7 L216.4,480.7 L216.9,480.7 L217.4,480.7 L217.9,480.7 L218.4,480.7 L218.9,480.7 L219.4,480.7 L219.9,480.7 L220.4,480.7 L220.9,480.7 L221.4,480.7 L221.9,480.7 L222.4,480.7 L222.9,480.7 L223.4,480.7 L223.9,480.7 L224.4,480.7 L224.9,480.7 L225.4,480.7 L225.9,480.7 L226.4,480.7 L226.9,480.7 L227.4,480.7 L227.9,480.7 L228.4,480.7 L228.9,480.7 L229.4,480.7 L229.9,480.7 L230.4,480.7 L230.9,480.7 L231.4,480.7 L231.9,480.7 L232.4,480.7 L232.9,480.7 L233.4,480.7 L233.9,480.7 L234.4,480.7 L234.9,480.7 L235.4,480.7 L235.9,480.7 L236.4,480.7 L236.9,480.7 L237.4,480.7 L237.9,480.7 L238.4,480.7 L238.9,480.7 L239.4,480.7 L239.9,480.7 L240.4,480.7 L240.9,480.7 L241.4,480.7 L241.9,480.7 L242.4,480.7 L242.9,480.7 L243.4,480.7 L243.9,480.7 L244.4,480.7 L244.9,480.7 L245.4,480.6 L245.9,480.3 L246.4,479.9 L246.9,479.2 L247.4,478.2 L247.9,476.7 L248.4,474.5 L248.9,471.5 L249.4,467.5 L249.9,462.3 L250.4,455.8 L250.9,448.2 L251.4,439.8 L251.9,431.4 L252.4,424.8 L252.9,424.8 L253.4,428.8 L253.9,434.0 L254.4,439.6 L254.9,445.2 L255.4,449.7 L255.9,446.7 L256.4,447.9 L256.9,450.9 L257.4,454.6 L257.9,458.4 L258.4,462.0 L258.9,465.4 L259.4,468.4 L259.9,471.0 L260.4,473.2 L260.9,475.0 L261.4,476.4 L261.9,477.6 L262.4,478.4 L262.9,479.1 L263.4,479.6 L263.9,480.0 L264.4,480.3 L264.9,480.5 L265.4,480.7 L265.9,480.7 L266.4,480.7 L266.9,480.7 L267.4,480.7 L267.9,480.7 L268.4,480.7 L268.9,480.7 L269.4,480.7 L269.9,480.7 L270.4,480.7 L270.9,480.7 L271.4,480.7 L271.9,480.7 L272.4,480.7 L272.9,480.7 L273.4,480.7 L273.9,480.7 L274.4,480.7 L274.9,480.7 L275.4,480.7 L275.9,480.7 L276.4,480.7 L276.9,480.7" fill="none" stroke="#e22f27" stroke-width="1.9" stroke-linejoin="round"/>
<path d="M288.90,481.00 L288.90,481.00 L289.40,481.00 L289.90,481.00 L290.40,481.00 L290.90,481.00 L291.40,481.00 L291.90,481.00 L292.40,481.00 L292.90,481.00 L293.40,481.00 L293.90,481.00 L294.40,481.00 L294.90,481.00 L295.40,480.99 L295.90,480.97 L296.40,480.87 L296.90,480.47 L297.40,479.10 L297.90,474.85 L298.40,463.48 L298.90,439.75 L299.40,425.98 L299.90,435.08 L300.40,444.45 L300.90,452.80 L301.40,459.77 L301.90,465.33 L302.40,469.64 L302.90,472.89 L303.40,475.29 L303.90,477.03 L304.40,478.27 L304.90,479.15 L305.40,479.75 L305.90,480.17 L306.40,480.45 L306.90,480.64 L307.40,480.77 L307.90,480.85 L308.40,480.90 L308.90,480.94 L309.40,480.96 L309.90,480.98 L310.40,480.99 L310.90,480.99 L311.40,480.99 L311.90,481.00 L312.40,481.00 L312.90,481.00 L313.40,481.00 L313.90,481.00 L314.40,481.00 L314.90,481.00 L315.40,481.00 L315.90,481.00 L316.40,481.00 L316.90,481.00 L317.40,481.00 L317.90,481.00 L318.40,481.00 L318.90,481.00 L319.40,481.00 L319.90,481.00 L320.40,481.00 L320.90,481.00 L321.40,481.00 L321.90,481.00 L322.40,481.00 L322.90,481.00 L323.40,481.00 L323.90,481.00 L324.40,481.00 L324.90,481.00 L325.40,481.00 L325.90,481.00 L326.40,481.00 L326.90,481.00 L327.40,481.00 L327.90,481.00 L328.40,481.00 L328.90,481.00 L329.40,481.00 L329.90,481.00 L330.40,481.00 L330.90,481.00 L331.40,481.00 L331.90,481.00 L332.40,481.00 L332.90,481.00 L333.40,481.00 L333.90,481.00 L334.40,481.00 L334.90,481.00 L335.40,481.00 L335.90,481.00 L336.40,481.00 L336.90,481.00 L337.40,481.00 L337.90,481.00 L338.40,481.00 L338.90,481.00 L339.40,481.00 L339.90,481.00 L340.40,481.00 L340.90,481.00 L341.40,481.00 L341.90,481.00 L342.40,481.00 L342.90,481.00 L343.40,481.00 L343.90,481.00 L344.40,481.00 L344.90,481.00 L345.40,481.00 L345.90,481.00 L346.40,481.00 L346.90,481.00 L347.40,481.00 L347.90,481.00 L348.40,481.00 L348.90,481.00 L349.40,481.00 L349.90,481.00 L350.40,481.00 L350.90,481.00 L350.90,481.00 Z" fill="#cbcbcb"/>
<rect x="288" y="420.5" width="64.00" height="60.50" fill="none" stroke="#000" stroke-width="1.7"/>
<line x1="286.10" y1="481.00" x2="288" y2="481.00" stroke="#000" stroke-width="1.2"/>
<line x1="286.10" y1="469.22" x2="288" y2="469.22" stroke="#000" stroke-width="1.2"/>
<line x1="286.10" y1="457.44" x2="288" y2="457.44" stroke="#000" stroke-width="1.2"/>
<line x1="286.10" y1="445.66" x2="288" y2="445.66" stroke="#000" stroke-width="1.2"/>
<line x1="286.10" y1="433.88" x2="288" y2="433.88" stroke="#000" stroke-width="1.2"/>
<line x1="286.10" y1="422.10" x2="288" y2="422.10" stroke="#000" stroke-width="1.2"/>
<path d="M288.9,480.7 L289.4,480.7 L289.9,480.7 L290.4,480.7 L290.9,480.7 L291.4,480.7 L291.9,480.7 L292.4,480.7 L292.9,480.7 L293.4,480.7 L293.9,480.7 L294.4,480.7 L294.9,480.7 L295.4,480.7 L295.9,480.7 L296.4,480.7 L296.9,480.7 L297.4,480.7 L297.9,480.7 L298.4,480.7 L298.9,480.7 L299.4,480.7 L299.9,480.7 L300.4,480.7 L300.9,480.7 L301.4,480.7 L301.9,480.7 L302.4,480.7 L302.9,480.7 L303.4,480.7 L303.9,480.7 L304.4,480.7 L304.9,480.7 L305.4,480.7 L305.9,480.7 L306.4,480.7 L306.9,480.7 L307.4,480.7 L307.9,480.7 L308.4,480.7 L308.9,480.7 L309.4,480.7 L309.9,480.7 L310.4,480.7 L310.9,480.7 L311.4,480.7 L311.9,480.7 L312.4,480.7 L312.9,480.7 L313.4,480.7 L313.9,480.7 L314.4,480.7 L314.9,480.7 L315.4,480.7 L315.9,480.7 L316.4,480.7 L316.9,480.7 L317.4,480.7 L317.9,480.7 L318.4,480.7 L318.9,480.7 L319.4,480.7 L319.9,480.7 L320.4,480.7 L320.9,480.7 L321.4,480.7 L321.9,480.7 L322.4,480.7 L322.9,480.7 L323.4,480.7 L323.9,480.7 L324.4,480.4 L324.9,480.0 L325.4,479.3 L325.9,478.2 L326.4,476.6 L326.9,474.1 L327.4,470.7 L327.9,465.9 L328.4,459.8 L328.9,452.3 L329.4,444.1 L329.9,436.1 L330.4,431.0 L330.9,435.3 L331.4,442.2 L331.9,449.6 L332.4,456.6 L332.9,462.6 L333.4,467.6 L333.9,471.5 L334.4,474.4 L334.9,476.5 L335.4,478.1 L335.9,479.1 L336.4,479.8 L336.9,480.2 L337.4,480.5 L337.9,480.7 L338.4,480.7 L338.9,480.7 L339.4,480.7 L339.9,480.7 L340.4,480.7 L340.9,480.7 L341.4,480.7 L341.9,480.7 L342.4,480.7 L342.9,480.7 L343.4,480.7 L343.9,480.7 L344.4,480.7 L344.9,480.7 L345.4,480.7 L345.9,480.7 L346.4,480.7 L346.9,480.7 L347.4,480.7 L347.9,480.7 L348.4,480.7 L348.9,480.7 L349.4,480.7 L349.9,480.7 L350.4,480.7 L350.9,480.7" fill="none" stroke="#3c3f94" stroke-width="1.7" stroke-linejoin="round"/>
<path d="M288.3,480.7 L288.3,465.5 L288.9,480.7 L289.4,477.6 L289.9,477.6 L290.4,477.6 L290.9,477.4 L291.4,476.7 L291.9,476.0 L292.4,475.2 L292.9,474.3 L293.4,473.3 L293.9,472.2 L294.4,471.0 L294.9,469.8 L295.4,468.4 L295.9,466.8 L296.4,465.0 L296.9,463.2 L297.4,461.2 L297.9,459.1 L298.4,456.8 L298.9,454.2 L299.4,451.5 L299.9,448.9 L300.4,446.7 L300.9,444.8 L301.4,443.0 L301.9,441.2 L302.4,439.8 L302.9,439.1 L303.4,439.3 L303.9,440.9 L304.4,442.7 L304.9,443.8 L305.4,444.3 L305.9,444.7 L306.4,445.1 L306.9,445.4 L307.4,445.9 L307.9,446.3 L308.4,446.5 L308.9,446.0 L309.4,444.9 L309.9,445.1 L310.4,446.8 L310.9,449.3 L311.4,452.3 L311.9,455.1 L312.4,458.7 L312.9,462.6 L313.4,466.1 L313.9,468.8 L314.4,470.9 L314.9,472.7 L315.4,473.9 L315.9,474.7 L316.4,475.2 L316.9,475.6 L317.4,475.9 L317.9,476.2 L318.4,476.5 L318.9,476.7 L319.4,476.9 L319.9,477.0 L320.4,476.6 L320.9,475.5 L321.4,474.3 L321.9,473.4 L322.4,472.4 L322.9,471.1 L323.4,469.1 L323.9,466.3 L324.4,462.9 L324.9,458.0 L325.4,452.6 L325.9,447.9 L326.4,443.3 L326.9,439.6 L327.4,436.5 L327.9,433.9 L328.4,432.5 L328.9,432.1 L329.4,431.7 L329.9,430.3 L330.4,425.7 L330.9,423.6 L331.4,426.5 L331.9,430.7 L332.4,435.8 L332.9,440.1 L333.4,444.0 L333.9,447.8 L334.4,451.7 L334.9,455.5 L335.4,458.8 L335.9,461.7 L336.4,464.5 L336.9,466.9 L337.4,469.0 L337.9,471.0 L338.4,472.8 L338.9,474.3 L339.4,475.5 L339.9,476.6 L340.4,477.5 L340.9,478.4 L341.4,479.1 L341.9,479.6 L342.4,480.0 L342.9,480.3 L343.4,480.6 L343.9,480.7 L344.4,480.7 L344.9,480.7 L345.4,480.7 L345.9,480.7 L346.4,480.7 L346.9,480.7 L347.4,480.7 L347.9,480.7 L348.4,480.7 L348.9,480.7 L349.4,480.7 L349.9,480.7 L350.4,480.7 L350.9,480.7" fill="none" stroke="#e22f27" stroke-width="1.9" stroke-linejoin="round"/>
<path d="M376.40,481.00 L376.40,481.00 L376.90,481.00 L377.40,481.00 L377.90,481.00 L378.40,481.00 L378.90,481.00 L379.40,481.00 L379.90,481.00 L380.40,481.00 L380.90,481.00 L381.40,481.00 L381.90,481.00 L382.40,481.00 L382.90,481.00 L383.40,480.98 L383.90,480.92 L384.40,480.69 L384.90,479.85 L385.40,477.10 L385.90,469.26 L386.40,450.84 L386.90,423.50 L387.40,431.27 L387.90,440.78 L388.40,449.62 L388.90,457.16 L389.40,463.27 L389.90,468.06 L390.40,471.70 L390.90,474.42 L391.40,476.40 L391.90,477.83 L392.40,478.83 L392.90,479.54 L393.40,480.02 L393.90,480.35 L394.40,480.57 L394.90,480.72 L395.40,480.82 L395.90,480.89 L396.40,480.93 L396.90,480.95 L397.40,480.97 L397.90,480.98 L398.40,480.99 L398.90,480.99 L399.40,481.00 L399.90,481.00 L400.40,481.00 L400.90,481.00 L401.40,481.00 L401.90,481.00 L402.40,481.00 L402.90,481.00 L403.40,481.00 L403.90,481.00 L404.40,481.00 L404.90,481.00 L405.40,481.00 L405.90,481.00 L406.40,481.00 L406.90,481.00 L407.40,481.00 L407.90,481.00 L408.40,481.00 L408.90,481.00 L409.40,481.00 L409.90,481.00 L410.40,481.00 L410.90,481.00 L411.40,481.00 L411.90,481.00 L412.40,481.00 L412.90,481.00 L413.40,481.00 L413.90,481.00 L414.40,481.00 L414.90,481.00 L415.40,481.00 L415.90,481.00 L416.40,481.00 L416.90,481.00 L417.40,481.00 L417.90,481.00 L418.40,481.00 L418.90,481.00 L419.40,481.00 L419.90,481.00 L420.40,481.00 L420.90,481.00 L421.40,481.00 L421.90,481.00 L422.40,481.00 L422.90,481.00 L423.40,481.00 L423.90,481.00 L424.40,481.00 L424.90,481.00 L425.40,481.00 L425.90,481.00 L426.40,481.00 L426.90,481.00 L427.40,481.00 L427.90,481.00 L428.40,481.00 L428.90,481.00 L429.40,481.00 L429.90,481.00 L430.40,481.00 L430.90,481.00 L431.40,481.00 L431.90,481.00 L432.40,481.00 L432.90,481.00 L433.40,481.00 L433.90,481.00 L434.40,481.00 L434.90,481.00 L435.40,481.00 L435.90,481.00 L436.40,481.00 L436.90,481.00 L437.40,481.00 L437.90,481.00 L437.90,481.00 Z" fill="#cbcbcb"/>
<rect x="375.5" y="420.5" width="63.50" height="60.50" fill="none" stroke="#000" stroke-width="1.7"/>
<line x1="373.60" y1="481.00" x2="375.5" y2="481.00" stroke="#000" stroke-width="1.2"/>
<line x1="373.60" y1="469.22" x2="375.5" y2="469.22" stroke="#000" stroke-width="1.2"/>
<line x1="373.60" y1="457.44" x2="375.5" y2="457.44" stroke="#000" stroke-width="1.2"/>
<line x1="373.60" y1="445.66" x2="375.5" y2="445.66" stroke="#000" stroke-width="1.2"/>
<line x1="373.60" y1="433.88" x2="375.5" y2="433.88" stroke="#000" stroke-width="1.2"/>
<line x1="373.60" y1="422.10" x2="375.5" y2="422.10" stroke="#000" stroke-width="1.2"/>
<path d="M376.4,480.7 L376.9,480.7 L377.4,480.7 L377.9,480.7 L378.4,480.7 L378.9,480.7 L379.4,480.7 L379.9,480.7 L380.4,480.7 L380.9,480.7 L381.4,480.7 L381.9,480.7 L382.4,480.7 L382.9,480.7 L383.4,480.7 L383.9,480.7 L384.4,480.7 L384.9,480.7 L385.4,480.7 L385.9,480.7 L386.4,480.7 L386.9,480.7 L387.4,480.7 L387.9,480.7 L388.4,480.7 L388.9,480.7 L389.4,480.7 L389.9,480.7 L390.4,480.7 L390.9,480.7 L391.4,480.7 L391.9,480.7 L392.4,480.7 L392.9,480.7 L393.4,480.7 L393.9,480.7 L394.4,480.7 L394.9,480.7 L395.4,480.7 L395.9,480.7 L396.4,480.7 L396.9,480.7 L397.4,480.7 L397.9,480.7 L398.4,480.7 L398.9,480.7 L399.4,480.7 L399.9,480.7 L400.4,480.7 L400.9,480.7 L401.4,480.7 L401.9,480.7 L402.4,480.7 L402.9,480.7 L403.4,480.7 L403.9,480.7 L404.4,480.7 L404.9,480.7 L405.4,480.7 L405.9,480.7 L406.4,480.7 L406.9,480.7 L407.4,480.7 L407.9,480.7 L408.4,480.7 L408.9,480.7 L409.4,480.7 L409.9,480.7 L410.4,480.7 L410.9,480.7 L411.4,480.7 L411.9,480.7 L412.4,480.4 L412.9,479.8 L413.4,478.7 L413.9,477.2 L414.4,475.2 L414.9,472.3 L415.4,468.3 L415.9,461.9 L416.4,453.2 L416.9,441.0 L417.4,429.7 L417.9,425.0 L418.4,423.6 L418.9,426.9 L419.4,431.7 L419.9,438.3 L420.4,444.6 L420.9,450.1 L421.4,455.2 L421.9,460.2 L422.4,465.1 L422.9,469.5 L423.4,472.9 L423.9,475.8 L424.4,477.9 L424.9,479.5 L425.4,480.4 L425.9,480.7 L426.4,480.7 L426.9,480.7 L427.4,480.7 L427.9,480.7 L428.4,480.7 L428.9,480.7 L429.4,480.7 L429.9,480.7 L430.4,480.7 L430.9,480.7 L431.4,480.7 L431.9,480.7 L432.4,480.7 L432.9,480.7 L433.4,480.7 L433.9,480.7 L434.4,480.7 L434.9,480.7 L435.4,480.7 L435.9,480.7 L436.4,480.7 L436.9,480.7 L437.4,480.7 L437.9,480.7" fill="none" stroke="#3c3f94" stroke-width="1.7" stroke-linejoin="round"/>
<path d="M376.4,480.7 L376.9,480.7 L377.4,480.7 L377.9,480.7 L378.4,480.7 L378.9,480.7 L379.4,480.7 L379.9,480.7 L380.4,480.7 L380.9,480.7 L381.4,480.7 L381.9,480.7 L382.4,480.7 L382.9,480.7 L383.4,480.7 L383.9,480.7 L384.4,480.7 L384.9,480.7 L385.4,480.7 L385.9,480.7 L386.4,480.7 L386.9,480.7 L387.4,480.7 L387.9,480.7 L388.4,480.7 L388.9,480.7 L389.4,480.7 L389.9,480.7 L390.4,480.7 L390.9,480.7 L391.4,480.7 L391.9,480.7 L392.4,480.7 L392.9,480.7 L393.4,480.7 L393.9,480.7 L394.4,480.7 L394.9,480.7 L395.4,480.7 L395.9,480.7 L396.4,480.7 L396.9,480.7 L397.4,480.7 L397.9,480.7 L398.4,480.7 L398.9,480.7 L399.4,480.7 L399.9,480.7 L400.4,480.7 L400.9,480.7 L401.4,480.7 L401.9,480.7 L402.4,480.7 L402.9,480.7 L403.4,480.7 L403.9,480.7 L404.4,480.7 L404.9,480.7 L405.4,480.7 L405.9,480.7 L406.4,480.7 L406.9,480.4 L407.4,480.0 L407.9,479.6 L408.4,479.1 L408.9,478.4 L409.4,477.7 L409.9,477.1 L410.4,476.7 L410.9,476.4 L411.4,476.0 L411.9,474.7 L412.4,472.2 L412.9,468.2 L413.4,461.4 L413.9,454.6 L414.4,448.0 L414.9,439.6 L415.4,429.7 L415.9,423.8 L416.4,423.7 L416.9,424.3 L417.4,427.8 L417.9,433.6 L418.4,442.0 L418.9,448.8 L419.4,454.9 L419.9,460.7 L420.4,466.2 L420.9,470.9 L421.4,474.7 L421.9,477.7 L422.4,479.8 L422.9,480.6 L423.4,480.7 L423.9,480.7 L424.4,480.7 L424.9,480.7 L425.4,480.7 L425.9,480.7 L426.4,480.7 L426.9,480.7 L427.4,480.7 L427.9,480.7 L428.4,480.7 L428.9,480.7 L429.4,480.7 L429.9,480.7 L430.4,480.7 L430.9,480.7 L431.4,480.7 L431.9,480.7 L432.4,480.7 L432.9,480.7 L433.4,480.7 L433.9,480.7 L434.4,480.7 L434.9,480.7 L435.4,480.7 L435.9,480.7 L436.4,480.7 L436.9,480.7 L437.4,480.7 L437.9,480.7" fill="none" stroke="#e22f27" stroke-width="1.9" stroke-linejoin="round"/>
<path d="M450.90,481.00 L450.90,481.00 L451.40,481.00 L451.90,481.00 L452.40,481.00 L452.90,481.00 L453.40,481.00 L453.90,481.00 L454.40,481.00 L454.90,481.00 L455.40,481.00 L455.90,481.00 L456.40,481.00 L456.90,481.00 L457.40,480.99 L457.90,480.97 L458.40,480.87 L458.90,480.47 L459.40,479.10 L459.90,474.85 L460.40,463.48 L460.90,439.75 L461.40,425.98 L461.90,435.08 L462.40,444.45 L462.90,452.80 L463.40,459.77 L463.90,465.33 L464.40,469.64 L464.90,472.89 L465.40,475.29 L465.90,477.03 L466.40,478.27 L466.90,479.15 L467.40,479.75 L467.90,480.17 L468.40,480.45 L468.90,480.64 L469.40,480.77 L469.90,480.85 L470.40,480.90 L470.90,480.94 L471.40,480.96 L471.90,480.98 L472.40,480.99 L472.90,480.99 L473.40,480.99 L473.90,481.00 L474.40,481.00 L474.90,481.00 L475.40,481.00 L475.90,481.00 L476.40,481.00 L476.90,481.00 L477.40,481.00 L477.90,481.00 L478.40,481.00 L478.90,481.00 L479.40,481.00 L479.90,481.00 L480.40,481.00 L480.90,481.00 L481.40,481.00 L481.90,481.00 L482.40,481.00 L482.90,481.00 L483.40,481.00 L483.90,481.00 L484.40,481.00 L484.90,481.00 L485.40,481.00 L485.90,481.00 L486.40,481.00 L486.90,481.00 L487.40,481.00 L487.90,481.00 L488.40,481.00 L488.90,481.00 L489.40,481.00 L489.90,481.00 L490.40,481.00 L490.90,481.00 L491.40,481.00 L491.90,481.00 L492.40,481.00 L492.90,481.00 L493.40,481.00 L493.90,481.00 L494.40,481.00 L494.90,481.00 L495.40,481.00 L495.90,481.00 L496.40,481.00 L496.90,481.00 L497.40,481.00 L497.90,481.00 L498.40,481.00 L498.90,481.00 L499.40,481.00 L499.90,481.00 L500.40,481.00 L500.90,481.00 L501.40,481.00 L501.90,481.00 L502.40,481.00 L502.90,481.00 L503.40,481.00 L503.90,481.00 L504.40,481.00 L504.90,481.00 L505.40,481.00 L505.90,481.00 L506.40,481.00 L506.90,481.00 L507.40,481.00 L507.90,481.00 L508.40,481.00 L508.90,481.00 L509.40,481.00 L509.90,481.00 L510.40,481.00 L510.90,481.00 L511.40,481.00 L511.90,481.00 L512.40,481.00 L512.90,481.00 L512.90,481.00 Z" fill="#cbcbcb"/>
<rect x="450" y="420.5" width="64.00" height="60.50" fill="none" stroke="#000" stroke-width="1.7"/>
<line x1="448.10" y1="481.00" x2="450" y2="481.00" stroke="#000" stroke-width="1.2"/>
<line x1="448.10" y1="469.22" x2="450" y2="469.22" stroke="#000" stroke-width="1.2"/>
<line x1="448.10" y1="457.44" x2="450" y2="457.44" stroke="#000" stroke-width="1.2"/>
<line x1="448.10" y1="445.66" x2="450" y2="445.66" stroke="#000" stroke-width="1.2"/>
<line x1="448.10" y1="433.88" x2="450" y2="433.88" stroke="#000" stroke-width="1.2"/>
<line x1="448.10" y1="422.10" x2="450" y2="422.10" stroke="#000" stroke-width="1.2"/>
<path d="M450.9,480.7 L451.4,480.7 L451.9,480.7 L452.4,480.7 L452.9,480.7 L453.4,480.7 L453.9,480.7 L454.4,480.7 L454.9,480.7 L455.4,480.7 L455.9,480.7 L456.4,480.7 L456.9,480.7 L457.4,480.7 L457.9,480.7 L458.4,480.7 L458.9,480.7 L459.4,480.7 L459.9,480.7 L460.4,480.7 L460.9,480.7 L461.4,480.7 L461.9,480.7 L462.4,480.7 L462.9,480.7 L463.4,480.7 L463.9,480.7 L464.4,480.7 L464.9,480.7 L465.4,480.7 L465.9,480.7 L466.4,480.7 L466.9,480.7 L467.4,480.7 L467.9,480.7 L468.4,480.7 L468.9,480.7 L469.4,480.7 L469.9,480.7 L470.4,480.7 L470.9,480.7 L471.4,480.7 L471.9,480.7 L472.4,480.7 L472.9,480.7 L473.4,480.7 L473.9,480.7 L474.4,480.7 L474.9,480.7 L475.4,480.7 L475.9,480.7 L476.4,480.7 L476.9,480.7 L477.4,480.7 L477.9,480.7 L478.4,480.7 L478.9,480.7 L479.4,480.7 L479.9,480.7 L480.4,480.7 L480.9,480.7 L481.4,480.7 L481.9,480.7 L482.4,480.7 L482.9,480.7 L483.4,480.7 L483.9,480.7 L484.4,480.7 L484.9,480.7 L485.4,480.7 L485.9,480.7 L486.4,480.7 L486.9,480.4 L487.4,480.0 L487.9,479.3 L488.4,478.2 L488.9,476.5 L489.4,474.0 L489.9,470.4 L490.4,465.5 L490.9,459.1 L491.4,451.1 L491.9,442.0 L492.4,432.6 L492.9,425.0 L493.4,425.8 L493.9,433.0 L494.4,441.5 L494.9,449.8 L495.4,457.2 L495.9,463.5 L496.4,468.4 L496.9,472.2 L497.4,475.0 L497.9,477.0 L498.4,478.4 L498.9,479.3 L499.4,480.0 L499.9,480.4 L500.4,480.6 L500.9,480.7 L501.4,480.7 L501.9,480.7 L502.4,480.7 L502.9,480.7 L503.4,480.7 L503.9,480.7 L504.4,480.7 L504.9,480.7 L505.4,480.7 L505.9,480.7 L506.4,480.7 L506.9,480.7 L507.4,480.7 L507.9,480.7 L508.4,480.7 L508.9,480.7 L509.4,480.7 L509.9,480.7 L510.4,480.7 L510.9,480.7 L511.4,480.7 L511.9,480.7 L512.4,480.7 L512.9,480.7" fill="none" stroke="#3c3f94" stroke-width="1.7" stroke-linejoin="round"/>
<path d="M450.3,480.7 L450.3,452.2 L450.9,480.7 L451.4,480.7 L451.9,477.5 L452.4,477.1 L452.9,476.6 L453.4,476.0 L453.9,475.4 L454.4,474.7 L454.9,473.9 L455.4,473.1 L455.9,472.2 L456.4,471.1 L456.9,470.0 L457.4,468.7 L457.9,467.2 L458.4,465.5 L458.9,463.5 L459.4,461.4 L459.9,459.2 L460.4,456.8 L460.9,454.0 L461.4,450.7 L461.9,447.1 L462.4,443.7 L462.9,440.7 L463.4,437.7 L463.9,435.4 L464.4,433.6 L464.9,432.2 L465.4,431.6 L465.9,432.1 L466.4,433.2 L466.9,434.0 L467.4,434.3 L467.9,434.6 L468.4,435.5 L468.9,438.5 L469.4,442.6 L469.9,448.6 L470.4,454.6 L470.9,460.7 L471.4,465.8 L471.9,469.9 L472.4,472.9 L472.9,475.2 L473.4,477.1 L473.9,478.6 L474.4,479.3 L474.9,479.5 L475.4,479.6 L475.9,479.7 L476.4,479.8 L476.9,479.8 L477.4,479.8 L477.9,479.7 L478.4,479.6 L478.9,479.5 L479.4,479.3 L479.9,479.3 L480.4,479.3 L480.9,479.3 L481.4,479.3 L481.9,479.3 L482.4,479.1 L482.9,478.4 L483.4,477.5 L483.9,476.6 L484.4,475.8 L484.9,474.9 L485.4,474.1 L485.9,473.1 L486.4,471.9 L486.9,470.6 L487.4,469.2 L487.9,467.6 L488.4,465.6 L488.9,463.1 L489.4,459.5 L489.9,453.9 L490.4,447.7 L490.9,441.3 L491.4,434.5 L491.9,429.7 L492.4,426.1 L492.9,423.7 L493.4,423.9 L493.9,425.8 L494.4,428.9 L494.9,436.1 L495.4,445.0 L495.9,452.7 L496.4,460.5 L496.9,467.0 L497.4,470.6 L497.9,473.0 L498.4,474.8 L498.9,476.2 L499.4,477.2 L499.9,478.0 L500.4,478.8 L500.9,479.3 L501.4,479.9 L501.9,480.3 L502.4,480.7 L502.9,480.7 L503.4,480.7 L503.9,480.7 L504.4,480.7 L504.9,480.7 L505.4,480.7 L505.9,480.7 L506.4,480.7 L506.9,480.7 L507.4,480.7 L507.9,480.7 L508.4,480.7 L508.9,480.7 L509.4,480.7 L509.9,480.7 L510.4,480.7 L510.9,480.7 L511.4,480.7 L511.9,480.7 L512.4,480.7 L512.9,480.7" fill="none" stroke="#e22f27" stroke-width="1.9" stroke-linejoin="round"/>
<text transform="translate(36.03,112.25) scale(0.800,1)" style="font-size:8.43px">0</text>
<text transform="translate(32.29,100.25) scale(0.800,1)" style="font-size:8.43px">20</text>
<text transform="translate(32.29,88.25) scale(0.800,1)" style="font-size:8.43px">40</text>
<text transform="translate(32.29,76.25) scale(0.800,1)" style="font-size:8.43px">60</text>
<text transform="translate(32.29,64.25) scale(0.800,1)" style="font-size:8.43px">80</text>
<text transform="translate(28.54,52.25) scale(0.800,1)" style="font-size:8.43px">100</text>
<text transform="translate(36.03,185.25) scale(0.800,1)" style="font-size:8.43px">0</text>
<text transform="translate(32.29,173.25) scale(0.800,1)" style="font-size:8.43px">20</text>
<text transform="translate(32.29,161.25) scale(0.800,1)" style="font-size:8.43px">40</text>
<text transform="translate(32.29,149.25) scale(0.800,1)" style="font-size:8.43px">60</text>
<text transform="translate(32.29,137.25) scale(0.800,1)" style="font-size:8.43px">80</text>
<text transform="translate(28.54,125.25) scale(0.800,1)" style="font-size:8.43px">100</text>
<text transform="translate(36.03,258.25) scale(0.800,1)" style="font-size:8.43px">0</text>
<text transform="translate(32.29,246.25) scale(0.800,1)" style="font-size:8.43px">20</text>
<text transform="translate(32.29,234.25) scale(0.800,1)" style="font-size:8.43px">40</text>
<text transform="translate(32.29,222.25) scale(0.800,1)" style="font-size:8.43px">60</text>
<text transform="translate(32.29,210.25) scale(0.800,1)" style="font-size:8.43px">80</text>
<text transform="translate(28.54,198.25) scale(0.800,1)" style="font-size:8.43px">100</text>
<text transform="translate(36.03,330.75) scale(0.800,1)" style="font-size:8.43px">0</text>
<text transform="translate(32.29,318.75) scale(0.800,1)" style="font-size:8.43px">20</text>
<text transform="translate(32.29,306.75) scale(0.800,1)" style="font-size:8.43px">40</text>
<text transform="translate(32.29,294.75) scale(0.800,1)" style="font-size:8.43px">60</text>
<text transform="translate(32.29,282.75) scale(0.800,1)" style="font-size:8.43px">80</text>
<text transform="translate(28.54,270.75) scale(0.800,1)" style="font-size:8.43px">100</text>
<text transform="translate(38.23,484.25) scale(0.800,1)" style="font-size:8.43px">0</text>
<text transform="translate(34.49,472.47) scale(0.800,1)" style="font-size:8.43px">20</text>
<text transform="translate(34.49,460.69) scale(0.800,1)" style="font-size:8.43px">40</text>
<text transform="translate(34.49,448.91) scale(0.800,1)" style="font-size:8.43px">60</text>
<text transform="translate(34.49,437.13) scale(0.800,1)" style="font-size:8.43px">80</text>
<text transform="translate(30.74,425.35) scale(0.800,1)" style="font-size:8.43px">100</text>
<text transform="translate(204.73,112.25) scale(0.800,1)" style="font-size:8.43px">0</text>
<text transform="translate(200.99,100.25) scale(0.800,1)" style="font-size:8.43px">20</text>
<text transform="translate(200.99,88.25) scale(0.800,1)" style="font-size:8.43px">40</text>
<text transform="translate(200.99,76.25) scale(0.800,1)" style="font-size:8.43px">60</text>
<text transform="translate(200.99,64.25) scale(0.800,1)" style="font-size:8.43px">80</text>
<text transform="translate(197.24,52.25) scale(0.800,1)" style="font-size:8.43px">100</text>
<text transform="translate(204.73,185.25) scale(0.800,1)" style="font-size:8.43px">0</text>
<text transform="translate(200.99,173.25) scale(0.800,1)" style="font-size:8.43px">20</text>
<text transform="translate(200.99,161.25) scale(0.800,1)" style="font-size:8.43px">40</text>
<text transform="translate(200.99,149.25) scale(0.800,1)" style="font-size:8.43px">60</text>
<text transform="translate(200.99,137.25) scale(0.800,1)" style="font-size:8.43px">80</text>
<text transform="translate(197.24,125.25) scale(0.800,1)" style="font-size:8.43px">100</text>
<text transform="translate(204.73,258.25) scale(0.800,1)" style="font-size:8.43px">0</text>
<text transform="translate(200.99,246.25) scale(0.800,1)" style="font-size:8.43px">20</text>
<text transform="translate(200.99,234.25) scale(0.800,1)" style="font-size:8.43px">40</text>
<text transform="translate(200.99,222.25) scale(0.800,1)" style="font-size:8.43px">60</text>
<text transform="translate(200.99,210.25) scale(0.800,1)" style="font-size:8.43px">80</text>
<text transform="translate(197.24,198.25) scale(0.800,1)" style="font-size:8.43px">100</text>
<text transform="translate(204.73,330.75) scale(0.800,1)" style="font-size:8.43px">0</text>
<text transform="translate(200.99,318.75) scale(0.800,1)" style="font-size:8.43px">20</text>
<text transform="translate(200.99,306.75) scale(0.800,1)" style="font-size:8.43px">40</text>
<text transform="translate(200.99,294.75) scale(0.800,1)" style="font-size:8.43px">60</text>
<text transform="translate(200.99,282.75) scale(0.800,1)" style="font-size:8.43px">80</text>
<text transform="translate(197.24,270.75) scale(0.800,1)" style="font-size:8.43px">100</text>
<text transform="translate(205.73,484.25) scale(0.800,1)" style="font-size:8.43px">0</text>
<text transform="translate(201.99,472.47) scale(0.800,1)" style="font-size:8.43px">20</text>
<text transform="translate(201.99,460.69) scale(0.800,1)" style="font-size:8.43px">40</text>
<text transform="translate(201.99,448.91) scale(0.800,1)" style="font-size:8.43px">60</text>
<text transform="translate(201.99,437.13) scale(0.800,1)" style="font-size:8.43px">80</text>
<text transform="translate(198.24,425.35) scale(0.800,1)" style="font-size:8.43px">100</text>
<text transform="translate(366.73,112.25) scale(0.800,1)" style="font-size:8.43px">0</text>
<text transform="translate(362.99,100.25) scale(0.800,1)" style="font-size:8.43px">20</text>
<text transform="translate(362.99,88.25) scale(0.800,1)" style="font-size:8.43px">40</text>
<text transform="translate(362.99,76.25) scale(0.800,1)" style="font-size:8.43px">60</text>
<text transform="translate(362.99,64.25) scale(0.800,1)" style="font-size:8.43px">80</text>
<text transform="translate(359.24,52.25) scale(0.800,1)" style="font-size:8.43px">100</text>
<text transform="translate(366.73,185.25) scale(0.800,1)" style="font-size:8.43px">0</text>
<text transform="translate(362.99,173.25) scale(0.800,1)" style="font-size:8.43px">20</text>
<text transform="translate(362.99,161.25) scale(0.800,1)" style="font-size:8.43px">40</text>
<text transform="translate(362.99,149.25) scale(0.800,1)" style="font-size:8.43px">60</text>
<text transform="translate(362.99,137.25) scale(0.800,1)" style="font-size:8.43px">80</text>
<text transform="translate(359.24,125.25) scale(0.800,1)" style="font-size:8.43px">100</text>
<text transform="translate(366.73,258.25) scale(0.800,1)" style="font-size:8.43px">0</text>
<text transform="translate(362.99,246.25) scale(0.800,1)" style="font-size:8.43px">20</text>
<text transform="translate(362.99,234.25) scale(0.800,1)" style="font-size:8.43px">40</text>
<text transform="translate(362.99,222.25) scale(0.800,1)" style="font-size:8.43px">60</text>
<text transform="translate(362.99,210.25) scale(0.800,1)" style="font-size:8.43px">80</text>
<text transform="translate(359.24,198.25) scale(0.800,1)" style="font-size:8.43px">100</text>
<text transform="translate(366.73,330.75) scale(0.800,1)" style="font-size:8.43px">0</text>
<text transform="translate(362.99,318.75) scale(0.800,1)" style="font-size:8.43px">20</text>
<text transform="translate(362.99,306.75) scale(0.800,1)" style="font-size:8.43px">40</text>
<text transform="translate(362.99,294.75) scale(0.800,1)" style="font-size:8.43px">60</text>
<text transform="translate(362.99,282.75) scale(0.800,1)" style="font-size:8.43px">80</text>
<text transform="translate(359.24,270.75) scale(0.800,1)" style="font-size:8.43px">100</text>
<text transform="translate(368.23,484.25) scale(0.800,1)" style="font-size:8.43px">0</text>
<text transform="translate(364.49,472.47) scale(0.800,1)" style="font-size:8.43px">20</text>
<text transform="translate(364.49,460.69) scale(0.800,1)" style="font-size:8.43px">40</text>
<text transform="translate(364.49,448.91) scale(0.800,1)" style="font-size:8.43px">60</text>
<text transform="translate(364.49,437.13) scale(0.800,1)" style="font-size:8.43px">80</text>
<text transform="translate(360.74,425.35) scale(0.800,1)" style="font-size:8.43px">100</text>
<text transform="translate(38.43,338.80) scale(0.740,1)" style="font-size:8.43px">10</text>
<text transform="translate(45.81,335.90) scale(0.8,1)" style="font-size:4.6px">0</text>
<text transform="translate(53.98,338.80) scale(0.740,1)" style="font-size:8.43px">10</text>
<text transform="translate(61.36,335.90) scale(0.8,1)" style="font-size:4.6px">1</text>
<text transform="translate(69.53,338.80) scale(0.740,1)" style="font-size:8.43px">10</text>
<text transform="translate(76.91,335.90) scale(0.8,1)" style="font-size:4.6px">2</text>
<text transform="translate(85.08,338.80) scale(0.740,1)" style="font-size:8.43px">10</text>
<text transform="translate(92.46,335.90) scale(0.8,1)" style="font-size:4.6px">3</text>
<text transform="translate(100.63,338.80) scale(0.740,1)" style="font-size:8.43px">10</text>
<text transform="translate(108.01,335.90) scale(0.8,1)" style="font-size:4.6px">4</text>
<text transform="translate(116.43,338.80) scale(0.740,1)" style="font-size:8.43px">10</text>
<text transform="translate(123.81,335.90) scale(0.8,1)" style="font-size:4.6px">0</text>
<text transform="translate(131.98,338.80) scale(0.740,1)" style="font-size:8.43px">10</text>
<text transform="translate(139.36,335.90) scale(0.8,1)" style="font-size:4.6px">1</text>
<text transform="translate(147.53,338.80) scale(0.740,1)" style="font-size:8.43px">10</text>
<text transform="translate(154.91,335.90) scale(0.8,1)" style="font-size:4.6px">2</text>
<text transform="translate(163.08,338.80) scale(0.740,1)" style="font-size:8.43px">10</text>
<text transform="translate(170.46,335.90) scale(0.8,1)" style="font-size:4.6px">3</text>
<text transform="translate(178.63,338.80) scale(0.740,1)" style="font-size:8.43px">10</text>
<text transform="translate(186.01,335.90) scale(0.8,1)" style="font-size:4.6px">4</text>
<text transform="translate(208.03,338.80) scale(0.740,1)" style="font-size:8.43px">10</text>
<text transform="translate(215.41,335.90) scale(0.8,1)" style="font-size:4.6px">0</text>
<text transform="translate(223.58,338.80) scale(0.740,1)" style="font-size:8.43px">10</text>
<text transform="translate(230.96,335.90) scale(0.8,1)" style="font-size:4.6px">1</text>
<text transform="translate(239.13,338.80) scale(0.740,1)" style="font-size:8.43px">10</text>
<text transform="translate(246.51,335.90) scale(0.8,1)" style="font-size:4.6px">2</text>
<text transform="translate(254.68,338.80) scale(0.740,1)" style="font-size:8.43px">10</text>
<text transform="translate(262.06,335.90) scale(0.8,1)" style="font-size:4.6px">3</text>
<text transform="translate(270.23,338.80) scale(0.740,1)" style="font-size:8.43px">10</text>
<text transform="translate(277.61,335.90) scale(0.8,1)" style="font-size:4.6px">4</text>
<text transform="translate(286.43,338.80) scale(0.740,1)" style="font-size:8.43px">10</text>
<text transform="translate(293.81,335.90) scale(0.8,1)" style="font-size:4.6px">0</text>
<text transform="translate(301.98,338.80) scale(0.740,1)" style="font-size:8.43px">10</text>
<text transform="translate(309.36,335.90) scale(0.8,1)" style="font-size:4.6px">1</text>
<text transform="translate(317.53,338.80) scale(0.740,1)" style="font-size:8.43px">10</text>
<text transform="translate(324.91,335.90) scale(0.8,1)" style="font-size:4.6px">2</text>
<text transform="translate(333.08,338.80) scale(0.740,1)" style="font-size:8.43px">10</text>
<text transform="translate(340.46,335.90) scale(0.8,1)" style="font-size:4.6px">3</text>
<text transform="translate(348.63,338.80) scale(0.740,1)" style="font-size:8.43px">10</text>
<text transform="translate(356.01,335.90) scale(0.8,1)" style="font-size:4.6px">4</text>
<text transform="translate(369.53,338.80) scale(0.740,1)" style="font-size:8.43px">10</text>
<text transform="translate(376.91,335.90) scale(0.8,1)" style="font-size:4.6px">0</text>
<text transform="translate(385.08,338.80) scale(0.740,1)" style="font-size:8.43px">10</text>
<text transform="translate(392.46,335.90) scale(0.8,1)" style="font-size:4.6px">1</text>
<text transform="translate(400.63,338.80) scale(0.740,1)" style="font-size:8.43px">10</text>
<text transform="translate(408.01,335.90) scale(0.8,1)" style="font-size:4.6px">2</text>
<text transform="translate(416.18,338.80) scale(0.740,1)" style="font-size:8.43px">10</text>
<text transform="translate(423.56,335.90) scale(0.8,1)" style="font-size:4.6px">3</text>
<text transform="translate(431.73,338.80) scale(0.740,1)" style="font-size:8.43px">10</text>
<text transform="translate(439.11,335.90) scale(0.8,1)" style="font-size:4.6px">4</text>
<text transform="translate(447.23,338.80) scale(0.740,1)" style="font-size:8.43px">10</text>
<text transform="translate(454.61,335.90) scale(0.8,1)" style="font-size:4.6px">0</text>
<text transform="translate(462.78,338.80) scale(0.740,1)" style="font-size:8.43px">10</text>
<text transform="translate(470.16,335.90) scale(0.8,1)" style="font-size:4.6px">1</text>
<text transform="translate(478.33,338.80) scale(0.740,1)" style="font-size:8.43px">10</text>
<text transform="translate(485.71,335.90) scale(0.8,1)" style="font-size:4.6px">2</text>
<text transform="translate(493.88,338.80) scale(0.740,1)" style="font-size:8.43px">10</text>
<text transform="translate(501.26,335.90) scale(0.8,1)" style="font-size:4.6px">3</text>
<text transform="translate(509.43,338.80) scale(0.740,1)" style="font-size:8.43px">10</text>
<text transform="translate(516.81,335.90) scale(0.8,1)" style="font-size:4.6px">4</text>
<text transform="translate(40.33,492.40) scale(0.740,1)" style="font-size:8.43px">10</text>
<text transform="translate(47.71,489.50) scale(0.8,1)" style="font-size:4.6px">0</text>
<text transform="translate(55.28,492.40) scale(0.740,1)" style="font-size:8.43px">10</text>
<text transform="translate(62.66,489.50) scale(0.8,1)" style="font-size:4.6px">1</text>
<text transform="translate(70.23,492.40) scale(0.740,1)" style="font-size:8.43px">10</text>
<text transform="translate(77.61,489.50) scale(0.8,1)" style="font-size:4.6px">2</text>
<text transform="translate(85.18,492.40) scale(0.740,1)" style="font-size:8.43px">10</text>
<text transform="translate(92.56,489.50) scale(0.8,1)" style="font-size:4.6px">3</text>
<text transform="translate(100.13,492.40) scale(0.740,1)" style="font-size:8.43px">10</text>
<text transform="translate(107.51,489.50) scale(0.8,1)" style="font-size:4.6px">4</text>
<text transform="translate(115.73,492.40) scale(0.740,1)" style="font-size:8.43px">10</text>
<text transform="translate(123.11,489.50) scale(0.8,1)" style="font-size:4.6px">0</text>
<text transform="translate(130.68,492.40) scale(0.740,1)" style="font-size:8.43px">10</text>
<text transform="translate(138.06,489.50) scale(0.8,1)" style="font-size:4.6px">1</text>
<text transform="translate(145.63,492.40) scale(0.740,1)" style="font-size:8.43px">10</text>
<text transform="translate(153.01,489.50) scale(0.8,1)" style="font-size:4.6px">2</text>
<text transform="translate(160.58,492.40) scale(0.740,1)" style="font-size:8.43px">10</text>
<text transform="translate(167.96,489.50) scale(0.8,1)" style="font-size:4.6px">3</text>
<text transform="translate(175.53,492.40) scale(0.740,1)" style="font-size:8.43px">10</text>
<text transform="translate(182.91,489.50) scale(0.8,1)" style="font-size:4.6px">4</text>
<text transform="translate(209.03,492.40) scale(0.740,1)" style="font-size:8.43px">10</text>
<text transform="translate(216.41,489.50) scale(0.8,1)" style="font-size:4.6px">0</text>
<text transform="translate(223.98,492.40) scale(0.740,1)" style="font-size:8.43px">10</text>
<text transform="translate(231.36,489.50) scale(0.8,1)" style="font-size:4.6px">1</text>
<text transform="translate(238.93,492.40) scale(0.740,1)" style="font-size:8.43px">10</text>
<text transform="translate(246.31,489.50) scale(0.8,1)" style="font-size:4.6px">2</text>
<text transform="translate(253.88,492.40) scale(0.740,1)" style="font-size:8.43px">10</text>
<text transform="translate(261.26,489.50) scale(0.8,1)" style="font-size:4.6px">3</text>
<text transform="translate(268.83,492.40) scale(0.740,1)" style="font-size:8.43px">10</text>
<text transform="translate(276.21,489.50) scale(0.8,1)" style="font-size:4.6px">4</text>
<text transform="translate(284.43,492.40) scale(0.740,1)" style="font-size:8.43px">10</text>
<text transform="translate(291.81,489.50) scale(0.8,1)" style="font-size:4.6px">0</text>
<text transform="translate(299.38,492.40) scale(0.740,1)" style="font-size:8.43px">10</text>
<text transform="translate(306.76,489.50) scale(0.8,1)" style="font-size:4.6px">1</text>
<text transform="translate(314.33,492.40) scale(0.740,1)" style="font-size:8.43px">10</text>
<text transform="translate(321.71,489.50) scale(0.8,1)" style="font-size:4.6px">2</text>
<text transform="translate(329.28,492.40) scale(0.740,1)" style="font-size:8.43px">10</text>
<text transform="translate(336.66,489.50) scale(0.8,1)" style="font-size:4.6px">3</text>
<text transform="translate(344.23,492.40) scale(0.740,1)" style="font-size:8.43px">10</text>
<text transform="translate(351.61,489.50) scale(0.8,1)" style="font-size:4.6px">4</text>
<text transform="translate(370.73,492.40) scale(0.740,1)" style="font-size:8.43px">10</text>
<text transform="translate(378.11,489.50) scale(0.8,1)" style="font-size:4.6px">0</text>
<text transform="translate(385.68,492.40) scale(0.740,1)" style="font-size:8.43px">10</text>
<text transform="translate(393.06,489.50) scale(0.8,1)" style="font-size:4.6px">1</text>
<text transform="translate(400.63,492.40) scale(0.740,1)" style="font-size:8.43px">10</text>
<text transform="translate(408.01,489.50) scale(0.8,1)" style="font-size:4.6px">2</text>
<text transform="translate(415.58,492.40) scale(0.740,1)" style="font-size:8.43px">10</text>
<text transform="translate(422.96,489.50) scale(0.8,1)" style="font-size:4.6px">3</text>
<text transform="translate(430.53,492.40) scale(0.740,1)" style="font-size:8.43px">10</text>
<text transform="translate(437.91,489.50) scale(0.8,1)" style="font-size:4.6px">4</text>
<text transform="translate(446.43,492.40) scale(0.740,1)" style="font-size:8.43px">10</text>
<text transform="translate(453.81,489.50) scale(0.8,1)" style="font-size:4.6px">0</text>
<text transform="translate(461.38,492.40) scale(0.740,1)" style="font-size:8.43px">10</text>
<text transform="translate(468.76,489.50) scale(0.8,1)" style="font-size:4.6px">1</text>
<text transform="translate(476.33,492.40) scale(0.740,1)" style="font-size:8.43px">10</text>
<text transform="translate(483.71,489.50) scale(0.8,1)" style="font-size:4.6px">2</text>
<text transform="translate(491.28,492.40) scale(0.740,1)" style="font-size:8.43px">10</text>
<text transform="translate(498.66,489.50) scale(0.8,1)" style="font-size:4.6px">3</text>
<text transform="translate(506.23,492.40) scale(0.740,1)" style="font-size:8.43px">10</text>
<text transform="translate(513.61,489.50) scale(0.8,1)" style="font-size:4.6px">4</text>
<text transform="translate(23.21,10.25) scale(0.822,1)" style="font-size:13.99px;font-weight:bold;">A</text>
<text transform="translate(22.93,384.15) scale(0.931,1)" style="font-size:12.68px;font-weight:bold;">B</text>
<text transform="translate(16.48,83.35) scale(0.832,1)" style="font-size:12.64px;font-weight:bold;">G</text>
<text transform="translate(15.64,156.85) scale(0.924,1)" style="font-size:12.68px;font-weight:bold;">M</text>
<text transform="translate(17.26,229.85) scale(0.785,1)" style="font-size:12.54px;font-weight:bold;">B</text>
<text transform="translate(17.29,302.05) scale(0.819,1)" style="font-size:12.83px;font-weight:bold;">T</text>
<text transform="translate(96.13,24.65) scale(0.817,1)" style="font-size:11.50px;">Case 13</text>
<text transform="translate(267.53,24.75) scale(0.847,1)" style="font-size:11.07px;">Case 12</text>
<text transform="translate(429.82,24.75) scale(0.850,1)" style="font-size:11.36px;">Case 8</text>
<text transform="translate(58.55,40.65) scale(0.908,1)" style="font-size:10.36px;">HLA-A2</text>
<text transform="translate(130.35,40.65) scale(0.901,1)" style="font-size:10.36px;">HLA-A24</text>
<text transform="translate(226.44,40.65) scale(0.911,1)" style="font-size:10.36px;">HLA-A26</text>
<text transform="translate(301.35,40.65) scale(0.900,1)" style="font-size:10.36px;">HLA-A2</text>
<text transform="translate(386.45,40.65) scale(0.908,1)" style="font-size:10.36px;">HLA-A24</text>
<text transform="translate(466.46,40.65) scale(0.897,1)" style="font-size:10.36px;">HLA-A2</text>
<text transform="translate(96.03,399.05) scale(0.834,1)" style="font-size:11.36px;">Case 13</text>
<text transform="translate(267.33,399.05) scale(0.857,1)" style="font-size:11.07px;">Case 12</text>
<text transform="translate(429.81,399.05) scale(0.878,1)" style="font-size:11.07px;">Case 8</text>
<text transform="translate(62.27,416.35) scale(0.862,1)" style="font-size:10.64px;">HLA-A2</text>
<text transform="translate(131.48,416.35) scale(0.848,1)" style="font-size:10.64px;">HLA-A24</text>
<text transform="translate(227.56,416.35) scale(0.870,1)" style="font-size:10.64px;">HLA-A26</text>
<text transform="translate(302.57,416.35) scale(0.862,1)" style="font-size:10.64px;">HLA-A2</text>
<text transform="translate(390.06,416.35) scale(0.867,1)" style="font-size:10.64px;">HLA-A24</text>
<text transform="translate(465.07,416.35) scale(0.862,1)" style="font-size:10.64px;">HLA-A2</text>
<text transform="translate(8.70,470.51) rotate(-90) scale(0.945,1)" style="font-size:10.86px">CD34+</text>
<text transform="translate(19.80,495.99) rotate(-90) scale(0.938,1)" style="font-size:11.31px">bone marrow cells</text>
</svg>
</body></html>
